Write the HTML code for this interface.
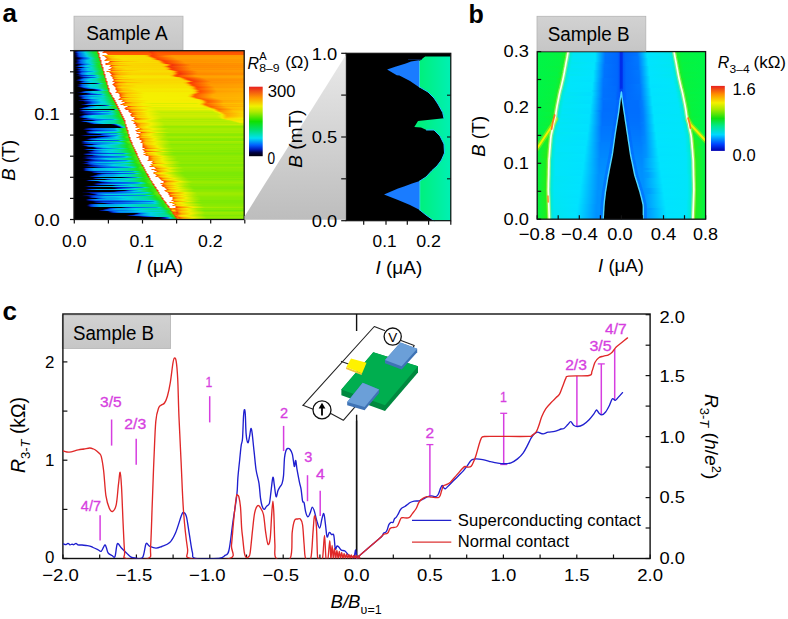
<!DOCTYPE html>
<html><head><meta charset="utf-8"><style>
html,body{margin:0;padding:0;background:#fff;}
body{width:788px;height:619px;overflow:hidden;}
svg{display:block;font-family:"Liberation Sans", sans-serif;}
</style></head><body>
<svg width="788" height="619" viewBox="0 0 788 619">
<defs>
<linearGradient id="g1" gradientUnits="userSpaceOnUse" x1="74.0" y1="0" x2="244.2" y2="0"><stop offset="0.0000" stop-color="#000000"/><stop offset="0.0118" stop-color="#000559"/><stop offset="0.0176" stop-color="#0013a6"/><stop offset="0.0235" stop-color="#0039cf"/><stop offset="0.0353" stop-color="#0060f0"/><stop offset="0.0705" stop-color="#00d5e0"/><stop offset="0.1116" stop-color="#0fdf4c"/><stop offset="0.1351" stop-color="#1ae122"/><stop offset="0.1410" stop-color="#f53608"/><stop offset="0.1469" stop-color="#ffffff"/><stop offset="0.1704" stop-color="#ffffff"/><stop offset="0.1763" stop-color="#ff4900"/><stop offset="0.1821" stop-color="#ff5f00"/><stop offset="0.4348" stop-color="#ff5f00"/><stop offset="0.4524" stop-color="#ff4500"/><stop offset="0.4877" stop-color="#ff5f00"/><stop offset="0.9988" stop-color="#ff5f00"/></linearGradient>
<linearGradient id="g2" gradientUnits="userSpaceOnUse" x1="74.0" y1="0" x2="244.2" y2="0"><stop offset="0.0000" stop-color="#000000"/><stop offset="0.0118" stop-color="#001199"/><stop offset="0.0235" stop-color="#005bf0"/><stop offset="0.0646" stop-color="#00d5e0"/><stop offset="0.1116" stop-color="#14e039"/><stop offset="0.1351" stop-color="#2ae212"/><stop offset="0.1410" stop-color="#f53608"/><stop offset="0.1469" stop-color="#ffffff"/><stop offset="0.1645" stop-color="#ffffff"/><stop offset="0.1704" stop-color="#ff4e00"/><stop offset="0.4348" stop-color="#ff5000"/><stop offset="0.4524" stop-color="#f63807"/><stop offset="0.4877" stop-color="#ff5000"/><stop offset="0.9988" stop-color="#ff5000"/></linearGradient>
<linearGradient id="g3" gradientUnits="userSpaceOnUse" x1="74.0" y1="0" x2="244.2" y2="0"><stop offset="0.0000" stop-color="#000000"/><stop offset="0.0118" stop-color="#000452"/><stop offset="0.0235" stop-color="#0035cb"/><stop offset="0.0294" stop-color="#0057ed"/><stop offset="0.0353" stop-color="#0067ef"/><stop offset="0.0705" stop-color="#00d4e5"/><stop offset="0.1116" stop-color="#0edf4f"/><stop offset="0.1351" stop-color="#1de119"/><stop offset="0.1410" stop-color="#f53608"/><stop offset="0.1469" stop-color="#f53608"/><stop offset="0.1528" stop-color="#ffffff"/><stop offset="0.1880" stop-color="#ffffff"/><stop offset="0.1939" stop-color="#ff5900"/><stop offset="0.4465" stop-color="#ff5900"/><stop offset="0.4583" stop-color="#fb3f03"/><stop offset="0.4935" stop-color="#ff5900"/><stop offset="0.9988" stop-color="#ff5900"/></linearGradient>
<linearGradient id="g4" gradientUnits="userSpaceOnUse" x1="74.0" y1="0" x2="244.2" y2="0"><stop offset="0.0000" stop-color="#000000"/><stop offset="0.0118" stop-color="#00065d"/><stop offset="0.0176" stop-color="#0014aa"/><stop offset="0.0294" stop-color="#0057ed"/><stop offset="0.0353" stop-color="#0064ef"/><stop offset="0.0705" stop-color="#00d0e8"/><stop offset="0.1234" stop-color="#14e03a"/><stop offset="0.1410" stop-color="#1be11d"/><stop offset="0.1469" stop-color="#f53608"/><stop offset="0.1528" stop-color="#ffffff"/><stop offset="0.1939" stop-color="#ffffff"/><stop offset="0.1998" stop-color="#ff5c00"/><stop offset="0.4465" stop-color="#ff5c00"/><stop offset="0.4642" stop-color="#fd4301"/><stop offset="0.4994" stop-color="#ff5c00"/><stop offset="0.9988" stop-color="#ff5c00"/></linearGradient>
<linearGradient id="g5" gradientUnits="userSpaceOnUse" x1="74.0" y1="0" x2="244.2" y2="0"><stop offset="0.0000" stop-color="#000000"/><stop offset="0.0118" stop-color="#000144"/><stop offset="0.0176" stop-color="#000e8a"/><stop offset="0.0294" stop-color="#0051e7"/><stop offset="0.0353" stop-color="#0063ef"/><stop offset="0.0764" stop-color="#00d5df"/><stop offset="0.1234" stop-color="#13e03b"/><stop offset="0.1410" stop-color="#1de119"/><stop offset="0.1469" stop-color="#f53608"/><stop offset="0.1528" stop-color="#ffffff"/><stop offset="0.1645" stop-color="#ffffff"/><stop offset="0.1704" stop-color="#ff5d00"/><stop offset="0.1821" stop-color="#ffba00"/><stop offset="0.2056" stop-color="#f8df00"/><stop offset="0.4113" stop-color="#f9dc00"/><stop offset="0.4289" stop-color="#ffc000"/><stop offset="0.4524" stop-color="#ff4700"/><stop offset="0.4583" stop-color="#fb4003"/><stop offset="0.5758" stop-color="#ff9800"/><stop offset="0.9988" stop-color="#ff9a00"/></linearGradient>
<linearGradient id="g6" gradientUnits="userSpaceOnUse" x1="74.0" y1="0" x2="244.2" y2="0"><stop offset="0.0000" stop-color="#000000"/><stop offset="0.0118" stop-color="#00003b"/><stop offset="0.0176" stop-color="#000d82"/><stop offset="0.0235" stop-color="#0028be"/><stop offset="0.0353" stop-color="#005df0"/><stop offset="0.0764" stop-color="#00d4e7"/><stop offset="0.1234" stop-color="#10e048"/><stop offset="0.1410" stop-color="#1be120"/><stop offset="0.1469" stop-color="#f53608"/><stop offset="0.1528" stop-color="#ffffff"/><stop offset="0.1763" stop-color="#ffffff"/><stop offset="0.1821" stop-color="#ff6700"/><stop offset="0.2056" stop-color="#ffbc00"/><stop offset="0.2526" stop-color="#f8e100"/><stop offset="0.4172" stop-color="#f9dd00"/><stop offset="0.4348" stop-color="#ffbb00"/><stop offset="0.4524" stop-color="#ff5900"/><stop offset="0.4642" stop-color="#fd4301"/><stop offset="0.5347" stop-color="#ff8700"/><stop offset="0.5817" stop-color="#ff9b00"/><stop offset="0.9988" stop-color="#ff9d00"/></linearGradient>
<linearGradient id="g7" gradientUnits="userSpaceOnUse" x1="74.0" y1="0" x2="244.2" y2="0"><stop offset="0.0000" stop-color="#000000"/><stop offset="0.0176" stop-color="#000027"/><stop offset="0.0353" stop-color="#0013a6"/><stop offset="0.0588" stop-color="#005cf0"/><stop offset="0.0940" stop-color="#00d5e0"/><stop offset="0.1234" stop-color="#0cdf55"/><stop offset="0.1410" stop-color="#19e027"/><stop offset="0.1469" stop-color="#f53608"/><stop offset="0.1528" stop-color="#f53608"/><stop offset="0.1586" stop-color="#ffffff"/><stop offset="0.1821" stop-color="#ffffff"/><stop offset="0.1880" stop-color="#ff4e00"/><stop offset="0.1998" stop-color="#ff9d00"/><stop offset="0.2115" stop-color="#fec300"/><stop offset="0.2468" stop-color="#f8e300"/><stop offset="0.4348" stop-color="#f9dd00"/><stop offset="0.4465" stop-color="#fdc700"/><stop offset="0.4700" stop-color="#ff4f00"/><stop offset="0.4759" stop-color="#ff4600"/><stop offset="0.5934" stop-color="#ff9d00"/><stop offset="0.9988" stop-color="#ffa000"/></linearGradient>
<linearGradient id="g8" gradientUnits="userSpaceOnUse" x1="74.0" y1="0" x2="244.2" y2="0"><stop offset="0.0000" stop-color="#000000"/><stop offset="0.0118" stop-color="#000000"/><stop offset="0.0235" stop-color="#00001f"/><stop offset="0.0294" stop-color="#000038"/><stop offset="0.0470" stop-color="#0024ba"/><stop offset="0.0588" stop-color="#004de3"/><stop offset="0.0705" stop-color="#0066ef"/><stop offset="0.0999" stop-color="#00d5da"/><stop offset="0.1293" stop-color="#0fdf4b"/><stop offset="0.1469" stop-color="#19e125"/><stop offset="0.1528" stop-color="#f53608"/><stop offset="0.1586" stop-color="#ffffff"/><stop offset="0.1880" stop-color="#ffffff"/><stop offset="0.1939" stop-color="#ff6a00"/><stop offset="0.2233" stop-color="#fec300"/><stop offset="0.2761" stop-color="#f7e400"/><stop offset="0.4465" stop-color="#f8df00"/><stop offset="0.4642" stop-color="#ffb800"/><stop offset="0.4877" stop-color="#ff4700"/><stop offset="0.6052" stop-color="#ff9d00"/><stop offset="0.9988" stop-color="#ffa100"/></linearGradient>
<linearGradient id="g9" gradientUnits="userSpaceOnUse" x1="74.0" y1="0" x2="244.2" y2="0"><stop offset="0.0000" stop-color="#000000"/><stop offset="0.0059" stop-color="#000000"/><stop offset="0.0176" stop-color="#00003e"/><stop offset="0.0294" stop-color="#00129f"/><stop offset="0.0470" stop-color="#0059ef"/><stop offset="0.0529" stop-color="#0064ef"/><stop offset="0.0940" stop-color="#00d5de"/><stop offset="0.1293" stop-color="#11e045"/><stop offset="0.1469" stop-color="#1ce11a"/><stop offset="0.1528" stop-color="#f53608"/><stop offset="0.1586" stop-color="#ffffff"/><stop offset="0.1821" stop-color="#ffffff"/><stop offset="0.1880" stop-color="#ff5000"/><stop offset="0.1998" stop-color="#ff8200"/><stop offset="0.2233" stop-color="#ffb700"/><stop offset="0.2879" stop-color="#f9de00"/><stop offset="0.4524" stop-color="#f9da00"/><stop offset="0.4700" stop-color="#ffb300"/><stop offset="0.4935" stop-color="#fc4103"/><stop offset="0.6110" stop-color="#ff9700"/><stop offset="0.9988" stop-color="#ff9a00"/></linearGradient>
<linearGradient id="g10" gradientUnits="userSpaceOnUse" x1="74.0" y1="0" x2="244.2" y2="0"><stop offset="0.0000" stop-color="#000000"/><stop offset="0.0059" stop-color="#000000"/><stop offset="0.0176" stop-color="#000557"/><stop offset="0.0235" stop-color="#0013a2"/><stop offset="0.0353" stop-color="#0059ef"/><stop offset="0.0411" stop-color="#0067ef"/><stop offset="0.0764" stop-color="#00d0e8"/><stop offset="0.0940" stop-color="#00d6d0"/><stop offset="0.1469" stop-color="#1ce11c"/><stop offset="0.1528" stop-color="#f53608"/><stop offset="0.1586" stop-color="#f53608"/><stop offset="0.1645" stop-color="#ffffff"/><stop offset="0.1763" stop-color="#ffffff"/><stop offset="0.1821" stop-color="#fd4401"/><stop offset="0.1939" stop-color="#ff9200"/><stop offset="0.2056" stop-color="#ffba00"/><stop offset="0.2468" stop-color="#f8df00"/><stop offset="0.4759" stop-color="#f9db00"/><stop offset="0.4935" stop-color="#ffba00"/><stop offset="0.5112" stop-color="#ff5800"/><stop offset="0.5229" stop-color="#fb4003"/><stop offset="0.6345" stop-color="#ff9700"/><stop offset="0.9988" stop-color="#ff9a00"/></linearGradient>
<linearGradient id="g11" gradientUnits="userSpaceOnUse" x1="74.0" y1="0" x2="244.2" y2="0"><stop offset="0.0000" stop-color="#000000"/><stop offset="0.0118" stop-color="#000000"/><stop offset="0.0294" stop-color="#0022b8"/><stop offset="0.0411" stop-color="#0064ef"/><stop offset="0.0764" stop-color="#00cbe9"/><stop offset="0.0940" stop-color="#00d6d0"/><stop offset="0.1351" stop-color="#14e039"/><stop offset="0.1528" stop-color="#1fe114"/><stop offset="0.1586" stop-color="#f53608"/><stop offset="0.1645" stop-color="#ffffff"/><stop offset="0.2056" stop-color="#ffffff"/><stop offset="0.2115" stop-color="#fb3f04"/><stop offset="0.2174" stop-color="#ff5000"/><stop offset="0.2468" stop-color="#ff8f00"/><stop offset="0.2879" stop-color="#ffbc00"/><stop offset="0.3937" stop-color="#f9dc00"/><stop offset="0.4935" stop-color="#fbd200"/><stop offset="0.5053" stop-color="#ffb400"/><stop offset="0.5229" stop-color="#ff5100"/><stop offset="0.5347" stop-color="#fa3e04"/><stop offset="0.6463" stop-color="#ff9400"/><stop offset="0.9988" stop-color="#ff9800"/></linearGradient>
<linearGradient id="g12" gradientUnits="userSpaceOnUse" x1="74.0" y1="0" x2="244.2" y2="0"><stop offset="0.0000" stop-color="#000000"/><stop offset="0.0059" stop-color="#000000"/><stop offset="0.0118" stop-color="#000028"/><stop offset="0.0176" stop-color="#000558"/><stop offset="0.0235" stop-color="#0013a5"/><stop offset="0.0353" stop-color="#0056ec"/><stop offset="0.0411" stop-color="#0063ef"/><stop offset="0.0764" stop-color="#00cae9"/><stop offset="0.0940" stop-color="#00d5da"/><stop offset="0.1528" stop-color="#1be11f"/><stop offset="0.1586" stop-color="#f53608"/><stop offset="0.1645" stop-color="#ffffff"/><stop offset="0.1998" stop-color="#ffffff"/><stop offset="0.2056" stop-color="#ff5600"/><stop offset="0.2174" stop-color="#ff9900"/><stop offset="0.2291" stop-color="#ffbd00"/><stop offset="0.2703" stop-color="#f8e100"/><stop offset="0.4935" stop-color="#f9dc00"/><stop offset="0.5053" stop-color="#fdca00"/><stop offset="0.5288" stop-color="#ff5500"/><stop offset="0.5405" stop-color="#fd4301"/><stop offset="0.6522" stop-color="#ff9a00"/><stop offset="0.9988" stop-color="#ff9d00"/></linearGradient>
<linearGradient id="g13" gradientUnits="userSpaceOnUse" x1="74.0" y1="0" x2="244.2" y2="0"><stop offset="0.0000" stop-color="#000000"/><stop offset="0.0059" stop-color="#000000"/><stop offset="0.0118" stop-color="#000453"/><stop offset="0.0235" stop-color="#001092"/><stop offset="0.0470" stop-color="#0064ef"/><stop offset="0.0940" stop-color="#00d4e4"/><stop offset="0.1351" stop-color="#14e037"/><stop offset="0.1528" stop-color="#2ce212"/><stop offset="0.1586" stop-color="#f53608"/><stop offset="0.1645" stop-color="#ffffff"/><stop offset="0.1821" stop-color="#ffffff"/><stop offset="0.1880" stop-color="#fb4003"/><stop offset="0.1939" stop-color="#ff5600"/><stop offset="0.2115" stop-color="#ff8a00"/><stop offset="0.2409" stop-color="#ffb600"/><stop offset="0.3173" stop-color="#fad700"/><stop offset="0.5053" stop-color="#fbd000"/><stop offset="0.5170" stop-color="#ffba00"/><stop offset="0.5405" stop-color="#fb3f03"/><stop offset="0.5464" stop-color="#f53608"/><stop offset="0.6580" stop-color="#ff8d00"/><stop offset="0.9988" stop-color="#ff9100"/></linearGradient>
<linearGradient id="g14" gradientUnits="userSpaceOnUse" x1="74.0" y1="0" x2="244.2" y2="0"><stop offset="0.0000" stop-color="#000000"/><stop offset="0.0235" stop-color="#000000"/><stop offset="0.0294" stop-color="#000143"/><stop offset="0.0353" stop-color="#000451"/><stop offset="0.0470" stop-color="#0013a4"/><stop offset="0.0646" stop-color="#0061f0"/><stop offset="0.1058" stop-color="#00d5db"/><stop offset="0.1351" stop-color="#11e043"/><stop offset="0.1528" stop-color="#25e213"/><stop offset="0.1586" stop-color="#f53608"/><stop offset="0.1645" stop-color="#f53608"/><stop offset="0.1704" stop-color="#ffffff"/><stop offset="0.1821" stop-color="#ffffff"/><stop offset="0.1880" stop-color="#fd4301"/><stop offset="0.1998" stop-color="#ff7f00"/><stop offset="0.2233" stop-color="#ffb900"/><stop offset="0.2761" stop-color="#fad800"/><stop offset="0.5288" stop-color="#fad500"/><stop offset="0.5464" stop-color="#ffb900"/><stop offset="0.5640" stop-color="#ff5800"/><stop offset="0.5758" stop-color="#f63807"/><stop offset="0.6874" stop-color="#ff8f00"/><stop offset="0.9988" stop-color="#ff9300"/></linearGradient>
<linearGradient id="g15" gradientUnits="userSpaceOnUse" x1="74.0" y1="0" x2="244.2" y2="0"><stop offset="0.0000" stop-color="#000000"/><stop offset="0.0176" stop-color="#000000"/><stop offset="0.0235" stop-color="#000869"/><stop offset="0.0294" stop-color="#00119a"/><stop offset="0.0411" stop-color="#0055eb"/><stop offset="0.0470" stop-color="#0074ee"/><stop offset="0.0823" stop-color="#00d4e5"/><stop offset="0.1116" stop-color="#00db9e"/><stop offset="0.1469" stop-color="#1ee114"/><stop offset="0.1586" stop-color="#37e310"/><stop offset="0.1645" stop-color="#f53608"/><stop offset="0.1704" stop-color="#ffffff"/><stop offset="0.2115" stop-color="#ffffff"/><stop offset="0.2174" stop-color="#f93c05"/><stop offset="0.2233" stop-color="#ff5200"/><stop offset="0.2409" stop-color="#ff8600"/><stop offset="0.2703" stop-color="#ffb200"/><stop offset="0.3467" stop-color="#fbd400"/><stop offset="0.5288" stop-color="#fbd000"/><stop offset="0.5464" stop-color="#ffaf00"/><stop offset="0.5640" stop-color="#ff4c00"/><stop offset="0.5758" stop-color="#f2320a"/><stop offset="0.6874" stop-color="#ff8900"/><stop offset="0.9988" stop-color="#ff8d00"/></linearGradient>
<linearGradient id="g16" gradientUnits="userSpaceOnUse" x1="74.0" y1="0" x2="244.2" y2="0"><stop offset="0.0000" stop-color="#000000"/><stop offset="0.0059" stop-color="#000000"/><stop offset="0.0118" stop-color="#000454"/><stop offset="0.0176" stop-color="#000d85"/><stop offset="0.0294" stop-color="#0050e6"/><stop offset="0.0353" stop-color="#0070ef"/><stop offset="0.0705" stop-color="#00d2e8"/><stop offset="0.1058" stop-color="#00d9b7"/><stop offset="0.1469" stop-color="#1be120"/><stop offset="0.1586" stop-color="#2de212"/><stop offset="0.1645" stop-color="#f53608"/><stop offset="0.1704" stop-color="#ffffff"/><stop offset="0.2056" stop-color="#ffffff"/><stop offset="0.2115" stop-color="#fe4401"/><stop offset="0.2174" stop-color="#ff8700"/><stop offset="0.2233" stop-color="#ffab00"/><stop offset="0.2468" stop-color="#fad700"/><stop offset="0.5112" stop-color="#fad500"/><stop offset="0.5288" stop-color="#ffbf00"/><stop offset="0.5582" stop-color="#f53608"/><stop offset="0.6757" stop-color="#ff8d00"/><stop offset="0.9988" stop-color="#ff9100"/></linearGradient>
<linearGradient id="g17" gradientUnits="userSpaceOnUse" x1="74.0" y1="0" x2="244.2" y2="0"><stop offset="0.0000" stop-color="#000000"/><stop offset="0.0411" stop-color="#000000"/><stop offset="0.0470" stop-color="#000a71"/><stop offset="0.0529" stop-color="#0018ae"/><stop offset="0.0646" stop-color="#0067ef"/><stop offset="0.0999" stop-color="#00d5e1"/><stop offset="0.1469" stop-color="#1ae121"/><stop offset="0.1586" stop-color="#2fe211"/><stop offset="0.1645" stop-color="#f53608"/><stop offset="0.1704" stop-color="#f53608"/><stop offset="0.1763" stop-color="#ffffff"/><stop offset="0.2174" stop-color="#ffffff"/><stop offset="0.2233" stop-color="#ff5800"/><stop offset="0.2291" stop-color="#ff8700"/><stop offset="0.2409" stop-color="#ffb700"/><stop offset="0.2703" stop-color="#fad500"/><stop offset="0.5229" stop-color="#fbd300"/><stop offset="0.5405" stop-color="#ffbc00"/><stop offset="0.5699" stop-color="#f33409"/><stop offset="0.6816" stop-color="#ff8a00"/><stop offset="0.9988" stop-color="#ff8e00"/></linearGradient>
<linearGradient id="g18" gradientUnits="userSpaceOnUse" x1="74.0" y1="0" x2="244.2" y2="0"><stop offset="0.0000" stop-color="#000000"/><stop offset="0.0059" stop-color="#000000"/><stop offset="0.0176" stop-color="#000556"/><stop offset="0.0235" stop-color="#00129d"/><stop offset="0.0353" stop-color="#005af0"/><stop offset="0.0764" stop-color="#00cee8"/><stop offset="0.1058" stop-color="#00d7ca"/><stop offset="0.1528" stop-color="#19e027"/><stop offset="0.1645" stop-color="#20e114"/><stop offset="0.1704" stop-color="#f53608"/><stop offset="0.1763" stop-color="#ffffff"/><stop offset="0.2115" stop-color="#ffffff"/><stop offset="0.2174" stop-color="#ff5700"/><stop offset="0.2291" stop-color="#ff8a00"/><stop offset="0.2526" stop-color="#ffbe00"/><stop offset="0.3055" stop-color="#f9dc00"/><stop offset="0.5347" stop-color="#fad900"/><stop offset="0.5523" stop-color="#ffb800"/><stop offset="0.5699" stop-color="#ff5600"/><stop offset="0.5817" stop-color="#f93d05"/><stop offset="0.6933" stop-color="#ff9400"/><stop offset="0.9988" stop-color="#ff9700"/></linearGradient>
<linearGradient id="g19" gradientUnits="userSpaceOnUse" x1="74.0" y1="0" x2="244.2" y2="0"><stop offset="0.0000" stop-color="#000000"/><stop offset="0.0176" stop-color="#000000"/><stop offset="0.0353" stop-color="#0018ae"/><stop offset="0.0470" stop-color="#0065ef"/><stop offset="0.0823" stop-color="#00cce9"/><stop offset="0.1116" stop-color="#00d8bc"/><stop offset="0.1528" stop-color="#1ae122"/><stop offset="0.1645" stop-color="#2ae212"/><stop offset="0.1704" stop-color="#f53608"/><stop offset="0.1763" stop-color="#ffffff"/><stop offset="0.1998" stop-color="#ffffff"/><stop offset="0.2056" stop-color="#ff5300"/><stop offset="0.2233" stop-color="#ff9000"/><stop offset="0.2468" stop-color="#ffb900"/><stop offset="0.3114" stop-color="#fad800"/><stop offset="0.5347" stop-color="#fbd300"/><stop offset="0.5464" stop-color="#ffbf00"/><stop offset="0.5699" stop-color="#fe4501"/><stop offset="0.5758" stop-color="#f63807"/><stop offset="0.6874" stop-color="#ff8e00"/><stop offset="0.9988" stop-color="#ff9200"/></linearGradient>
<linearGradient id="g20" gradientUnits="userSpaceOnUse" x1="74.0" y1="0" x2="244.2" y2="0"><stop offset="0.0000" stop-color="#000000"/><stop offset="0.0059" stop-color="#000000"/><stop offset="0.0176" stop-color="#000038"/><stop offset="0.0294" stop-color="#0023b9"/><stop offset="0.0411" stop-color="#005ff0"/><stop offset="0.0823" stop-color="#00cee8"/><stop offset="0.1116" stop-color="#00d7cc"/><stop offset="0.1645" stop-color="#1ce11d"/><stop offset="0.1704" stop-color="#f53608"/><stop offset="0.1763" stop-color="#ffffff"/><stop offset="0.2115" stop-color="#ffffff"/><stop offset="0.2174" stop-color="#ff5100"/><stop offset="0.2468" stop-color="#ff9100"/><stop offset="0.2879" stop-color="#ffbe00"/><stop offset="0.3995" stop-color="#f8df00"/><stop offset="0.5582" stop-color="#fad800"/><stop offset="0.5699" stop-color="#ffbf00"/><stop offset="0.5875" stop-color="#ff6000"/><stop offset="0.5993" stop-color="#fc4103"/><stop offset="0.7109" stop-color="#ff9700"/><stop offset="0.9988" stop-color="#ff9b00"/></linearGradient>
<linearGradient id="g21" gradientUnits="userSpaceOnUse" x1="74.0" y1="0" x2="244.2" y2="0"><stop offset="0.0000" stop-color="#000000"/><stop offset="0.0118" stop-color="#000000"/><stop offset="0.0235" stop-color="#00003b"/><stop offset="0.0353" stop-color="#0013a3"/><stop offset="0.0411" stop-color="#002bc1"/><stop offset="0.0646" stop-color="#005bf0"/><stop offset="0.1058" stop-color="#00a4eb"/><stop offset="0.1175" stop-color="#00cce9"/><stop offset="0.1528" stop-color="#13e03c"/><stop offset="0.1704" stop-color="#1de116"/><stop offset="0.1763" stop-color="#f53608"/><stop offset="0.1821" stop-color="#ffffff"/><stop offset="0.1880" stop-color="#ffffff"/><stop offset="0.1939" stop-color="#ff4800"/><stop offset="0.2056" stop-color="#ff8000"/><stop offset="0.2291" stop-color="#ffb900"/><stop offset="0.2879" stop-color="#f9de00"/><stop offset="0.5699" stop-color="#f9dc00"/><stop offset="0.5875" stop-color="#fec400"/><stop offset="0.6110" stop-color="#ff4c00"/><stop offset="0.6169" stop-color="#fb3f03"/><stop offset="0.7286" stop-color="#ff9500"/><stop offset="0.9988" stop-color="#ff9a00"/></linearGradient>
<linearGradient id="g22" gradientUnits="userSpaceOnUse" x1="74.0" y1="0" x2="244.2" y2="0"><stop offset="0.0000" stop-color="#000000"/><stop offset="0.0176" stop-color="#000000"/><stop offset="0.0294" stop-color="#000760"/><stop offset="0.0353" stop-color="#0013a5"/><stop offset="0.0470" stop-color="#005ff0"/><stop offset="0.0881" stop-color="#00d4e6"/><stop offset="0.1116" stop-color="#00d7c8"/><stop offset="0.1586" stop-color="#1ae123"/><stop offset="0.1704" stop-color="#26e213"/><stop offset="0.1763" stop-color="#f53608"/><stop offset="0.1821" stop-color="#ffffff"/><stop offset="0.2056" stop-color="#ffffff"/><stop offset="0.2115" stop-color="#ff4c00"/><stop offset="0.2350" stop-color="#ff8f00"/><stop offset="0.2644" stop-color="#ffb900"/><stop offset="0.3467" stop-color="#f9da00"/><stop offset="0.5699" stop-color="#fad600"/><stop offset="0.5875" stop-color="#ffb500"/><stop offset="0.6052" stop-color="#ff5300"/><stop offset="0.6169" stop-color="#f73a06"/><stop offset="0.7227" stop-color="#ff9000"/><stop offset="0.9988" stop-color="#ff9500"/></linearGradient>
<linearGradient id="g23" gradientUnits="userSpaceOnUse" x1="74.0" y1="0" x2="244.2" y2="0"><stop offset="0.0000" stop-color="#000000"/><stop offset="0.0118" stop-color="#000000"/><stop offset="0.0176" stop-color="#00065b"/><stop offset="0.0235" stop-color="#000b77"/><stop offset="0.0294" stop-color="#001cb2"/><stop offset="0.0411" stop-color="#006bef"/><stop offset="0.0764" stop-color="#00d0e8"/><stop offset="0.1175" stop-color="#00d9b2"/><stop offset="0.1586" stop-color="#1ce11c"/><stop offset="0.1704" stop-color="#33e311"/><stop offset="0.1763" stop-color="#f53608"/><stop offset="0.1821" stop-color="#ffffff"/><stop offset="0.2115" stop-color="#ffffff"/><stop offset="0.2174" stop-color="#fa3f04"/><stop offset="0.2233" stop-color="#ff5800"/><stop offset="0.2409" stop-color="#ff8e00"/><stop offset="0.2644" stop-color="#ffb400"/><stop offset="0.3290" stop-color="#fbd400"/><stop offset="0.5758" stop-color="#fbd000"/><stop offset="0.5934" stop-color="#ffa900"/><stop offset="0.6110" stop-color="#fe4501"/><stop offset="0.6228" stop-color="#f33309"/><stop offset="0.7286" stop-color="#ff8a00"/><stop offset="0.9988" stop-color="#ff8e00"/></linearGradient>
<linearGradient id="g24" gradientUnits="userSpaceOnUse" x1="74.0" y1="0" x2="244.2" y2="0"><stop offset="0.0000" stop-color="#000000"/><stop offset="0.0235" stop-color="#000000"/><stop offset="0.0294" stop-color="#000a74"/><stop offset="0.0353" stop-color="#001ab0"/><stop offset="0.0470" stop-color="#0068ef"/><stop offset="0.0823" stop-color="#00d0e8"/><stop offset="0.1175" stop-color="#00d9b8"/><stop offset="0.1645" stop-color="#22e113"/><stop offset="0.1704" stop-color="#30e211"/><stop offset="0.1763" stop-color="#f53608"/><stop offset="0.1821" stop-color="#f53608"/><stop offset="0.1880" stop-color="#ffffff"/><stop offset="0.2174" stop-color="#ffffff"/><stop offset="0.2233" stop-color="#f73906"/><stop offset="0.2291" stop-color="#ff5100"/><stop offset="0.2468" stop-color="#ff8800"/><stop offset="0.2761" stop-color="#ffb600"/><stop offset="0.3467" stop-color="#fad500"/><stop offset="0.5699" stop-color="#fbd100"/><stop offset="0.5817" stop-color="#fec100"/><stop offset="0.6052" stop-color="#ff4900"/><stop offset="0.6169" stop-color="#f43409"/><stop offset="0.7227" stop-color="#ff8a00"/><stop offset="0.9988" stop-color="#ff8f00"/></linearGradient>
<linearGradient id="g25" gradientUnits="userSpaceOnUse" x1="74.0" y1="0" x2="244.2" y2="0"><stop offset="0.0000" stop-color="#000000"/><stop offset="0.0118" stop-color="#000000"/><stop offset="0.0411" stop-color="#0013a2"/><stop offset="0.1058" stop-color="#005ef0"/><stop offset="0.1175" stop-color="#007cee"/><stop offset="0.1351" stop-color="#00d6d8"/><stop offset="0.1586" stop-color="#10e047"/><stop offset="0.1763" stop-color="#1be11e"/><stop offset="0.1821" stop-color="#f53608"/><stop offset="0.1880" stop-color="#ffffff"/><stop offset="0.2115" stop-color="#ffffff"/><stop offset="0.2174" stop-color="#ff5b00"/><stop offset="0.2291" stop-color="#ff8a00"/><stop offset="0.2526" stop-color="#ffbd00"/><stop offset="0.3173" stop-color="#f8e100"/><stop offset="0.5582" stop-color="#f9de00"/><stop offset="0.5758" stop-color="#ffbe00"/><stop offset="0.5934" stop-color="#ff5d00"/><stop offset="0.6052" stop-color="#fe4401"/><stop offset="0.7109" stop-color="#ff9900"/><stop offset="0.9988" stop-color="#ff9e00"/></linearGradient>
<linearGradient id="g26" gradientUnits="userSpaceOnUse" x1="74.0" y1="0" x2="244.2" y2="0"><stop offset="0.0000" stop-color="#000000"/><stop offset="0.0235" stop-color="#00000b"/><stop offset="0.0294" stop-color="#000028"/><stop offset="0.0411" stop-color="#001ab0"/><stop offset="0.0588" stop-color="#005cf0"/><stop offset="0.0940" stop-color="#00bdea"/><stop offset="0.1234" stop-color="#00d5da"/><stop offset="0.1763" stop-color="#17e02c"/><stop offset="0.1821" stop-color="#f53608"/><stop offset="0.1880" stop-color="#ffffff"/><stop offset="0.2174" stop-color="#ffffff"/><stop offset="0.2233" stop-color="#ff6300"/><stop offset="0.2468" stop-color="#ffbf00"/><stop offset="0.2938" stop-color="#f7e600"/><stop offset="0.5640" stop-color="#f7e400"/><stop offset="0.5817" stop-color="#fdc600"/><stop offset="0.5993" stop-color="#ff6800"/><stop offset="0.6110" stop-color="#ff4c00"/><stop offset="0.7227" stop-color="#ffa100"/><stop offset="0.9988" stop-color="#ffa500"/></linearGradient>
<linearGradient id="g27" gradientUnits="userSpaceOnUse" x1="74.0" y1="0" x2="244.2" y2="0"><stop offset="0.0000" stop-color="#000000"/><stop offset="0.0294" stop-color="#000000"/><stop offset="0.0588" stop-color="#001198"/><stop offset="0.1175" stop-color="#0066ef"/><stop offset="0.1351" stop-color="#00c2e9"/><stop offset="0.1410" stop-color="#00d6d2"/><stop offset="0.1586" stop-color="#09df61"/><stop offset="0.1763" stop-color="#18e02a"/><stop offset="0.1821" stop-color="#f53608"/><stop offset="0.1880" stop-color="#ffffff"/><stop offset="0.2233" stop-color="#ffffff"/><stop offset="0.2291" stop-color="#ff5400"/><stop offset="0.2409" stop-color="#ff8700"/><stop offset="0.2644" stop-color="#ffbd00"/><stop offset="0.3349" stop-color="#f7e600"/><stop offset="0.5993" stop-color="#f8e300"/><stop offset="0.6169" stop-color="#fec300"/><stop offset="0.6345" stop-color="#ff6300"/><stop offset="0.6463" stop-color="#ff4b00"/><stop offset="0.7521" stop-color="#ff9f00"/><stop offset="0.9988" stop-color="#ffa400"/></linearGradient>
<linearGradient id="g28" gradientUnits="userSpaceOnUse" x1="74.0" y1="0" x2="244.2" y2="0"><stop offset="0.0000" stop-color="#000000"/><stop offset="0.0294" stop-color="#000000"/><stop offset="0.0470" stop-color="#001cb2"/><stop offset="0.0588" stop-color="#0063ef"/><stop offset="0.0999" stop-color="#00d4e7"/><stop offset="0.1234" stop-color="#00d7ca"/><stop offset="0.1704" stop-color="#1ae124"/><stop offset="0.1821" stop-color="#22e113"/><stop offset="0.1880" stop-color="#f53608"/><stop offset="0.1939" stop-color="#ffffff"/><stop offset="0.2233" stop-color="#ffffff"/><stop offset="0.2291" stop-color="#ff4c00"/><stop offset="0.2350" stop-color="#ff8e00"/><stop offset="0.2409" stop-color="#ffb200"/><stop offset="0.2644" stop-color="#f9dc00"/><stop offset="0.6110" stop-color="#f9dd00"/><stop offset="0.6287" stop-color="#fccb00"/><stop offset="0.6522" stop-color="#ff5700"/><stop offset="0.6639" stop-color="#fb4003"/><stop offset="0.7697" stop-color="#ff9500"/><stop offset="0.9988" stop-color="#ff9a00"/></linearGradient>
<linearGradient id="g29" gradientUnits="userSpaceOnUse" x1="74.0" y1="0" x2="244.2" y2="0"><stop offset="0.0000" stop-color="#000000"/><stop offset="0.0176" stop-color="#000000"/><stop offset="0.0235" stop-color="#000450"/><stop offset="0.0353" stop-color="#001fb5"/><stop offset="0.0470" stop-color="#006bef"/><stop offset="0.0881" stop-color="#00d5e2"/><stop offset="0.1293" stop-color="#00d9b4"/><stop offset="0.1704" stop-color="#1ce11d"/><stop offset="0.1821" stop-color="#2fe211"/><stop offset="0.1880" stop-color="#f53608"/><stop offset="0.1939" stop-color="#ffffff"/><stop offset="0.2291" stop-color="#ffffff"/><stop offset="0.2350" stop-color="#fb4003"/><stop offset="0.2409" stop-color="#ff5600"/><stop offset="0.2585" stop-color="#ff8800"/><stop offset="0.2879" stop-color="#ffb500"/><stop offset="0.3702" stop-color="#fad900"/><stop offset="0.6287" stop-color="#fad600"/><stop offset="0.6404" stop-color="#fec500"/><stop offset="0.6639" stop-color="#ff4e00"/><stop offset="0.6757" stop-color="#f73a06"/><stop offset="0.7814" stop-color="#ff8f00"/><stop offset="0.9988" stop-color="#ff9400"/></linearGradient>
<linearGradient id="g30" gradientUnits="userSpaceOnUse" x1="74.0" y1="0" x2="244.2" y2="0"><stop offset="0.0000" stop-color="#000000"/><stop offset="0.0118" stop-color="#000000"/><stop offset="0.0176" stop-color="#000556"/><stop offset="0.0235" stop-color="#000b76"/><stop offset="0.0294" stop-color="#001cb2"/><stop offset="0.0411" stop-color="#006aef"/><stop offset="0.0823" stop-color="#00d5e2"/><stop offset="0.1293" stop-color="#00d9b2"/><stop offset="0.1704" stop-color="#1be11f"/><stop offset="0.1821" stop-color="#31e311"/><stop offset="0.1880" stop-color="#f53608"/><stop offset="0.1939" stop-color="#ffffff"/><stop offset="0.2291" stop-color="#ffffff"/><stop offset="0.2350" stop-color="#ff6f00"/><stop offset="0.2468" stop-color="#ffb800"/><stop offset="0.2703" stop-color="#fad500"/><stop offset="0.6404" stop-color="#fad700"/><stop offset="0.6580" stop-color="#fec100"/><stop offset="0.6874" stop-color="#f73906"/><stop offset="0.7932" stop-color="#ff8d00"/><stop offset="0.9988" stop-color="#ff9300"/></linearGradient>
<linearGradient id="g31" gradientUnits="userSpaceOnUse" x1="74.0" y1="0" x2="244.2" y2="0"><stop offset="0.0000" stop-color="#000000"/><stop offset="0.0353" stop-color="#000000"/><stop offset="0.0529" stop-color="#001db3"/><stop offset="0.0646" stop-color="#0067ef"/><stop offset="0.0999" stop-color="#00cbe9"/><stop offset="0.1293" stop-color="#00d7c5"/><stop offset="0.1821" stop-color="#23e113"/><stop offset="0.1880" stop-color="#f53608"/><stop offset="0.1939" stop-color="#f53608"/><stop offset="0.1998" stop-color="#ffffff"/><stop offset="0.2233" stop-color="#ffffff"/><stop offset="0.2291" stop-color="#fc4102"/><stop offset="0.2350" stop-color="#ff6100"/><stop offset="0.2468" stop-color="#ff8f00"/><stop offset="0.2703" stop-color="#ffbe00"/><stop offset="0.3231" stop-color="#f9db00"/><stop offset="0.6580" stop-color="#f9db00"/><stop offset="0.6757" stop-color="#fec200"/><stop offset="0.6992" stop-color="#ff4900"/><stop offset="0.7051" stop-color="#fa3f04"/><stop offset="0.8108" stop-color="#ff9400"/><stop offset="0.9988" stop-color="#ff9900"/></linearGradient>
<linearGradient id="g32" gradientUnits="userSpaceOnUse" x1="74.0" y1="0" x2="244.2" y2="0"><stop offset="0.0000" stop-color="#000000"/><stop offset="0.0294" stop-color="#000000"/><stop offset="0.0353" stop-color="#000865"/><stop offset="0.0411" stop-color="#0012a0"/><stop offset="0.0529" stop-color="#005ff0"/><stop offset="0.0940" stop-color="#00d4e4"/><stop offset="0.1351" stop-color="#00d9b1"/><stop offset="0.1763" stop-color="#1de118"/><stop offset="0.1880" stop-color="#32e311"/><stop offset="0.1939" stop-color="#f53608"/><stop offset="0.1998" stop-color="#ffffff"/><stop offset="0.2350" stop-color="#ffffff"/><stop offset="0.2409" stop-color="#f63807"/><stop offset="0.2468" stop-color="#ff4900"/><stop offset="0.2703" stop-color="#ff8100"/><stop offset="0.3114" stop-color="#ffb400"/><stop offset="0.4172" stop-color="#f9db00"/><stop offset="0.6404" stop-color="#fad800"/><stop offset="0.6580" stop-color="#ffba00"/><stop offset="0.6757" stop-color="#ff5900"/><stop offset="0.6874" stop-color="#f83b06"/><stop offset="0.7932" stop-color="#ff9000"/><stop offset="0.9988" stop-color="#ff9500"/></linearGradient>
<linearGradient id="g33" gradientUnits="userSpaceOnUse" x1="74.0" y1="0" x2="244.2" y2="0"><stop offset="0.0000" stop-color="#000000"/><stop offset="0.1175" stop-color="#000000"/><stop offset="0.1234" stop-color="#00003e"/><stop offset="0.1293" stop-color="#00065d"/><stop offset="0.1351" stop-color="#0013a7"/><stop offset="0.1410" stop-color="#0049df"/><stop offset="0.1469" stop-color="#0084ed"/><stop offset="0.1528" stop-color="#00bde9"/><stop offset="0.1586" stop-color="#00d7cd"/><stop offset="0.1763" stop-color="#10e046"/><stop offset="0.1880" stop-color="#1ee115"/><stop offset="0.1939" stop-color="#f53608"/><stop offset="0.1998" stop-color="#ffffff"/><stop offset="0.2291" stop-color="#ffffff"/><stop offset="0.2350" stop-color="#f83b06"/><stop offset="0.2409" stop-color="#ff6400"/><stop offset="0.2644" stop-color="#ffb800"/><stop offset="0.3114" stop-color="#f9db00"/><stop offset="0.6404" stop-color="#f9dd00"/><stop offset="0.6580" stop-color="#fec400"/><stop offset="0.6816" stop-color="#ff4c00"/><stop offset="0.6874" stop-color="#fc4103"/><stop offset="0.7932" stop-color="#ff9500"/><stop offset="0.9988" stop-color="#ff9b00"/></linearGradient>
<linearGradient id="g34" gradientUnits="userSpaceOnUse" x1="74.0" y1="0" x2="244.2" y2="0"><stop offset="0.0000" stop-color="#000000"/><stop offset="0.0176" stop-color="#000000"/><stop offset="0.0294" stop-color="#000452"/><stop offset="0.0353" stop-color="#001096"/><stop offset="0.0411" stop-color="#0033c9"/><stop offset="0.0470" stop-color="#0058ee"/><stop offset="0.0529" stop-color="#006cef"/><stop offset="0.0940" stop-color="#00d4e7"/><stop offset="0.1351" stop-color="#00d8c2"/><stop offset="0.1880" stop-color="#1ee114"/><stop offset="0.1939" stop-color="#f53608"/><stop offset="0.1998" stop-color="#ffffff"/><stop offset="0.2233" stop-color="#ffffff"/><stop offset="0.2291" stop-color="#f93d05"/><stop offset="0.2350" stop-color="#ff6100"/><stop offset="0.2468" stop-color="#ff9400"/><stop offset="0.2644" stop-color="#ffbd00"/><stop offset="0.3114" stop-color="#f9de00"/><stop offset="0.6522" stop-color="#f8e000"/><stop offset="0.6698" stop-color="#fdc600"/><stop offset="0.6933" stop-color="#ff4e00"/><stop offset="0.6992" stop-color="#fe4501"/><stop offset="0.8049" stop-color="#ff9900"/><stop offset="0.9988" stop-color="#ff9f00"/></linearGradient>
<linearGradient id="g35" gradientUnits="userSpaceOnUse" x1="74.0" y1="0" x2="244.2" y2="0"><stop offset="0.0000" stop-color="#000000"/><stop offset="0.0176" stop-color="#000000"/><stop offset="0.0294" stop-color="#00034e"/><stop offset="0.0411" stop-color="#002ec4"/><stop offset="0.0529" stop-color="#0065ef"/><stop offset="0.0999" stop-color="#00d4e6"/><stop offset="0.1410" stop-color="#00d8bf"/><stop offset="0.1821" stop-color="#18e029"/><stop offset="0.1939" stop-color="#1ee115"/><stop offset="0.1998" stop-color="#f53608"/><stop offset="0.2056" stop-color="#ffffff"/><stop offset="0.2291" stop-color="#ffffff"/><stop offset="0.2350" stop-color="#ff4800"/><stop offset="0.2585" stop-color="#ff9000"/><stop offset="0.2879" stop-color="#ffbe00"/><stop offset="0.3702" stop-color="#f7e400"/><stop offset="0.6580" stop-color="#f8e200"/><stop offset="0.6757" stop-color="#fec100"/><stop offset="0.6933" stop-color="#ff6200"/><stop offset="0.7051" stop-color="#ff4900"/><stop offset="0.8049" stop-color="#ff9c00"/><stop offset="0.9988" stop-color="#ffa200"/></linearGradient>
<linearGradient id="g36" gradientUnits="userSpaceOnUse" x1="74.0" y1="0" x2="244.2" y2="0"><stop offset="0.0000" stop-color="#000000"/><stop offset="0.0176" stop-color="#000000"/><stop offset="0.0353" stop-color="#001fb5"/><stop offset="0.0470" stop-color="#0065ef"/><stop offset="0.0881" stop-color="#00cee8"/><stop offset="0.1410" stop-color="#00d8bd"/><stop offset="0.1821" stop-color="#18e02a"/><stop offset="0.1939" stop-color="#21e113"/><stop offset="0.1998" stop-color="#f53608"/><stop offset="0.2056" stop-color="#ffffff"/><stop offset="0.2350" stop-color="#ffffff"/><stop offset="0.2409" stop-color="#fc4102"/><stop offset="0.2468" stop-color="#ff6500"/><stop offset="0.2644" stop-color="#ffa600"/><stop offset="0.2820" stop-color="#fec500"/><stop offset="0.3702" stop-color="#f8e200"/><stop offset="0.6698" stop-color="#f8e200"/><stop offset="0.6874" stop-color="#fccb00"/><stop offset="0.7168" stop-color="#ff4700"/><stop offset="0.8226" stop-color="#ff9b00"/><stop offset="0.9988" stop-color="#ffa100"/></linearGradient>
<linearGradient id="g37" gradientUnits="userSpaceOnUse" x1="74.0" y1="0" x2="244.2" y2="0"><stop offset="0.0000" stop-color="#000000"/><stop offset="0.0294" stop-color="#000000"/><stop offset="0.0411" stop-color="#000558"/><stop offset="0.0470" stop-color="#00119b"/><stop offset="0.0588" stop-color="#005bf0"/><stop offset="0.0999" stop-color="#00cee8"/><stop offset="0.1410" stop-color="#00d8c0"/><stop offset="0.1939" stop-color="#22e113"/><stop offset="0.1998" stop-color="#f53608"/><stop offset="0.2056" stop-color="#ffffff"/><stop offset="0.2409" stop-color="#ffffff"/><stop offset="0.2468" stop-color="#ff7700"/><stop offset="0.2585" stop-color="#ffb600"/><stop offset="0.2761" stop-color="#fbd400"/><stop offset="0.3937" stop-color="#f7e400"/><stop offset="0.6816" stop-color="#f8e000"/><stop offset="0.6992" stop-color="#ffbd00"/><stop offset="0.7168" stop-color="#ff5c00"/><stop offset="0.7286" stop-color="#ff4700"/><stop offset="0.8284" stop-color="#ff9b00"/><stop offset="0.9988" stop-color="#ffa100"/></linearGradient>
<linearGradient id="g38" gradientUnits="userSpaceOnUse" x1="74.0" y1="0" x2="244.2" y2="0"><stop offset="0.0000" stop-color="#000000"/><stop offset="0.0470" stop-color="#000000"/><stop offset="0.0588" stop-color="#000034"/><stop offset="0.0705" stop-color="#0013a7"/><stop offset="0.0881" stop-color="#005ef0"/><stop offset="0.1293" stop-color="#00d0e8"/><stop offset="0.1410" stop-color="#00d6d6"/><stop offset="0.1939" stop-color="#1ae122"/><stop offset="0.1998" stop-color="#f53608"/><stop offset="0.2056" stop-color="#f53608"/><stop offset="0.2115" stop-color="#ffffff"/><stop offset="0.2409" stop-color="#ffffff"/><stop offset="0.2468" stop-color="#ff4b00"/><stop offset="0.2585" stop-color="#ff8500"/><stop offset="0.2820" stop-color="#ffbe00"/><stop offset="0.3408" stop-color="#f7e500"/><stop offset="0.6757" stop-color="#f6e900"/><stop offset="0.6933" stop-color="#fbd100"/><stop offset="0.7227" stop-color="#ff5100"/><stop offset="0.8284" stop-color="#ffa400"/><stop offset="0.9988" stop-color="#ffaa00"/></linearGradient>
<linearGradient id="g39" gradientUnits="userSpaceOnUse" x1="74.0" y1="0" x2="244.2" y2="0"><stop offset="0.0000" stop-color="#000000"/><stop offset="0.0999" stop-color="#000000"/><stop offset="0.1116" stop-color="#000027"/><stop offset="0.1234" stop-color="#000f8f"/><stop offset="0.1293" stop-color="#0028be"/><stop offset="0.1410" stop-color="#005bf0"/><stop offset="0.1586" stop-color="#00c6e9"/><stop offset="0.1645" stop-color="#00d7ca"/><stop offset="0.1821" stop-color="#0cdf57"/><stop offset="0.1998" stop-color="#1be121"/><stop offset="0.2056" stop-color="#f53608"/><stop offset="0.2115" stop-color="#ffffff"/><stop offset="0.2409" stop-color="#ffffff"/><stop offset="0.2468" stop-color="#ff4900"/><stop offset="0.2644" stop-color="#ff9000"/><stop offset="0.2879" stop-color="#ffbf00"/><stop offset="0.3584" stop-color="#f6e900"/><stop offset="0.6816" stop-color="#f6ec00"/><stop offset="0.6992" stop-color="#fad700"/><stop offset="0.7286" stop-color="#ff5500"/><stop offset="0.8343" stop-color="#ffa700"/><stop offset="0.9988" stop-color="#ffad00"/></linearGradient>
<linearGradient id="g40" gradientUnits="userSpaceOnUse" x1="74.0" y1="0" x2="244.2" y2="0"><stop offset="0.0000" stop-color="#000000"/><stop offset="0.0999" stop-color="#000000"/><stop offset="0.1058" stop-color="#000029"/><stop offset="0.1175" stop-color="#00003a"/><stop offset="0.1351" stop-color="#001197"/><stop offset="0.1528" stop-color="#0065ef"/><stop offset="0.1645" stop-color="#00c5e9"/><stop offset="0.1704" stop-color="#00d6d0"/><stop offset="0.1998" stop-color="#0edf4e"/><stop offset="0.2056" stop-color="#f53608"/><stop offset="0.2115" stop-color="#ffffff"/><stop offset="0.2468" stop-color="#ffffff"/><stop offset="0.2526" stop-color="#ff4f00"/><stop offset="0.2703" stop-color="#ff8f00"/><stop offset="0.2938" stop-color="#ffbb00"/><stop offset="0.3760" stop-color="#f7e800"/><stop offset="0.6933" stop-color="#f6e900"/><stop offset="0.7109" stop-color="#fbd300"/><stop offset="0.7403" stop-color="#ff5100"/><stop offset="0.8402" stop-color="#ffa200"/><stop offset="0.9988" stop-color="#ffaa00"/></linearGradient>
<linearGradient id="g41" gradientUnits="userSpaceOnUse" x1="74.0" y1="0" x2="244.2" y2="0"><stop offset="0.0000" stop-color="#000000"/><stop offset="0.0411" stop-color="#000000"/><stop offset="0.0588" stop-color="#0023b9"/><stop offset="0.0705" stop-color="#0066ef"/><stop offset="0.1116" stop-color="#00d1e8"/><stop offset="0.1469" stop-color="#00d8c2"/><stop offset="0.1998" stop-color="#22e113"/><stop offset="0.2056" stop-color="#f53608"/><stop offset="0.2115" stop-color="#ffffff"/><stop offset="0.2468" stop-color="#ffffff"/><stop offset="0.2526" stop-color="#ff6600"/><stop offset="0.2644" stop-color="#ffae00"/><stop offset="0.2820" stop-color="#fbd100"/><stop offset="0.3995" stop-color="#f7e700"/><stop offset="0.6933" stop-color="#f7e500"/><stop offset="0.7109" stop-color="#fec500"/><stop offset="0.7286" stop-color="#ff6600"/><stop offset="0.7403" stop-color="#ff4d00"/><stop offset="0.8402" stop-color="#ff9f00"/><stop offset="0.9988" stop-color="#ffa600"/></linearGradient>
<linearGradient id="g42" gradientUnits="userSpaceOnUse" x1="74.0" y1="0" x2="244.2" y2="0"><stop offset="0.0000" stop-color="#000000"/><stop offset="0.0176" stop-color="#000000"/><stop offset="0.0235" stop-color="#000029"/><stop offset="0.0294" stop-color="#000037"/><stop offset="0.0470" stop-color="#0025bb"/><stop offset="0.0588" stop-color="#0058ee"/><stop offset="0.0646" stop-color="#0064ef"/><stop offset="0.1175" stop-color="#00d4e4"/><stop offset="0.1528" stop-color="#00d8c3"/><stop offset="0.2056" stop-color="#1de118"/><stop offset="0.2115" stop-color="#f53608"/><stop offset="0.2174" stop-color="#ffffff"/><stop offset="0.2409" stop-color="#ffffff"/><stop offset="0.2468" stop-color="#ff4f00"/><stop offset="0.2703" stop-color="#ff8c00"/><stop offset="0.3055" stop-color="#ffbe00"/><stop offset="0.4054" stop-color="#f5ee00"/><stop offset="0.6933" stop-color="#f6ec00"/><stop offset="0.7109" stop-color="#fbd400"/><stop offset="0.7403" stop-color="#ff5400"/><stop offset="0.8402" stop-color="#ffa500"/><stop offset="0.9988" stop-color="#ffad00"/></linearGradient>
<linearGradient id="g43" gradientUnits="userSpaceOnUse" x1="74.0" y1="0" x2="244.2" y2="0"><stop offset="0.0000" stop-color="#000000"/><stop offset="0.0705" stop-color="#000000"/><stop offset="0.0881" stop-color="#001ab0"/><stop offset="0.0999" stop-color="#005df0"/><stop offset="0.1410" stop-color="#00d4e7"/><stop offset="0.1586" stop-color="#00d7cb"/><stop offset="0.2056" stop-color="#1be11e"/><stop offset="0.2115" stop-color="#f53608"/><stop offset="0.2174" stop-color="#f53608"/><stop offset="0.2233" stop-color="#ffffff"/><stop offset="0.2585" stop-color="#ffffff"/><stop offset="0.2644" stop-color="#ff4d00"/><stop offset="0.2879" stop-color="#ff8d00"/><stop offset="0.3231" stop-color="#ffbf00"/><stop offset="0.4172" stop-color="#f5ef00"/><stop offset="0.6816" stop-color="#f5ee00"/><stop offset="0.6992" stop-color="#fad500"/><stop offset="0.7286" stop-color="#ff5700"/><stop offset="0.8343" stop-color="#ffa900"/><stop offset="0.9988" stop-color="#ffaf00"/></linearGradient>
<linearGradient id="g44" gradientUnits="userSpaceOnUse" x1="74.0" y1="0" x2="244.2" y2="0"><stop offset="0.0000" stop-color="#000000"/><stop offset="0.0529" stop-color="#000000"/><stop offset="0.0588" stop-color="#00002d"/><stop offset="0.0881" stop-color="#0013a3"/><stop offset="0.1469" stop-color="#005af0"/><stop offset="0.1586" stop-color="#0082ed"/><stop offset="0.1704" stop-color="#00cee8"/><stop offset="0.1939" stop-color="#0ddf51"/><stop offset="0.2115" stop-color="#1ce11c"/><stop offset="0.2174" stop-color="#f53608"/><stop offset="0.2233" stop-color="#ffffff"/><stop offset="0.2644" stop-color="#ffffff"/><stop offset="0.2703" stop-color="#fd4301"/><stop offset="0.2820" stop-color="#ff8500"/><stop offset="0.3055" stop-color="#fec200"/><stop offset="0.3467" stop-color="#f8e300"/><stop offset="0.4054" stop-color="#f5ef00"/><stop offset="0.6698" stop-color="#f5ef00"/><stop offset="0.6874" stop-color="#fbd300"/><stop offset="0.7109" stop-color="#ff6100"/><stop offset="0.7168" stop-color="#ff5a00"/><stop offset="0.8167" stop-color="#ffaa00"/><stop offset="0.9988" stop-color="#ffb100"/></linearGradient>
<linearGradient id="g45" gradientUnits="userSpaceOnUse" x1="74.0" y1="0" x2="244.2" y2="0"><stop offset="0.0000" stop-color="#000000"/><stop offset="0.0235" stop-color="#000000"/><stop offset="0.0411" stop-color="#0022b8"/><stop offset="0.0529" stop-color="#0060f0"/><stop offset="0.0999" stop-color="#00cae9"/><stop offset="0.1645" stop-color="#00d8c0"/><stop offset="0.2056" stop-color="#17e02e"/><stop offset="0.2174" stop-color="#1de117"/><stop offset="0.2233" stop-color="#f53608"/><stop offset="0.2291" stop-color="#ffffff"/><stop offset="0.2644" stop-color="#ffffff"/><stop offset="0.2703" stop-color="#ff4c00"/><stop offset="0.2879" stop-color="#ff9700"/><stop offset="0.3114" stop-color="#fec400"/><stop offset="0.4113" stop-color="#f5f000"/><stop offset="0.6698" stop-color="#f6ed00"/><stop offset="0.6874" stop-color="#fdc700"/><stop offset="0.7109" stop-color="#ff5b00"/><stop offset="0.8167" stop-color="#ffac00"/><stop offset="0.9988" stop-color="#ffb200"/></linearGradient>
<linearGradient id="g46" gradientUnits="userSpaceOnUse" x1="74.0" y1="0" x2="244.2" y2="0"><stop offset="0.0000" stop-color="#000000"/><stop offset="0.0235" stop-color="#000000"/><stop offset="0.0411" stop-color="#00129f"/><stop offset="0.0470" stop-color="#002bc1"/><stop offset="0.0705" stop-color="#0060f0"/><stop offset="0.0940" stop-color="#008aed"/><stop offset="0.1645" stop-color="#00cce9"/><stop offset="0.1763" stop-color="#00d7c8"/><stop offset="0.2056" stop-color="#15e035"/><stop offset="0.2174" stop-color="#1de117"/><stop offset="0.2233" stop-color="#f53608"/><stop offset="0.2291" stop-color="#ffffff"/><stop offset="0.2644" stop-color="#ffffff"/><stop offset="0.2703" stop-color="#ff5e00"/><stop offset="0.2879" stop-color="#ffb200"/><stop offset="0.3055" stop-color="#fbd000"/><stop offset="0.4113" stop-color="#f5f000"/><stop offset="0.6639" stop-color="#f5ee00"/><stop offset="0.6816" stop-color="#fccd00"/><stop offset="0.6992" stop-color="#ff7100"/><stop offset="0.7109" stop-color="#ff5b00"/><stop offset="0.8108" stop-color="#ffab00"/><stop offset="0.9988" stop-color="#ffb200"/></linearGradient>
<linearGradient id="g47" gradientUnits="userSpaceOnUse" x1="74.0" y1="0" x2="244.2" y2="0"><stop offset="0.0000" stop-color="#000000"/><stop offset="0.0294" stop-color="#000000"/><stop offset="0.0411" stop-color="#000245"/><stop offset="0.0529" stop-color="#002ec4"/><stop offset="0.0646" stop-color="#0062ef"/><stop offset="0.1058" stop-color="#00c5e9"/><stop offset="0.1704" stop-color="#00d8c3"/><stop offset="0.2233" stop-color="#1de118"/><stop offset="0.2291" stop-color="#f53608"/><stop offset="0.2350" stop-color="#ffffff"/><stop offset="0.2703" stop-color="#ffffff"/><stop offset="0.2761" stop-color="#fc4202"/><stop offset="0.2820" stop-color="#ff5800"/><stop offset="0.3290" stop-color="#ffba00"/><stop offset="0.4113" stop-color="#f5f000"/><stop offset="0.6757" stop-color="#f5f000"/><stop offset="0.6933" stop-color="#fdc700"/><stop offset="0.7168" stop-color="#ff5f00"/><stop offset="0.8226" stop-color="#ffb000"/><stop offset="0.9988" stop-color="#ffb600"/></linearGradient>
<linearGradient id="g48" gradientUnits="userSpaceOnUse" x1="74.0" y1="0" x2="244.2" y2="0"><stop offset="0.0000" stop-color="#000000"/><stop offset="0.0294" stop-color="#000000"/><stop offset="0.0411" stop-color="#00034e"/><stop offset="0.0529" stop-color="#0031c7"/><stop offset="0.0588" stop-color="#0056ec"/><stop offset="0.0646" stop-color="#0069ef"/><stop offset="0.1058" stop-color="#00cce9"/><stop offset="0.1763" stop-color="#00d9b8"/><stop offset="0.2233" stop-color="#1ee115"/><stop offset="0.2291" stop-color="#f53608"/><stop offset="0.2350" stop-color="#f53608"/><stop offset="0.2409" stop-color="#ffffff"/><stop offset="0.2644" stop-color="#ffffff"/><stop offset="0.2703" stop-color="#ff5e00"/><stop offset="0.2820" stop-color="#ffa900"/><stop offset="0.2996" stop-color="#fbd100"/><stop offset="0.4054" stop-color="#f5f000"/><stop offset="0.6933" stop-color="#f5f000"/><stop offset="0.7051" stop-color="#f9de00"/><stop offset="0.7286" stop-color="#ff6f00"/><stop offset="0.7403" stop-color="#ff5d00"/><stop offset="0.8402" stop-color="#ffae00"/><stop offset="0.9988" stop-color="#ffb400"/></linearGradient>
<linearGradient id="g49" gradientUnits="userSpaceOnUse" x1="74.0" y1="0" x2="244.2" y2="0"><stop offset="0.0000" stop-color="#000000"/><stop offset="0.0588" stop-color="#000000"/><stop offset="0.0823" stop-color="#0014aa"/><stop offset="0.0999" stop-color="#005df0"/><stop offset="0.1528" stop-color="#00d4e5"/><stop offset="0.1763" stop-color="#00d8c0"/><stop offset="0.2291" stop-color="#21e113"/><stop offset="0.2350" stop-color="#f53608"/><stop offset="0.2409" stop-color="#ffffff"/><stop offset="0.2585" stop-color="#ffffff"/><stop offset="0.2644" stop-color="#ff4500"/><stop offset="0.2820" stop-color="#ff8900"/><stop offset="0.3114" stop-color="#ffc000"/><stop offset="0.3937" stop-color="#f5f000"/><stop offset="0.7227" stop-color="#f5ee00"/><stop offset="0.7344" stop-color="#fad500"/><stop offset="0.7579" stop-color="#ff6400"/><stop offset="0.7638" stop-color="#ff5f00"/><stop offset="0.8637" stop-color="#ffaf00"/><stop offset="0.9988" stop-color="#ffb600"/></linearGradient>
<linearGradient id="g50" gradientUnits="userSpaceOnUse" x1="74.0" y1="0" x2="244.2" y2="0"><stop offset="0.0000" stop-color="#000000"/><stop offset="0.0235" stop-color="#000000"/><stop offset="0.0294" stop-color="#000555"/><stop offset="0.0529" stop-color="#0013a7"/><stop offset="0.0823" stop-color="#0063ef"/><stop offset="0.1469" stop-color="#00d4e5"/><stop offset="0.1763" stop-color="#00d8bb"/><stop offset="0.1939" stop-color="#00dd8d"/><stop offset="0.2233" stop-color="#20e114"/><stop offset="0.2291" stop-color="#30e211"/><stop offset="0.2350" stop-color="#f53608"/><stop offset="0.2409" stop-color="#f53608"/><stop offset="0.2468" stop-color="#ffffff"/><stop offset="0.2820" stop-color="#ffffff"/><stop offset="0.2879" stop-color="#ff5a00"/><stop offset="0.2996" stop-color="#ff9a00"/><stop offset="0.3231" stop-color="#fdca00"/><stop offset="0.4407" stop-color="#f5ef00"/><stop offset="0.7344" stop-color="#f6ec00"/><stop offset="0.7521" stop-color="#fccb00"/><stop offset="0.7697" stop-color="#ff6e00"/><stop offset="0.7814" stop-color="#ff5700"/><stop offset="0.8754" stop-color="#ffa600"/><stop offset="0.9988" stop-color="#ffaf00"/></linearGradient>
<linearGradient id="g51" gradientUnits="userSpaceOnUse" x1="74.0" y1="0" x2="244.2" y2="0"><stop offset="0.0000" stop-color="#000000"/><stop offset="0.0529" stop-color="#000000"/><stop offset="0.0588" stop-color="#00034f"/><stop offset="0.0823" stop-color="#001bb1"/><stop offset="0.1058" stop-color="#0062ef"/><stop offset="0.1586" stop-color="#00cee8"/><stop offset="0.1821" stop-color="#00d8c3"/><stop offset="0.1998" stop-color="#00de86"/><stop offset="0.2291" stop-color="#26e213"/><stop offset="0.2350" stop-color="#31e311"/><stop offset="0.2409" stop-color="#f53608"/><stop offset="0.2468" stop-color="#ffffff"/><stop offset="0.2761" stop-color="#ffffff"/><stop offset="0.2820" stop-color="#ff5f00"/><stop offset="0.2938" stop-color="#ffa500"/><stop offset="0.3114" stop-color="#fccc00"/><stop offset="0.4230" stop-color="#f5f000"/><stop offset="0.7403" stop-color="#f5ef00"/><stop offset="0.7579" stop-color="#fccf00"/><stop offset="0.7756" stop-color="#ff7400"/><stop offset="0.7873" stop-color="#ff5b00"/><stop offset="0.8813" stop-color="#ffaa00"/><stop offset="0.9988" stop-color="#ffb300"/></linearGradient>
<linearGradient id="g52" gradientUnits="userSpaceOnUse" x1="74.0" y1="0" x2="244.2" y2="0"><stop offset="0.0000" stop-color="#000000"/><stop offset="0.0588" stop-color="#000000"/><stop offset="0.0646" stop-color="#000141"/><stop offset="0.0764" stop-color="#000761"/><stop offset="0.0881" stop-color="#0013a3"/><stop offset="0.1116" stop-color="#005ef0"/><stop offset="0.1645" stop-color="#00d0e8"/><stop offset="0.1821" stop-color="#00d7ca"/><stop offset="0.2291" stop-color="#1de118"/><stop offset="0.2350" stop-color="#29e212"/><stop offset="0.2409" stop-color="#f53608"/><stop offset="0.2468" stop-color="#f53608"/><stop offset="0.2526" stop-color="#ffffff"/><stop offset="0.2938" stop-color="#ffffff"/><stop offset="0.2996" stop-color="#ff4900"/><stop offset="0.3173" stop-color="#ff8900"/><stop offset="0.3467" stop-color="#ffbe00"/><stop offset="0.4289" stop-color="#f5f000"/><stop offset="0.7462" stop-color="#f5ee00"/><stop offset="0.7579" stop-color="#fad500"/><stop offset="0.7814" stop-color="#ff6500"/><stop offset="0.7873" stop-color="#ff5f00"/><stop offset="0.8813" stop-color="#ffad00"/><stop offset="0.9988" stop-color="#ffb600"/></linearGradient>
<linearGradient id="g53" gradientUnits="userSpaceOnUse" x1="74.0" y1="0" x2="244.2" y2="0"><stop offset="0.0000" stop-color="#000000"/><stop offset="0.0588" stop-color="#000000"/><stop offset="0.0705" stop-color="#000028"/><stop offset="0.0881" stop-color="#0025bb"/><stop offset="0.1058" stop-color="#005ff0"/><stop offset="0.1528" stop-color="#00d1e8"/><stop offset="0.1880" stop-color="#00d7c9"/><stop offset="0.2409" stop-color="#1ce11c"/><stop offset="0.2468" stop-color="#f53608"/><stop offset="0.2526" stop-color="#ffffff"/><stop offset="0.2820" stop-color="#ffffff"/><stop offset="0.2879" stop-color="#ff5700"/><stop offset="0.3055" stop-color="#ff8c00"/><stop offset="0.3349" stop-color="#ffbe00"/><stop offset="0.3995" stop-color="#f3f000"/><stop offset="0.4583" stop-color="#dbef00"/><stop offset="0.7168" stop-color="#dcef00"/><stop offset="0.7403" stop-color="#f2f000"/><stop offset="0.7756" stop-color="#ff6e00"/><stop offset="0.8754" stop-color="#ffbc00"/><stop offset="0.9988" stop-color="#fec200"/></linearGradient>
<linearGradient id="g54" gradientUnits="userSpaceOnUse" x1="74.0" y1="0" x2="244.2" y2="0"><stop offset="0.0000" stop-color="#000000"/><stop offset="0.0411" stop-color="#000000"/><stop offset="0.0470" stop-color="#000557"/><stop offset="0.0588" stop-color="#00119c"/><stop offset="0.0764" stop-color="#0066ef"/><stop offset="0.1234" stop-color="#00d0e8"/><stop offset="0.1880" stop-color="#00daaa"/><stop offset="0.2056" stop-color="#00de81"/><stop offset="0.2291" stop-color="#1be121"/><stop offset="0.2409" stop-color="#34e310"/><stop offset="0.2468" stop-color="#f53608"/><stop offset="0.2526" stop-color="#f53608"/><stop offset="0.2585" stop-color="#ffffff"/><stop offset="0.2703" stop-color="#ffffff"/><stop offset="0.2761" stop-color="#ff4900"/><stop offset="0.2938" stop-color="#ff9700"/><stop offset="0.3173" stop-color="#fec300"/><stop offset="0.4113" stop-color="#f5f000"/><stop offset="0.7344" stop-color="#f5ef00"/><stop offset="0.7521" stop-color="#fdc600"/><stop offset="0.7697" stop-color="#ff6a00"/><stop offset="0.7756" stop-color="#ff5f00"/><stop offset="0.8754" stop-color="#ffae00"/><stop offset="0.9988" stop-color="#ffb600"/></linearGradient>
<linearGradient id="g55" gradientUnits="userSpaceOnUse" x1="74.0" y1="0" x2="244.2" y2="0"><stop offset="0.0000" stop-color="#000000"/><stop offset="0.1528" stop-color="#000000"/><stop offset="0.1586" stop-color="#000140"/><stop offset="0.1704" stop-color="#000868"/><stop offset="0.1821" stop-color="#0018ae"/><stop offset="0.1998" stop-color="#0078ee"/><stop offset="0.2115" stop-color="#00d5e1"/><stop offset="0.2291" stop-color="#03de78"/><stop offset="0.2468" stop-color="#15e034"/><stop offset="0.2526" stop-color="#f53608"/><stop offset="0.2585" stop-color="#ffffff"/><stop offset="0.2879" stop-color="#ffffff"/><stop offset="0.2938" stop-color="#ff5f00"/><stop offset="0.3055" stop-color="#ffa600"/><stop offset="0.3231" stop-color="#fccd00"/><stop offset="0.4113" stop-color="#f5f000"/><stop offset="0.4642" stop-color="#e4ef00"/><stop offset="0.7462" stop-color="#f1f000"/><stop offset="0.7579" stop-color="#fad800"/><stop offset="0.7814" stop-color="#ff6b00"/><stop offset="0.7873" stop-color="#ff6600"/><stop offset="0.8813" stop-color="#ffb300"/><stop offset="0.9988" stop-color="#ffbc00"/></linearGradient>
<linearGradient id="g56" gradientUnits="userSpaceOnUse" x1="74.0" y1="0" x2="244.2" y2="0"><stop offset="0.0000" stop-color="#000000"/><stop offset="0.0764" stop-color="#000000"/><stop offset="0.0823" stop-color="#000d85"/><stop offset="0.0940" stop-color="#0049df"/><stop offset="0.0999" stop-color="#0070ef"/><stop offset="0.1351" stop-color="#00d4e7"/><stop offset="0.1939" stop-color="#00dba2"/><stop offset="0.2350" stop-color="#20e114"/><stop offset="0.2468" stop-color="#43e40e"/><stop offset="0.2526" stop-color="#f53608"/><stop offset="0.2585" stop-color="#f53608"/><stop offset="0.2644" stop-color="#ffffff"/><stop offset="0.3114" stop-color="#ffffff"/><stop offset="0.3173" stop-color="#f2320a"/><stop offset="0.3231" stop-color="#ff4a00"/><stop offset="0.3408" stop-color="#ff8400"/><stop offset="0.3760" stop-color="#ffbd00"/><stop offset="0.4642" stop-color="#f5f000"/><stop offset="0.7579" stop-color="#f5f000"/><stop offset="0.7756" stop-color="#fccf00"/><stop offset="0.7932" stop-color="#ff7400"/><stop offset="0.8049" stop-color="#ff5e00"/><stop offset="0.8931" stop-color="#ffa900"/><stop offset="0.9988" stop-color="#ffb400"/></linearGradient>
<linearGradient id="g57" gradientUnits="userSpaceOnUse" x1="74.0" y1="0" x2="244.2" y2="0"><stop offset="0.0000" stop-color="#000000"/><stop offset="0.0470" stop-color="#000000"/><stop offset="0.0588" stop-color="#000d83"/><stop offset="0.0646" stop-color="#0029bf"/><stop offset="0.0764" stop-color="#0066ef"/><stop offset="0.1234" stop-color="#00cde8"/><stop offset="0.1998" stop-color="#00d9b4"/><stop offset="0.2468" stop-color="#1ee116"/><stop offset="0.2526" stop-color="#27e213"/><stop offset="0.2585" stop-color="#f53608"/><stop offset="0.2644" stop-color="#ffffff"/><stop offset="0.2996" stop-color="#ffffff"/><stop offset="0.3055" stop-color="#ff5300"/><stop offset="0.3173" stop-color="#ff8f00"/><stop offset="0.3349" stop-color="#ffbc00"/><stop offset="0.4054" stop-color="#f5f000"/><stop offset="0.4759" stop-color="#daef00"/><stop offset="0.7756" stop-color="#e9ef00"/><stop offset="0.7873" stop-color="#f9db00"/><stop offset="0.8049" stop-color="#ff8600"/><stop offset="0.8167" stop-color="#ff7400"/><stop offset="0.9048" stop-color="#ffbb00"/><stop offset="0.9988" stop-color="#fec500"/></linearGradient>
<linearGradient id="g58" gradientUnits="userSpaceOnUse" x1="74.0" y1="0" x2="244.2" y2="0"><stop offset="0.0000" stop-color="#000000"/><stop offset="0.0294" stop-color="#000000"/><stop offset="0.0353" stop-color="#000450"/><stop offset="0.0470" stop-color="#0026bc"/><stop offset="0.0529" stop-color="#004fe5"/><stop offset="0.0588" stop-color="#006eef"/><stop offset="0.0999" stop-color="#00d4e8"/><stop offset="0.1998" stop-color="#00daa8"/><stop offset="0.2174" stop-color="#01de7f"/><stop offset="0.2409" stop-color="#1ae121"/><stop offset="0.2526" stop-color="#33e311"/><stop offset="0.2585" stop-color="#f53608"/><stop offset="0.2644" stop-color="#f53608"/><stop offset="0.2703" stop-color="#ffffff"/><stop offset="0.2938" stop-color="#ffffff"/><stop offset="0.2996" stop-color="#ff4600"/><stop offset="0.3173" stop-color="#ff8f00"/><stop offset="0.3408" stop-color="#ffbd00"/><stop offset="0.4113" stop-color="#f5ef00"/><stop offset="0.4759" stop-color="#e0ef00"/><stop offset="0.7756" stop-color="#e0ef00"/><stop offset="0.7991" stop-color="#f3f000"/><stop offset="0.8343" stop-color="#ff7100"/><stop offset="0.9224" stop-color="#ffb600"/><stop offset="0.9988" stop-color="#fec200"/></linearGradient>
<linearGradient id="g59" gradientUnits="userSpaceOnUse" x1="74.0" y1="0" x2="244.2" y2="0"><stop offset="0.0000" stop-color="#000000"/><stop offset="0.2350" stop-color="#000000"/><stop offset="0.2409" stop-color="#0094ec"/><stop offset="0.2468" stop-color="#00d4e7"/><stop offset="0.2526" stop-color="#00dc93"/><stop offset="0.2585" stop-color="#0adf5d"/><stop offset="0.2644" stop-color="#f53608"/><stop offset="0.2703" stop-color="#ffffff"/><stop offset="0.2996" stop-color="#ffffff"/><stop offset="0.3055" stop-color="#f2310a"/><stop offset="0.3114" stop-color="#fe4500"/><stop offset="0.3349" stop-color="#ff8400"/><stop offset="0.3643" stop-color="#ffb200"/><stop offset="0.4407" stop-color="#f4f000"/><stop offset="0.4818" stop-color="#e4ef00"/><stop offset="0.8108" stop-color="#f0f000"/><stop offset="0.8226" stop-color="#f9dc00"/><stop offset="0.8402" stop-color="#ff8b00"/><stop offset="0.8519" stop-color="#ff7100"/><stop offset="0.9342" stop-color="#ffb300"/><stop offset="0.9988" stop-color="#ffc000"/></linearGradient>
<linearGradient id="g60" gradientUnits="userSpaceOnUse" x1="74.0" y1="0" x2="244.2" y2="0"><stop offset="0.0000" stop-color="#000000"/><stop offset="0.0294" stop-color="#000000"/><stop offset="0.0411" stop-color="#000f8d"/><stop offset="0.0470" stop-color="#002ec4"/><stop offset="0.0529" stop-color="#0054ea"/><stop offset="0.0588" stop-color="#006bef"/><stop offset="0.0999" stop-color="#00cce9"/><stop offset="0.2056" stop-color="#00daae"/><stop offset="0.2233" stop-color="#00de84"/><stop offset="0.2526" stop-color="#1ee115"/><stop offset="0.2585" stop-color="#2be212"/><stop offset="0.2644" stop-color="#f53608"/><stop offset="0.2703" stop-color="#f53608"/><stop offset="0.2761" stop-color="#ffffff"/><stop offset="0.3173" stop-color="#ffffff"/><stop offset="0.3231" stop-color="#ff4800"/><stop offset="0.3408" stop-color="#ff8300"/><stop offset="0.3643" stop-color="#ffaf00"/><stop offset="0.4348" stop-color="#f3f000"/><stop offset="0.4935" stop-color="#d5ee00"/><stop offset="0.7814" stop-color="#d5ee00"/><stop offset="0.8108" stop-color="#dcef00"/><stop offset="0.8226" stop-color="#f5ef00"/><stop offset="0.8519" stop-color="#ff8400"/><stop offset="0.9342" stop-color="#ffbf00"/><stop offset="0.9988" stop-color="#fccc00"/></linearGradient>
<linearGradient id="g61" gradientUnits="userSpaceOnUse" x1="74.0" y1="0" x2="244.2" y2="0"><stop offset="0.0000" stop-color="#000000"/><stop offset="0.0294" stop-color="#000000"/><stop offset="0.0353" stop-color="#00002c"/><stop offset="0.0646" stop-color="#0013a3"/><stop offset="0.1116" stop-color="#0040d6"/><stop offset="0.1645" stop-color="#005af0"/><stop offset="0.1998" stop-color="#0070ef"/><stop offset="0.2174" stop-color="#00bcea"/><stop offset="0.2233" stop-color="#00d5da"/><stop offset="0.2468" stop-color="#12e040"/><stop offset="0.2644" stop-color="#22e113"/><stop offset="0.2703" stop-color="#f53608"/><stop offset="0.2761" stop-color="#ffffff"/><stop offset="0.3173" stop-color="#ffffff"/><stop offset="0.3231" stop-color="#fd4301"/><stop offset="0.3349" stop-color="#ff9700"/><stop offset="0.3467" stop-color="#ffc000"/><stop offset="0.4113" stop-color="#f5f000"/><stop offset="0.4935" stop-color="#caee00"/><stop offset="0.7873" stop-color="#caee00"/><stop offset="0.8167" stop-color="#ceee00"/><stop offset="0.8343" stop-color="#f5f000"/><stop offset="0.8578" stop-color="#ff9600"/><stop offset="0.8637" stop-color="#ff9100"/><stop offset="0.9401" stop-color="#fdc700"/><stop offset="0.9988" stop-color="#fad500"/></linearGradient>
<linearGradient id="g62" gradientUnits="userSpaceOnUse" x1="74.0" y1="0" x2="244.2" y2="0"><stop offset="0.0000" stop-color="#000000"/><stop offset="0.0353" stop-color="#000006"/><stop offset="0.0470" stop-color="#00002a"/><stop offset="0.0705" stop-color="#0023b9"/><stop offset="0.1058" stop-color="#0061f0"/><stop offset="0.1645" stop-color="#00d4e8"/><stop offset="0.2115" stop-color="#00d7c8"/><stop offset="0.2644" stop-color="#19e125"/><stop offset="0.2703" stop-color="#f53608"/><stop offset="0.2761" stop-color="#f53608"/><stop offset="0.2820" stop-color="#ffffff"/><stop offset="0.3231" stop-color="#ffffff"/><stop offset="0.3290" stop-color="#ff5d00"/><stop offset="0.3760" stop-color="#ffb700"/><stop offset="0.4348" stop-color="#f1f000"/><stop offset="0.5112" stop-color="#beed00"/><stop offset="0.8167" stop-color="#bded00"/><stop offset="0.8461" stop-color="#e1ef00"/><stop offset="0.8519" stop-color="#f6eb00"/><stop offset="0.8754" stop-color="#ffa200"/><stop offset="0.9988" stop-color="#f8df00"/></linearGradient>
<linearGradient id="g63" gradientUnits="userSpaceOnUse" x1="74.0" y1="0" x2="244.2" y2="0"><stop offset="0.0000" stop-color="#000000"/><stop offset="0.0294" stop-color="#000000"/><stop offset="0.0353" stop-color="#00002f"/><stop offset="0.0470" stop-color="#000144"/><stop offset="0.0764" stop-color="#001ab0"/><stop offset="0.1351" stop-color="#005af0"/><stop offset="0.1998" stop-color="#009bec"/><stop offset="0.2174" stop-color="#00c5e9"/><stop offset="0.2291" stop-color="#00d8bf"/><stop offset="0.2526" stop-color="#15e035"/><stop offset="0.2703" stop-color="#2de212"/><stop offset="0.2761" stop-color="#f53608"/><stop offset="0.2820" stop-color="#ffffff"/><stop offset="0.3349" stop-color="#ffffff"/><stop offset="0.3408" stop-color="#ff4f00"/><stop offset="0.3525" stop-color="#ff8b00"/><stop offset="0.3702" stop-color="#ffba00"/><stop offset="0.4289" stop-color="#f5ef00"/><stop offset="0.5170" stop-color="#caee00"/><stop offset="0.8284" stop-color="#caee00"/><stop offset="0.8461" stop-color="#d3ee00"/><stop offset="0.8578" stop-color="#f2f000"/><stop offset="0.8872" stop-color="#ff9e00"/><stop offset="0.9988" stop-color="#fad800"/></linearGradient>
<linearGradient id="g64" gradientUnits="userSpaceOnUse" x1="74.0" y1="0" x2="244.2" y2="0"><stop offset="0.0000" stop-color="#000000"/><stop offset="0.0529" stop-color="#000000"/><stop offset="0.0588" stop-color="#00002a"/><stop offset="0.0705" stop-color="#00034b"/><stop offset="0.0881" stop-color="#001cb2"/><stop offset="0.1293" stop-color="#005df0"/><stop offset="0.2174" stop-color="#00cfe8"/><stop offset="0.2409" stop-color="#00de85"/><stop offset="0.2644" stop-color="#1de118"/><stop offset="0.2703" stop-color="#27e213"/><stop offset="0.2761" stop-color="#f53608"/><stop offset="0.2820" stop-color="#f53608"/><stop offset="0.2879" stop-color="#ffffff"/><stop offset="0.3290" stop-color="#ffffff"/><stop offset="0.3349" stop-color="#fc4003"/><stop offset="0.3408" stop-color="#ff5b00"/><stop offset="0.3760" stop-color="#ffb600"/><stop offset="0.4348" stop-color="#f3f000"/><stop offset="0.4877" stop-color="#cbee00"/><stop offset="0.5523" stop-color="#c6ee00"/><stop offset="0.8402" stop-color="#c6ee00"/><stop offset="0.8578" stop-color="#d1ee00"/><stop offset="0.8696" stop-color="#f1f000"/><stop offset="0.8872" stop-color="#ffb600"/><stop offset="0.8989" stop-color="#ffa800"/><stop offset="0.9988" stop-color="#f9dc00"/></linearGradient>
<linearGradient id="g65" gradientUnits="userSpaceOnUse" x1="74.0" y1="0" x2="244.2" y2="0"><stop offset="0.0000" stop-color="#000000"/><stop offset="0.0411" stop-color="#000000"/><stop offset="0.0470" stop-color="#00065f"/><stop offset="0.0529" stop-color="#00129d"/><stop offset="0.0646" stop-color="#005df0"/><stop offset="0.1116" stop-color="#00d4e6"/><stop offset="0.2233" stop-color="#00dc9a"/><stop offset="0.2585" stop-color="#1ae121"/><stop offset="0.2761" stop-color="#3fe40e"/><stop offset="0.2820" stop-color="#f53608"/><stop offset="0.2879" stop-color="#ffffff"/><stop offset="0.3290" stop-color="#ffffff"/><stop offset="0.3349" stop-color="#ff5700"/><stop offset="0.3467" stop-color="#ffa000"/><stop offset="0.3584" stop-color="#fec100"/><stop offset="0.4348" stop-color="#f3f000"/><stop offset="0.5053" stop-color="#ceee00"/><stop offset="0.8402" stop-color="#ceee00"/><stop offset="0.8696" stop-color="#edf000"/><stop offset="0.8989" stop-color="#ffa800"/><stop offset="0.9988" stop-color="#fad900"/></linearGradient>
<linearGradient id="g66" gradientUnits="userSpaceOnUse" x1="74.0" y1="0" x2="244.2" y2="0"><stop offset="0.0000" stop-color="#000000"/><stop offset="0.0294" stop-color="#000000"/><stop offset="0.0353" stop-color="#000557"/><stop offset="0.0470" stop-color="#002cc2"/><stop offset="0.0529" stop-color="#0054ea"/><stop offset="0.0588" stop-color="#0073ee"/><stop offset="0.0999" stop-color="#00d4e6"/><stop offset="0.2233" stop-color="#00dc9a"/><stop offset="0.2644" stop-color="#1fe114"/><stop offset="0.2761" stop-color="#3fe40f"/><stop offset="0.2820" stop-color="#f53608"/><stop offset="0.2879" stop-color="#f53608"/><stop offset="0.2938" stop-color="#ffffff"/><stop offset="0.3349" stop-color="#ffffff"/><stop offset="0.3408" stop-color="#f73906"/><stop offset="0.3467" stop-color="#ff5e00"/><stop offset="0.3584" stop-color="#ff9100"/><stop offset="0.3760" stop-color="#ffba00"/><stop offset="0.4407" stop-color="#f5f000"/><stop offset="0.5170" stop-color="#ccee00"/><stop offset="0.8402" stop-color="#ccee00"/><stop offset="0.8696" stop-color="#eef000"/><stop offset="0.8989" stop-color="#ffb100"/><stop offset="0.9988" stop-color="#f9dd00"/></linearGradient>
<linearGradient id="g67" gradientUnits="userSpaceOnUse" x1="74.0" y1="0" x2="244.2" y2="0"><stop offset="0.0000" stop-color="#000000"/><stop offset="0.0294" stop-color="#000000"/><stop offset="0.0470" stop-color="#001cb2"/><stop offset="0.0588" stop-color="#0065ef"/><stop offset="0.1058" stop-color="#00d0e8"/><stop offset="0.2233" stop-color="#00daa6"/><stop offset="0.2409" stop-color="#01de80"/><stop offset="0.2703" stop-color="#1fe114"/><stop offset="0.2820" stop-color="#39e310"/><stop offset="0.2879" stop-color="#f53608"/><stop offset="0.2938" stop-color="#ffffff"/><stop offset="0.3525" stop-color="#ffffff"/><stop offset="0.3584" stop-color="#ff8100"/><stop offset="0.3643" stop-color="#ffaa00"/><stop offset="0.3760" stop-color="#fcce00"/><stop offset="0.4407" stop-color="#f5ef00"/><stop offset="0.5229" stop-color="#c3ed00"/><stop offset="0.8226" stop-color="#c3ed00"/><stop offset="0.8519" stop-color="#c8ee00"/><stop offset="0.8696" stop-color="#eff000"/><stop offset="0.8931" stop-color="#ffbf00"/><stop offset="0.9988" stop-color="#f7e700"/></linearGradient>
<linearGradient id="g68" gradientUnits="userSpaceOnUse" x1="74.0" y1="0" x2="244.2" y2="0"><stop offset="0.0000" stop-color="#000000"/><stop offset="0.0588" stop-color="#000000"/><stop offset="0.0705" stop-color="#000451"/><stop offset="0.0764" stop-color="#00129d"/><stop offset="0.0823" stop-color="#0035cb"/><stop offset="0.0940" stop-color="#0063ef"/><stop offset="0.1351" stop-color="#00c0e9"/><stop offset="0.1645" stop-color="#00d4e7"/><stop offset="0.2291" stop-color="#00dab0"/><stop offset="0.2761" stop-color="#1de118"/><stop offset="0.2820" stop-color="#27e213"/><stop offset="0.2879" stop-color="#f53608"/><stop offset="0.2938" stop-color="#f53608"/><stop offset="0.2996" stop-color="#ffffff"/><stop offset="0.3467" stop-color="#ffffff"/><stop offset="0.3525" stop-color="#ff4a00"/><stop offset="0.3995" stop-color="#ffb100"/><stop offset="0.4583" stop-color="#f1f000"/><stop offset="0.5229" stop-color="#bbed00"/><stop offset="0.8284" stop-color="#b8ed00"/><stop offset="0.8578" stop-color="#bfed00"/><stop offset="0.8754" stop-color="#ebef00"/><stop offset="0.8872" stop-color="#fad800"/><stop offset="0.9988" stop-color="#f3f000"/></linearGradient>
<linearGradient id="g69" gradientUnits="userSpaceOnUse" x1="74.0" y1="0" x2="244.2" y2="0"><stop offset="0.0000" stop-color="#000000"/><stop offset="0.0353" stop-color="#000000"/><stop offset="0.0470" stop-color="#00002a"/><stop offset="0.0646" stop-color="#0014a8"/><stop offset="0.1175" stop-color="#005af0"/><stop offset="0.2174" stop-color="#0090ec"/><stop offset="0.2291" stop-color="#00a4eb"/><stop offset="0.2409" stop-color="#00d4e5"/><stop offset="0.2703" stop-color="#10e046"/><stop offset="0.2879" stop-color="#1ce11a"/><stop offset="0.2938" stop-color="#f53608"/><stop offset="0.2996" stop-color="#ffffff"/><stop offset="0.3525" stop-color="#ffffff"/><stop offset="0.3584" stop-color="#ff5e00"/><stop offset="0.3937" stop-color="#ffb300"/><stop offset="0.4465" stop-color="#f3f000"/><stop offset="0.4994" stop-color="#b7ed00"/><stop offset="0.5582" stop-color="#aaec00"/><stop offset="0.8578" stop-color="#aaec00"/><stop offset="0.8813" stop-color="#bbed00"/><stop offset="0.9048" stop-color="#f7e400"/><stop offset="0.9988" stop-color="#e4ef00"/></linearGradient>
<linearGradient id="g70" gradientUnits="userSpaceOnUse" x1="74.0" y1="0" x2="244.2" y2="0"><stop offset="0.0000" stop-color="#000000"/><stop offset="0.0999" stop-color="#000000"/><stop offset="0.1116" stop-color="#00065b"/><stop offset="0.1175" stop-color="#0013a3"/><stop offset="0.1293" stop-color="#005cf0"/><stop offset="0.1763" stop-color="#00d2e8"/><stop offset="0.2291" stop-color="#00d9b2"/><stop offset="0.2761" stop-color="#1de118"/><stop offset="0.2879" stop-color="#36e310"/><stop offset="0.2938" stop-color="#f53608"/><stop offset="0.2996" stop-color="#f53608"/><stop offset="0.3055" stop-color="#ffffff"/><stop offset="0.3349" stop-color="#ffffff"/><stop offset="0.3408" stop-color="#ff6b00"/><stop offset="0.3467" stop-color="#ff9e00"/><stop offset="0.3584" stop-color="#fccb00"/><stop offset="0.4230" stop-color="#f2f000"/><stop offset="0.5053" stop-color="#baed00"/><stop offset="0.8754" stop-color="#b9ed00"/><stop offset="0.9107" stop-color="#c4ed00"/><stop offset="0.9342" stop-color="#f7e600"/><stop offset="0.9988" stop-color="#f6e900"/></linearGradient>
<linearGradient id="g71" gradientUnits="userSpaceOnUse" x1="74.0" y1="0" x2="244.2" y2="0"><stop offset="0.0000" stop-color="#000000"/><stop offset="0.0294" stop-color="#000000"/><stop offset="0.0411" stop-color="#00002c"/><stop offset="0.0529" stop-color="#001ab0"/><stop offset="0.0588" stop-color="#0040d6"/><stop offset="0.0705" stop-color="#0063ef"/><stop offset="0.1058" stop-color="#00b7ea"/><stop offset="0.1586" stop-color="#00d4e7"/><stop offset="0.2350" stop-color="#00daaf"/><stop offset="0.2820" stop-color="#1ce11a"/><stop offset="0.2938" stop-color="#2be212"/><stop offset="0.2996" stop-color="#f53608"/><stop offset="0.3055" stop-color="#ffffff"/><stop offset="0.3467" stop-color="#ffffff"/><stop offset="0.3525" stop-color="#ff8500"/><stop offset="0.3584" stop-color="#ffaf00"/><stop offset="0.3702" stop-color="#fbd400"/><stop offset="0.4172" stop-color="#f5f000"/><stop offset="0.5170" stop-color="#adec00"/><stop offset="0.8872" stop-color="#adec00"/><stop offset="0.9283" stop-color="#b7ed00"/><stop offset="0.9577" stop-color="#f6ea00"/><stop offset="0.9988" stop-color="#f5f000"/></linearGradient>
<linearGradient id="g72" gradientUnits="userSpaceOnUse" x1="74.0" y1="0" x2="244.2" y2="0"><stop offset="0.0000" stop-color="#000000"/><stop offset="0.0705" stop-color="#000000"/><stop offset="0.0881" stop-color="#0025bb"/><stop offset="0.0999" stop-color="#006aef"/><stop offset="0.1469" stop-color="#00d3e8"/><stop offset="0.2350" stop-color="#00dba0"/><stop offset="0.2761" stop-color="#1ce11c"/><stop offset="0.2938" stop-color="#41e40e"/><stop offset="0.2996" stop-color="#f53608"/><stop offset="0.3055" stop-color="#ffffff"/><stop offset="0.3525" stop-color="#ffffff"/><stop offset="0.3584" stop-color="#ff4b00"/><stop offset="0.3643" stop-color="#ff8d00"/><stop offset="0.3760" stop-color="#fec500"/><stop offset="0.4407" stop-color="#f5f000"/><stop offset="0.5288" stop-color="#b7ed00"/><stop offset="0.9166" stop-color="#b7ed00"/><stop offset="0.9518" stop-color="#beed00"/><stop offset="0.9753" stop-color="#f0f000"/><stop offset="0.9988" stop-color="#f7e800"/></linearGradient>
<linearGradient id="g73" gradientUnits="userSpaceOnUse" x1="74.0" y1="0" x2="244.2" y2="0"><stop offset="0.0000" stop-color="#000000"/><stop offset="0.0881" stop-color="#000000"/><stop offset="0.1058" stop-color="#0015ab"/><stop offset="0.1175" stop-color="#0058ee"/><stop offset="0.1234" stop-color="#006eef"/><stop offset="0.1704" stop-color="#00d4e7"/><stop offset="0.2350" stop-color="#00dba3"/><stop offset="0.2761" stop-color="#1be11f"/><stop offset="0.2938" stop-color="#41e40e"/><stop offset="0.2996" stop-color="#f53608"/><stop offset="0.3055" stop-color="#ffffff"/><stop offset="0.3467" stop-color="#ffffff"/><stop offset="0.3525" stop-color="#fd4301"/><stop offset="0.3878" stop-color="#ffa200"/><stop offset="0.4524" stop-color="#f4f000"/><stop offset="0.5288" stop-color="#b7ed00"/><stop offset="0.9636" stop-color="#b5ed00"/><stop offset="0.9988" stop-color="#d8ee00"/></linearGradient>
<linearGradient id="g74" gradientUnits="userSpaceOnUse" x1="74.0" y1="0" x2="244.2" y2="0"><stop offset="0.0000" stop-color="#000000"/><stop offset="0.2174" stop-color="#000000"/><stop offset="0.2233" stop-color="#00034d"/><stop offset="0.2291" stop-color="#000761"/><stop offset="0.2350" stop-color="#001094"/><stop offset="0.2468" stop-color="#0064ef"/><stop offset="0.2585" stop-color="#00d4e7"/><stop offset="0.2820" stop-color="#16e032"/><stop offset="0.2879" stop-color="#1ee115"/><stop offset="0.2996" stop-color="#43e40e"/><stop offset="0.3055" stop-color="#f53608"/><stop offset="0.3114" stop-color="#ffffff"/><stop offset="0.3584" stop-color="#ffffff"/><stop offset="0.3643" stop-color="#f63807"/><stop offset="0.3702" stop-color="#ff6700"/><stop offset="0.3937" stop-color="#ffbe00"/><stop offset="0.4524" stop-color="#f5f000"/><stop offset="0.5347" stop-color="#b7ed00"/><stop offset="0.9988" stop-color="#c6ee00"/></linearGradient>
<linearGradient id="g75" gradientUnits="userSpaceOnUse" x1="74.0" y1="0" x2="244.2" y2="0"><stop offset="0.0000" stop-color="#000000"/><stop offset="0.2350" stop-color="#000000"/><stop offset="0.2468" stop-color="#000763"/><stop offset="0.2526" stop-color="#0022b8"/><stop offset="0.2585" stop-color="#0060f0"/><stop offset="0.2703" stop-color="#00d6d1"/><stop offset="0.2879" stop-color="#12e042"/><stop offset="0.2996" stop-color="#1ee114"/><stop offset="0.3055" stop-color="#f53608"/><stop offset="0.3114" stop-color="#ffffff"/><stop offset="0.3584" stop-color="#ffffff"/><stop offset="0.3643" stop-color="#ff4f00"/><stop offset="0.3760" stop-color="#ff8d00"/><stop offset="0.3937" stop-color="#ffbc00"/><stop offset="0.4465" stop-color="#f1f000"/><stop offset="0.5347" stop-color="#abec00"/><stop offset="0.9988" stop-color="#adec00"/></linearGradient>
<linearGradient id="g76" gradientUnits="userSpaceOnUse" x1="74.0" y1="0" x2="244.2" y2="0"><stop offset="0.0000" stop-color="#000000"/><stop offset="0.2526" stop-color="#000000"/><stop offset="0.2585" stop-color="#000143"/><stop offset="0.2644" stop-color="#000e8b"/><stop offset="0.2703" stop-color="#0041d7"/><stop offset="0.2761" stop-color="#008fed"/><stop offset="0.2820" stop-color="#00d6d1"/><stop offset="0.2879" stop-color="#00dd91"/><stop offset="0.2996" stop-color="#0ddf53"/><stop offset="0.3055" stop-color="#f53608"/><stop offset="0.3114" stop-color="#ffffff"/><stop offset="0.3643" stop-color="#ffffff"/><stop offset="0.3702" stop-color="#ff6d00"/><stop offset="0.3878" stop-color="#ffbc00"/><stop offset="0.4289" stop-color="#f4f000"/><stop offset="0.5347" stop-color="#95eb00"/><stop offset="0.9988" stop-color="#95eb00"/></linearGradient>
<linearGradient id="g77" gradientUnits="userSpaceOnUse" x1="74.0" y1="0" x2="244.2" y2="0"><stop offset="0.0000" stop-color="#000000"/><stop offset="0.2703" stop-color="#000000"/><stop offset="0.2761" stop-color="#0039cf"/><stop offset="0.2820" stop-color="#0062ef"/><stop offset="0.2879" stop-color="#00a5eb"/><stop offset="0.2938" stop-color="#00d9b3"/><stop offset="0.2996" stop-color="#04de72"/><stop offset="0.3055" stop-color="#f53608"/><stop offset="0.3114" stop-color="#f53608"/><stop offset="0.3173" stop-color="#ffffff"/><stop offset="0.3584" stop-color="#ffffff"/><stop offset="0.3643" stop-color="#ff7100"/><stop offset="0.3878" stop-color="#fec200"/><stop offset="0.4289" stop-color="#f4f000"/><stop offset="0.5288" stop-color="#9aeb00"/><stop offset="0.9988" stop-color="#99eb00"/></linearGradient>
<linearGradient id="g78" gradientUnits="userSpaceOnUse" x1="74.0" y1="0" x2="244.2" y2="0"><stop offset="0.0000" stop-color="#000000"/><stop offset="0.0588" stop-color="#000000"/><stop offset="0.0881" stop-color="#001fb5"/><stop offset="0.1293" stop-color="#005df0"/><stop offset="0.2350" stop-color="#0099ec"/><stop offset="0.2468" stop-color="#00baea"/><stop offset="0.2526" stop-color="#00d4e4"/><stop offset="0.2703" stop-color="#01de7e"/><stop offset="0.2879" stop-color="#1ee115"/><stop offset="0.3055" stop-color="#43e40e"/><stop offset="0.3114" stop-color="#f53608"/><stop offset="0.3173" stop-color="#ffffff"/><stop offset="0.3819" stop-color="#ffffff"/><stop offset="0.3878" stop-color="#ff6800"/><stop offset="0.3937" stop-color="#ff9d00"/><stop offset="0.4054" stop-color="#fccb00"/><stop offset="0.4583" stop-color="#f5f000"/><stop offset="0.5582" stop-color="#a5ec00"/><stop offset="0.9988" stop-color="#a5ec00"/></linearGradient>
<linearGradient id="g79" gradientUnits="userSpaceOnUse" x1="74.0" y1="0" x2="244.2" y2="0"><stop offset="0.0000" stop-color="#000000"/><stop offset="0.0529" stop-color="#000000"/><stop offset="0.0588" stop-color="#00003e"/><stop offset="0.0764" stop-color="#001bb1"/><stop offset="0.1116" stop-color="#005bf0"/><stop offset="0.2350" stop-color="#00a5eb"/><stop offset="0.2468" stop-color="#00c1e9"/><stop offset="0.2526" stop-color="#00d5e1"/><stop offset="0.2703" stop-color="#01de7f"/><stop offset="0.2879" stop-color="#20e114"/><stop offset="0.3055" stop-color="#4de50c"/><stop offset="0.3114" stop-color="#f53608"/><stop offset="0.3173" stop-color="#ffffff"/><stop offset="0.3702" stop-color="#ffffff"/><stop offset="0.3760" stop-color="#fa3e04"/><stop offset="0.3819" stop-color="#ff6100"/><stop offset="0.4113" stop-color="#ffbb00"/><stop offset="0.4642" stop-color="#f2f000"/><stop offset="0.5464" stop-color="#a9ec00"/><stop offset="0.9988" stop-color="#a9ec00"/></linearGradient>
<linearGradient id="g80" gradientUnits="userSpaceOnUse" x1="74.0" y1="0" x2="244.2" y2="0"><stop offset="0.0000" stop-color="#000000"/><stop offset="0.0881" stop-color="#000000"/><stop offset="0.0940" stop-color="#000035"/><stop offset="0.1175" stop-color="#0017ad"/><stop offset="0.1821" stop-color="#005af0"/><stop offset="0.2409" stop-color="#0086ed"/><stop offset="0.2585" stop-color="#00d5e0"/><stop offset="0.2879" stop-color="#1ce11d"/><stop offset="0.3055" stop-color="#49e50d"/><stop offset="0.3114" stop-color="#f53608"/><stop offset="0.3173" stop-color="#f53608"/><stop offset="0.3231" stop-color="#ffffff"/><stop offset="0.3584" stop-color="#ffffff"/><stop offset="0.3643" stop-color="#f93c05"/><stop offset="0.3702" stop-color="#ff8400"/><stop offset="0.3760" stop-color="#ffab00"/><stop offset="0.3878" stop-color="#fcce00"/><stop offset="0.4407" stop-color="#f4f000"/><stop offset="0.5347" stop-color="#a5ec00"/><stop offset="0.9988" stop-color="#a5ec00"/></linearGradient>
<linearGradient id="g81" gradientUnits="userSpaceOnUse" x1="74.0" y1="0" x2="244.2" y2="0"><stop offset="0.0000" stop-color="#000000"/><stop offset="0.0646" stop-color="#000000"/><stop offset="0.0823" stop-color="#0014a7"/><stop offset="0.0940" stop-color="#0043d9"/><stop offset="0.1116" stop-color="#0064ef"/><stop offset="0.1351" stop-color="#008ced"/><stop offset="0.2409" stop-color="#00d4e3"/><stop offset="0.2526" stop-color="#00d7cb"/><stop offset="0.2703" stop-color="#00de80"/><stop offset="0.2879" stop-color="#1ae122"/><stop offset="0.3114" stop-color="#4ae50d"/><stop offset="0.3173" stop-color="#f53608"/><stop offset="0.3231" stop-color="#ffffff"/><stop offset="0.3643" stop-color="#ffffff"/><stop offset="0.3702" stop-color="#fe4501"/><stop offset="0.3819" stop-color="#ff8600"/><stop offset="0.3995" stop-color="#ffb700"/><stop offset="0.4524" stop-color="#f2f000"/><stop offset="0.5405" stop-color="#a2ec00"/><stop offset="0.9988" stop-color="#a1ec00"/></linearGradient>
<linearGradient id="g82" gradientUnits="userSpaceOnUse" x1="74.0" y1="0" x2="244.2" y2="0"><stop offset="0.0000" stop-color="#000000"/><stop offset="0.0705" stop-color="#000000"/><stop offset="0.0764" stop-color="#000a72"/><stop offset="0.0823" stop-color="#0019af"/><stop offset="0.0940" stop-color="#0068ef"/><stop offset="0.1351" stop-color="#00d4e6"/><stop offset="0.2468" stop-color="#00dd8b"/><stop offset="0.2820" stop-color="#19e125"/><stop offset="0.3114" stop-color="#5be60a"/><stop offset="0.3173" stop-color="#f53608"/><stop offset="0.3231" stop-color="#ffffff"/><stop offset="0.3878" stop-color="#ffffff"/><stop offset="0.3937" stop-color="#f63807"/><stop offset="0.3995" stop-color="#ff5700"/><stop offset="0.4289" stop-color="#ffae00"/><stop offset="0.4877" stop-color="#f1f000"/><stop offset="0.5640" stop-color="#aaec00"/><stop offset="0.9988" stop-color="#a9ec00"/></linearGradient>
<linearGradient id="g83" gradientUnits="userSpaceOnUse" x1="74.0" y1="0" x2="244.2" y2="0"><stop offset="0.0000" stop-color="#000000"/><stop offset="0.0705" stop-color="#000000"/><stop offset="0.0999" stop-color="#0013a6"/><stop offset="0.1410" stop-color="#0048de"/><stop offset="0.1880" stop-color="#005cf0"/><stop offset="0.2468" stop-color="#0087ed"/><stop offset="0.2644" stop-color="#00d5df"/><stop offset="0.2879" stop-color="#10e048"/><stop offset="0.2996" stop-color="#20e114"/><stop offset="0.3114" stop-color="#37e310"/><stop offset="0.3173" stop-color="#f53608"/><stop offset="0.3231" stop-color="#ffffff"/><stop offset="0.3643" stop-color="#ffffff"/><stop offset="0.3702" stop-color="#ff4c00"/><stop offset="0.3995" stop-color="#ffaf00"/><stop offset="0.4524" stop-color="#f0f000"/><stop offset="0.4994" stop-color="#b0ec00"/><stop offset="0.5405" stop-color="#94eb00"/><stop offset="0.9988" stop-color="#93eb01"/></linearGradient>
<linearGradient id="g84" gradientUnits="userSpaceOnUse" x1="74.0" y1="0" x2="244.2" y2="0"><stop offset="0.0000" stop-color="#000000"/><stop offset="0.1410" stop-color="#000000"/><stop offset="0.1528" stop-color="#000038"/><stop offset="0.1645" stop-color="#0027bd"/><stop offset="0.1704" stop-color="#0046dc"/><stop offset="0.1821" stop-color="#0063ef"/><stop offset="0.2174" stop-color="#00c2e9"/><stop offset="0.2409" stop-color="#00d6d5"/><stop offset="0.2996" stop-color="#1be11d"/><stop offset="0.3173" stop-color="#31e311"/><stop offset="0.3231" stop-color="#f53608"/><stop offset="0.3290" stop-color="#ffffff"/><stop offset="0.3760" stop-color="#ffffff"/><stop offset="0.3819" stop-color="#ff4d00"/><stop offset="0.3937" stop-color="#ff9400"/><stop offset="0.4054" stop-color="#ffbb00"/><stop offset="0.4465" stop-color="#f5ef00"/><stop offset="0.5523" stop-color="#8cea02"/><stop offset="0.9988" stop-color="#8cea02"/></linearGradient>
<linearGradient id="g85" gradientUnits="userSpaceOnUse" x1="74.0" y1="0" x2="244.2" y2="0"><stop offset="0.0000" stop-color="#000000"/><stop offset="0.0353" stop-color="#000000"/><stop offset="0.0470" stop-color="#00002e"/><stop offset="0.0646" stop-color="#001199"/><stop offset="0.0940" stop-color="#0036cc"/><stop offset="0.1704" stop-color="#005af0"/><stop offset="0.2468" stop-color="#0086ed"/><stop offset="0.2644" stop-color="#00cce9"/><stop offset="0.2996" stop-color="#1be11f"/><stop offset="0.3173" stop-color="#35e310"/><stop offset="0.3231" stop-color="#f53608"/><stop offset="0.3290" stop-color="#ffffff"/><stop offset="0.3819" stop-color="#ffffff"/><stop offset="0.3878" stop-color="#ff7400"/><stop offset="0.3937" stop-color="#ffa300"/><stop offset="0.4054" stop-color="#fccf00"/><stop offset="0.4407" stop-color="#f5ef00"/><stop offset="0.5523" stop-color="#8dea02"/><stop offset="0.9988" stop-color="#8cea02"/></linearGradient>
<linearGradient id="g86" gradientUnits="userSpaceOnUse" x1="74.0" y1="0" x2="244.2" y2="0"><stop offset="0.0000" stop-color="#000000"/><stop offset="0.1704" stop-color="#000000"/><stop offset="0.1763" stop-color="#00034e"/><stop offset="0.1939" stop-color="#0013a7"/><stop offset="0.2174" stop-color="#0064ef"/><stop offset="0.2526" stop-color="#00d4e7"/><stop offset="0.2938" stop-color="#1ce11c"/><stop offset="0.3173" stop-color="#57e60b"/><stop offset="0.3231" stop-color="#f53608"/><stop offset="0.3290" stop-color="#ffffff"/><stop offset="0.3760" stop-color="#ffffff"/><stop offset="0.3819" stop-color="#ff5000"/><stop offset="0.3937" stop-color="#ff8600"/><stop offset="0.4113" stop-color="#ffb100"/><stop offset="0.4642" stop-color="#f5f000"/><stop offset="0.5464" stop-color="#a0ec00"/><stop offset="0.9988" stop-color="#9feb00"/></linearGradient>
<linearGradient id="g87" gradientUnits="userSpaceOnUse" x1="74.0" y1="0" x2="244.2" y2="0"><stop offset="0.0000" stop-color="#000000"/><stop offset="0.1293" stop-color="#000000"/><stop offset="0.1351" stop-color="#00065c"/><stop offset="0.1469" stop-color="#0013a3"/><stop offset="0.1645" stop-color="#004fe5"/><stop offset="0.1763" stop-color="#005ff0"/><stop offset="0.2468" stop-color="#00d4e8"/><stop offset="0.2644" stop-color="#00d9b6"/><stop offset="0.2938" stop-color="#1de117"/><stop offset="0.3173" stop-color="#64e708"/><stop offset="0.3231" stop-color="#f53608"/><stop offset="0.3290" stop-color="#f53608"/><stop offset="0.3349" stop-color="#ffffff"/><stop offset="0.3643" stop-color="#ffffff"/><stop offset="0.3702" stop-color="#f73a06"/><stop offset="0.3760" stop-color="#ff6700"/><stop offset="0.3995" stop-color="#ffbc00"/><stop offset="0.4583" stop-color="#f1f000"/><stop offset="0.5405" stop-color="#a6ec00"/><stop offset="0.9988" stop-color="#a5ec00"/></linearGradient>
<linearGradient id="g88" gradientUnits="userSpaceOnUse" x1="74.0" y1="0" x2="244.2" y2="0"><stop offset="0.0000" stop-color="#000000"/><stop offset="0.0764" stop-color="#000000"/><stop offset="0.0881" stop-color="#00003d"/><stop offset="0.0999" stop-color="#0013a6"/><stop offset="0.1058" stop-color="#002ac0"/><stop offset="0.1351" stop-color="#0063ef"/><stop offset="0.2526" stop-color="#00cee8"/><stop offset="0.2644" stop-color="#00d7ce"/><stop offset="0.2820" stop-color="#01de80"/><stop offset="0.3055" stop-color="#23e113"/><stop offset="0.3231" stop-color="#41e40e"/><stop offset="0.3290" stop-color="#f53608"/><stop offset="0.3349" stop-color="#ffffff"/><stop offset="0.3819" stop-color="#ffffff"/><stop offset="0.3878" stop-color="#ff5400"/><stop offset="0.4172" stop-color="#ff9d00"/><stop offset="0.4759" stop-color="#f4f000"/><stop offset="0.5229" stop-color="#acec00"/><stop offset="0.5582" stop-color="#94eb00"/><stop offset="0.9988" stop-color="#8dea01"/></linearGradient>
<linearGradient id="g89" gradientUnits="userSpaceOnUse" x1="74.0" y1="0" x2="244.2" y2="0"><stop offset="0.0000" stop-color="#000000"/><stop offset="0.0646" stop-color="#000000"/><stop offset="0.0764" stop-color="#000451"/><stop offset="0.0823" stop-color="#00129f"/><stop offset="0.0881" stop-color="#0035cb"/><stop offset="0.0999" stop-color="#005df0"/><stop offset="0.1351" stop-color="#00b3ea"/><stop offset="0.1880" stop-color="#00d4e6"/><stop offset="0.2468" stop-color="#00daaf"/><stop offset="0.2703" stop-color="#00de82"/><stop offset="0.3055" stop-color="#1de118"/><stop offset="0.3231" stop-color="#3ae30f"/><stop offset="0.3290" stop-color="#f53608"/><stop offset="0.3349" stop-color="#ffffff"/><stop offset="0.3819" stop-color="#ffffff"/><stop offset="0.3878" stop-color="#ff4c00"/><stop offset="0.4172" stop-color="#ffa900"/><stop offset="0.4700" stop-color="#f1f000"/><stop offset="0.5170" stop-color="#abec00"/><stop offset="0.5582" stop-color="#8bea02"/><stop offset="0.9988" stop-color="#88ea02"/></linearGradient>
<linearGradient id="g90" gradientUnits="userSpaceOnUse" x1="74.0" y1="0" x2="244.2" y2="0"><stop offset="0.0000" stop-color="#000000"/><stop offset="0.0881" stop-color="#000000"/><stop offset="0.1175" stop-color="#000b7a"/><stop offset="0.1410" stop-color="#001ab0"/><stop offset="0.2350" stop-color="#005af0"/><stop offset="0.2585" stop-color="#0071ee"/><stop offset="0.2761" stop-color="#00cee8"/><stop offset="0.3055" stop-color="#17e02d"/><stop offset="0.3114" stop-color="#1ee115"/><stop offset="0.3231" stop-color="#33e310"/><stop offset="0.3290" stop-color="#f53608"/><stop offset="0.3349" stop-color="#f53608"/><stop offset="0.3408" stop-color="#ffffff"/><stop offset="0.3937" stop-color="#ffffff"/><stop offset="0.3995" stop-color="#ff6100"/><stop offset="0.4230" stop-color="#ffbd00"/><stop offset="0.4642" stop-color="#f5f000"/><stop offset="0.5640" stop-color="#86ea03"/><stop offset="0.9988" stop-color="#85ea03"/></linearGradient>
<linearGradient id="g91" gradientUnits="userSpaceOnUse" x1="74.0" y1="0" x2="244.2" y2="0"><stop offset="0.0000" stop-color="#000000"/><stop offset="0.0411" stop-color="#000000"/><stop offset="0.0529" stop-color="#001091"/><stop offset="0.0588" stop-color="#0031c7"/><stop offset="0.0646" stop-color="#0058ee"/><stop offset="0.0705" stop-color="#0070ef"/><stop offset="0.1116" stop-color="#00d4e7"/><stop offset="0.1586" stop-color="#00d6d6"/><stop offset="0.2526" stop-color="#00de81"/><stop offset="0.2938" stop-color="#1de118"/><stop offset="0.3290" stop-color="#71e806"/><stop offset="0.3349" stop-color="#f53608"/><stop offset="0.3408" stop-color="#ffffff"/><stop offset="0.3937" stop-color="#ffffff"/><stop offset="0.3995" stop-color="#ff4c00"/><stop offset="0.4113" stop-color="#ff9000"/><stop offset="0.4230" stop-color="#ffb200"/><stop offset="0.4877" stop-color="#f0f000"/><stop offset="0.5699" stop-color="#a6ec00"/><stop offset="0.9988" stop-color="#a6ec00"/></linearGradient>
<linearGradient id="g92" gradientUnits="userSpaceOnUse" x1="74.0" y1="0" x2="244.2" y2="0"><stop offset="0.0000" stop-color="#000000"/><stop offset="0.0411" stop-color="#000000"/><stop offset="0.0646" stop-color="#001fb5"/><stop offset="0.0940" stop-color="#005cf0"/><stop offset="0.2585" stop-color="#00d3e8"/><stop offset="0.2703" stop-color="#00d6d0"/><stop offset="0.2879" stop-color="#01de80"/><stop offset="0.3055" stop-color="#1de117"/><stop offset="0.3173" stop-color="#4ee50c"/><stop offset="0.3290" stop-color="#62e709"/><stop offset="0.3349" stop-color="#f53608"/><stop offset="0.3408" stop-color="#f53608"/><stop offset="0.3467" stop-color="#ffffff"/><stop offset="0.3878" stop-color="#ffffff"/><stop offset="0.3937" stop-color="#fe4500"/><stop offset="0.4054" stop-color="#ff9900"/><stop offset="0.4172" stop-color="#ffbe00"/><stop offset="0.4759" stop-color="#f1f000"/><stop offset="0.5640" stop-color="#9eeb00"/><stop offset="0.9988" stop-color="#9deb00"/></linearGradient>
<linearGradient id="g93" gradientUnits="userSpaceOnUse" x1="74.0" y1="0" x2="244.2" y2="0"><stop offset="0.0000" stop-color="#000000"/><stop offset="0.0411" stop-color="#000000"/><stop offset="0.0646" stop-color="#0015ab"/><stop offset="0.0999" stop-color="#005bf0"/><stop offset="0.2644" stop-color="#00cce9"/><stop offset="0.2761" stop-color="#00d7ce"/><stop offset="0.2938" stop-color="#03de75"/><stop offset="0.3114" stop-color="#24e213"/><stop offset="0.3349" stop-color="#5ce60a"/><stop offset="0.3408" stop-color="#f53608"/><stop offset="0.3467" stop-color="#ffffff"/><stop offset="0.3995" stop-color="#ffffff"/><stop offset="0.4054" stop-color="#ff6300"/><stop offset="0.4113" stop-color="#ff9600"/><stop offset="0.4230" stop-color="#fec400"/><stop offset="0.4759" stop-color="#f5ef00"/><stop offset="0.5699" stop-color="#98eb00"/><stop offset="0.9988" stop-color="#97eb00"/></linearGradient>
<linearGradient id="g94" gradientUnits="userSpaceOnUse" x1="74.0" y1="0" x2="244.2" y2="0"><stop offset="0.0000" stop-color="#000000"/><stop offset="0.0999" stop-color="#000000"/><stop offset="0.1058" stop-color="#000029"/><stop offset="0.1175" stop-color="#001cb2"/><stop offset="0.1410" stop-color="#0066ef"/><stop offset="0.1645" stop-color="#009eec"/><stop offset="0.2174" stop-color="#00d3e8"/><stop offset="0.2526" stop-color="#00d8be"/><stop offset="0.3173" stop-color="#1ee116"/><stop offset="0.3349" stop-color="#3de40f"/><stop offset="0.3408" stop-color="#f53608"/><stop offset="0.3467" stop-color="#ffffff"/><stop offset="0.3995" stop-color="#ffffff"/><stop offset="0.4054" stop-color="#ff6100"/><stop offset="0.4172" stop-color="#ffa100"/><stop offset="0.4289" stop-color="#fec200"/><stop offset="0.4700" stop-color="#f3f000"/><stop offset="0.5699" stop-color="#86ea03"/><stop offset="0.9988" stop-color="#85ea03"/></linearGradient>
<linearGradient id="g95" gradientUnits="userSpaceOnUse" x1="74.0" y1="0" x2="244.2" y2="0"><stop offset="0.0000" stop-color="#000000"/><stop offset="0.0411" stop-color="#000000"/><stop offset="0.0529" stop-color="#000039"/><stop offset="0.0646" stop-color="#0022b8"/><stop offset="0.0823" stop-color="#005ff0"/><stop offset="0.1234" stop-color="#00b7ea"/><stop offset="0.1763" stop-color="#00d4e5"/><stop offset="0.2585" stop-color="#00dc9a"/><stop offset="0.3114" stop-color="#1de117"/><stop offset="0.3408" stop-color="#55e60b"/><stop offset="0.3467" stop-color="#f53608"/><stop offset="0.3525" stop-color="#ffffff"/><stop offset="0.3995" stop-color="#ffffff"/><stop offset="0.4054" stop-color="#ff4f00"/><stop offset="0.4172" stop-color="#ff8400"/><stop offset="0.4348" stop-color="#ffb000"/><stop offset="0.4877" stop-color="#f0f000"/><stop offset="0.5405" stop-color="#a8ec00"/><stop offset="0.5758" stop-color="#92eb01"/><stop offset="0.9988" stop-color="#91eb01"/></linearGradient>
<linearGradient id="g96" gradientUnits="userSpaceOnUse" x1="74.0" y1="0" x2="244.2" y2="0"><stop offset="0.0000" stop-color="#000000"/><stop offset="0.0588" stop-color="#000000"/><stop offset="0.0705" stop-color="#000034"/><stop offset="0.0823" stop-color="#0025bb"/><stop offset="0.0881" stop-color="#0046dc"/><stop offset="0.0999" stop-color="#0064ef"/><stop offset="0.1293" stop-color="#00b0ea"/><stop offset="0.1939" stop-color="#00d5e1"/><stop offset="0.2644" stop-color="#00dc99"/><stop offset="0.3114" stop-color="#1be11e"/><stop offset="0.3408" stop-color="#53e50b"/><stop offset="0.3467" stop-color="#f53608"/><stop offset="0.3525" stop-color="#ffffff"/><stop offset="0.3995" stop-color="#ffffff"/><stop offset="0.4054" stop-color="#ff4600"/><stop offset="0.4348" stop-color="#ffa700"/><stop offset="0.4877" stop-color="#f5ef00"/><stop offset="0.5405" stop-color="#a9ec00"/><stop offset="0.5758" stop-color="#92eb01"/><stop offset="0.9988" stop-color="#90eb01"/></linearGradient>
<linearGradient id="g97" gradientUnits="userSpaceOnUse" x1="74.0" y1="0" x2="244.2" y2="0"><stop offset="0.0000" stop-color="#000000"/><stop offset="0.0999" stop-color="#000000"/><stop offset="0.1116" stop-color="#000033"/><stop offset="0.1175" stop-color="#000a74"/><stop offset="0.1234" stop-color="#0022b8"/><stop offset="0.1351" stop-color="#005ef0"/><stop offset="0.1704" stop-color="#00baea"/><stop offset="0.1998" stop-color="#00d3e8"/><stop offset="0.2761" stop-color="#00de82"/><stop offset="0.3114" stop-color="#1de119"/><stop offset="0.3467" stop-color="#62e709"/><stop offset="0.3525" stop-color="#f53608"/><stop offset="0.3584" stop-color="#ffffff"/><stop offset="0.3995" stop-color="#ffffff"/><stop offset="0.4054" stop-color="#fb3f03"/><stop offset="0.4113" stop-color="#ff5a00"/><stop offset="0.4407" stop-color="#ffab00"/><stop offset="0.4935" stop-color="#f4f000"/><stop offset="0.5405" stop-color="#b1ec00"/><stop offset="0.5758" stop-color="#99eb00"/><stop offset="0.9988" stop-color="#97eb00"/></linearGradient>
<linearGradient id="g98" gradientUnits="userSpaceOnUse" x1="74.0" y1="0" x2="244.2" y2="0"><stop offset="0.0000" stop-color="#000000"/><stop offset="0.1116" stop-color="#000000"/><stop offset="0.1234" stop-color="#000039"/><stop offset="0.1351" stop-color="#0014a8"/><stop offset="0.1704" stop-color="#0062ef"/><stop offset="0.2703" stop-color="#00cee8"/><stop offset="0.2879" stop-color="#00d8c1"/><stop offset="0.3055" stop-color="#04de73"/><stop offset="0.3231" stop-color="#1ce11b"/><stop offset="0.3467" stop-color="#4de50c"/><stop offset="0.3525" stop-color="#f53608"/><stop offset="0.3584" stop-color="#ffffff"/><stop offset="0.4113" stop-color="#ffffff"/><stop offset="0.4172" stop-color="#ff4700"/><stop offset="0.4407" stop-color="#ff8300"/><stop offset="0.5112" stop-color="#f5ee00"/><stop offset="0.5523" stop-color="#b4ed00"/><stop offset="0.5875" stop-color="#96eb00"/><stop offset="0.9988" stop-color="#8cea02"/></linearGradient>
<linearGradient id="g99" gradientUnits="userSpaceOnUse" x1="74.0" y1="0" x2="244.2" y2="0"><stop offset="0.0000" stop-color="#000000"/><stop offset="0.0529" stop-color="#000000"/><stop offset="0.0646" stop-color="#000245"/><stop offset="0.0705" stop-color="#001094"/><stop offset="0.0764" stop-color="#0030c6"/><stop offset="0.0881" stop-color="#005af0"/><stop offset="0.1234" stop-color="#00b3ea"/><stop offset="0.1939" stop-color="#00d5df"/><stop offset="0.2703" stop-color="#00dc95"/><stop offset="0.3173" stop-color="#1be11e"/><stop offset="0.3525" stop-color="#57e60a"/><stop offset="0.3584" stop-color="#f53608"/><stop offset="0.3643" stop-color="#ffffff"/><stop offset="0.3995" stop-color="#ffffff"/><stop offset="0.4054" stop-color="#ff5f00"/><stop offset="0.4230" stop-color="#ffbc00"/><stop offset="0.4759" stop-color="#f3f000"/><stop offset="0.5699" stop-color="#92eb01"/><stop offset="0.9988" stop-color="#90eb01"/></linearGradient>
<linearGradient id="g100" gradientUnits="userSpaceOnUse" x1="74.0" y1="0" x2="244.2" y2="0"><stop offset="0.0000" stop-color="#000000"/><stop offset="0.0999" stop-color="#000000"/><stop offset="0.1058" stop-color="#00001a"/><stop offset="0.1175" stop-color="#0013a5"/><stop offset="0.1234" stop-color="#0031c7"/><stop offset="0.1410" stop-color="#0061f0"/><stop offset="0.1704" stop-color="#00a3eb"/><stop offset="0.2233" stop-color="#00d2e8"/><stop offset="0.2644" stop-color="#00d8bb"/><stop offset="0.3290" stop-color="#1de118"/><stop offset="0.3525" stop-color="#43e40e"/><stop offset="0.3584" stop-color="#f53608"/><stop offset="0.3643" stop-color="#ffffff"/><stop offset="0.4054" stop-color="#ffffff"/><stop offset="0.4113" stop-color="#ff5700"/><stop offset="0.4348" stop-color="#ffb300"/><stop offset="0.4818" stop-color="#f4f000"/><stop offset="0.5405" stop-color="#a2ec00"/><stop offset="0.5817" stop-color="#85ea03"/><stop offset="0.9988" stop-color="#85ea03"/></linearGradient>
<linearGradient id="g101" gradientUnits="userSpaceOnUse" x1="74.0" y1="0" x2="244.2" y2="0"><stop offset="0.0000" stop-color="#000000"/><stop offset="0.0705" stop-color="#000000"/><stop offset="0.0823" stop-color="#000035"/><stop offset="0.0940" stop-color="#0014a8"/><stop offset="0.1175" stop-color="#0059ef"/><stop offset="0.1528" stop-color="#00a2eb"/><stop offset="0.1998" stop-color="#00d1e8"/><stop offset="0.2644" stop-color="#00daaa"/><stop offset="0.2879" stop-color="#00de83"/><stop offset="0.3290" stop-color="#1fe114"/><stop offset="0.3525" stop-color="#4ce50c"/><stop offset="0.3584" stop-color="#f53608"/><stop offset="0.3643" stop-color="#f53608"/><stop offset="0.3702" stop-color="#ffffff"/><stop offset="0.4113" stop-color="#ffffff"/><stop offset="0.4172" stop-color="#fb4003"/><stop offset="0.4230" stop-color="#ff4f00"/><stop offset="0.5229" stop-color="#f1f000"/><stop offset="0.5640" stop-color="#b0ec00"/><stop offset="0.5993" stop-color="#9aeb00"/><stop offset="0.9988" stop-color="#8bea02"/></linearGradient>
<linearGradient id="g102" gradientUnits="userSpaceOnUse" x1="74.0" y1="0" x2="244.2" y2="0"><stop offset="0.0000" stop-color="#000000"/><stop offset="0.0764" stop-color="#000000"/><stop offset="0.0881" stop-color="#00002f"/><stop offset="0.0999" stop-color="#00129c"/><stop offset="0.1058" stop-color="#0027bd"/><stop offset="0.1293" stop-color="#005bf0"/><stop offset="0.1645" stop-color="#009feb"/><stop offset="0.2115" stop-color="#00cfe8"/><stop offset="0.2703" stop-color="#00d9b1"/><stop offset="0.3349" stop-color="#1ee115"/><stop offset="0.3584" stop-color="#43e40e"/><stop offset="0.3643" stop-color="#f53608"/><stop offset="0.3702" stop-color="#ffffff"/><stop offset="0.4054" stop-color="#ffffff"/><stop offset="0.4113" stop-color="#ff8200"/><stop offset="0.4172" stop-color="#ffad00"/><stop offset="0.4289" stop-color="#fbd400"/><stop offset="0.4642" stop-color="#f5ef00"/><stop offset="0.5758" stop-color="#86ea03"/><stop offset="0.9988" stop-color="#85ea03"/></linearGradient>
<linearGradient id="g103" gradientUnits="userSpaceOnUse" x1="74.0" y1="0" x2="244.2" y2="0"><stop offset="0.0000" stop-color="#000000"/><stop offset="0.0529" stop-color="#000000"/><stop offset="0.0823" stop-color="#000b79"/><stop offset="0.1175" stop-color="#0029bf"/><stop offset="0.2350" stop-color="#005af0"/><stop offset="0.2879" stop-color="#007eee"/><stop offset="0.3055" stop-color="#00c4e9"/><stop offset="0.3408" stop-color="#1be120"/><stop offset="0.3584" stop-color="#35e310"/><stop offset="0.3643" stop-color="#f53608"/><stop offset="0.3702" stop-color="#f53608"/><stop offset="0.3760" stop-color="#ffffff"/><stop offset="0.4172" stop-color="#ffffff"/><stop offset="0.4230" stop-color="#ff7300"/><stop offset="0.4407" stop-color="#fec300"/><stop offset="0.4818" stop-color="#f0f000"/><stop offset="0.5875" stop-color="#7ee904"/><stop offset="0.9988" stop-color="#7de904"/></linearGradient>
<linearGradient id="g104" gradientUnits="userSpaceOnUse" x1="74.0" y1="0" x2="244.2" y2="0"><stop offset="0.0000" stop-color="#000000"/><stop offset="0.0529" stop-color="#000007"/><stop offset="0.0705" stop-color="#001cb2"/><stop offset="0.0940" stop-color="#005ef0"/><stop offset="0.1234" stop-color="#009eec"/><stop offset="0.2056" stop-color="#00d4e8"/><stop offset="0.2703" stop-color="#00dab0"/><stop offset="0.2938" stop-color="#00dd8d"/><stop offset="0.3408" stop-color="#1ee114"/><stop offset="0.3643" stop-color="#42e40e"/><stop offset="0.3702" stop-color="#f53608"/><stop offset="0.3760" stop-color="#ffffff"/><stop offset="0.4054" stop-color="#ffffff"/><stop offset="0.4113" stop-color="#ff5d00"/><stop offset="0.4348" stop-color="#ffb100"/><stop offset="0.4818" stop-color="#f4f000"/><stop offset="0.5347" stop-color="#a7ec00"/><stop offset="0.5758" stop-color="#85ea03"/><stop offset="0.9988" stop-color="#84e903"/></linearGradient>
<linearGradient id="g105" gradientUnits="userSpaceOnUse" x1="74.0" y1="0" x2="244.2" y2="0"><stop offset="0.0000" stop-color="#000000"/><stop offset="0.0940" stop-color="#000000"/><stop offset="0.1058" stop-color="#000039"/><stop offset="0.1175" stop-color="#0021b7"/><stop offset="0.1410" stop-color="#0067ef"/><stop offset="0.1763" stop-color="#00afea"/><stop offset="0.2233" stop-color="#00d4e6"/><stop offset="0.2703" stop-color="#00d9b4"/><stop offset="0.2938" stop-color="#00dd8c"/><stop offset="0.3349" stop-color="#1be11e"/><stop offset="0.3643" stop-color="#4ce50c"/><stop offset="0.3702" stop-color="#f53608"/><stop offset="0.3760" stop-color="#ffffff"/><stop offset="0.4172" stop-color="#ffffff"/><stop offset="0.4230" stop-color="#ff4600"/><stop offset="0.4465" stop-color="#ffa600"/><stop offset="0.4994" stop-color="#f5f000"/><stop offset="0.5523" stop-color="#aaec00"/><stop offset="0.5934" stop-color="#8cea02"/><stop offset="0.9988" stop-color="#8bea02"/></linearGradient>
<linearGradient id="g106" gradientUnits="userSpaceOnUse" x1="74.0" y1="0" x2="244.2" y2="0"><stop offset="0.0000" stop-color="#000000"/><stop offset="0.0529" stop-color="#000000"/><stop offset="0.0999" stop-color="#0012a2"/><stop offset="0.1528" stop-color="#003fd5"/><stop offset="0.2115" stop-color="#005df0"/><stop offset="0.2938" stop-color="#0092ec"/><stop offset="0.3114" stop-color="#00d1e8"/><stop offset="0.3290" stop-color="#01de7e"/><stop offset="0.3467" stop-color="#2ae212"/><stop offset="0.3702" stop-color="#59e60a"/><stop offset="0.3760" stop-color="#f53608"/><stop offset="0.3819" stop-color="#ffffff"/><stop offset="0.4348" stop-color="#ffffff"/><stop offset="0.4407" stop-color="#ff5400"/><stop offset="0.4700" stop-color="#ffae00"/><stop offset="0.5229" stop-color="#f1f000"/><stop offset="0.5699" stop-color="#aeec00"/><stop offset="0.6052" stop-color="#94eb00"/><stop offset="0.9988" stop-color="#92eb01"/></linearGradient>
<linearGradient id="g107" gradientUnits="userSpaceOnUse" x1="74.0" y1="0" x2="244.2" y2="0"><stop offset="0.0000" stop-color="#000000"/><stop offset="0.0470" stop-color="#000000"/><stop offset="0.0646" stop-color="#000035"/><stop offset="0.0881" stop-color="#0012a1"/><stop offset="0.1645" stop-color="#005bf0"/><stop offset="0.2820" stop-color="#00a5eb"/><stop offset="0.3055" stop-color="#00cbe9"/><stop offset="0.3290" stop-color="#00de84"/><stop offset="0.3467" stop-color="#1ce11b"/><stop offset="0.3702" stop-color="#4ee50c"/><stop offset="0.3760" stop-color="#f53608"/><stop offset="0.3819" stop-color="#ffffff"/><stop offset="0.4348" stop-color="#ffffff"/><stop offset="0.4407" stop-color="#ff5000"/><stop offset="0.4524" stop-color="#ff9200"/><stop offset="0.4642" stop-color="#ffb600"/><stop offset="0.5112" stop-color="#f5ef00"/><stop offset="0.5699" stop-color="#a8ec00"/><stop offset="0.6110" stop-color="#8cea02"/><stop offset="0.9988" stop-color="#8cea02"/></linearGradient>
<linearGradient id="g108" gradientUnits="userSpaceOnUse" x1="74.0" y1="0" x2="244.2" y2="0"><stop offset="0.0000" stop-color="#000000"/><stop offset="0.0411" stop-color="#000000"/><stop offset="0.0529" stop-color="#000014"/><stop offset="0.0646" stop-color="#000246"/><stop offset="0.0823" stop-color="#0028be"/><stop offset="0.1058" stop-color="#005df0"/><stop offset="0.1880" stop-color="#00d2e8"/><stop offset="0.2820" stop-color="#00dc9a"/><stop offset="0.3408" stop-color="#1de118"/><stop offset="0.3760" stop-color="#57e60a"/><stop offset="0.3819" stop-color="#f53608"/><stop offset="0.3878" stop-color="#ffffff"/><stop offset="0.4348" stop-color="#ffffff"/><stop offset="0.4407" stop-color="#ff5500"/><stop offset="0.4700" stop-color="#ffb000"/><stop offset="0.5229" stop-color="#eff000"/><stop offset="0.6052" stop-color="#92eb01"/><stop offset="0.9988" stop-color="#90eb01"/></linearGradient>
<linearGradient id="g109" gradientUnits="userSpaceOnUse" x1="74.0" y1="0" x2="244.2" y2="0"><stop offset="0.0000" stop-color="#000000"/><stop offset="0.0764" stop-color="#00000d"/><stop offset="0.0881" stop-color="#000034"/><stop offset="0.1058" stop-color="#0014aa"/><stop offset="0.1234" stop-color="#0048de"/><stop offset="0.1410" stop-color="#005ff0"/><stop offset="0.2115" stop-color="#00d4e7"/><stop offset="0.2820" stop-color="#00dba5"/><stop offset="0.3467" stop-color="#1ee115"/><stop offset="0.3760" stop-color="#51e50b"/><stop offset="0.3819" stop-color="#f53608"/><stop offset="0.3878" stop-color="#ffffff"/><stop offset="0.4348" stop-color="#ffffff"/><stop offset="0.4407" stop-color="#ff5200"/><stop offset="0.4642" stop-color="#ffad00"/><stop offset="0.5170" stop-color="#f3f000"/><stop offset="0.6052" stop-color="#8fea01"/><stop offset="0.9988" stop-color="#8dea01"/></linearGradient>
<linearGradient id="g110" gradientUnits="userSpaceOnUse" x1="74.0" y1="0" x2="244.2" y2="0"><stop offset="0.0000" stop-color="#000000"/><stop offset="0.0764" stop-color="#000000"/><stop offset="0.0999" stop-color="#000c7e"/><stop offset="0.1175" stop-color="#0018ae"/><stop offset="0.1469" stop-color="#003dd3"/><stop offset="0.2350" stop-color="#005df0"/><stop offset="0.3055" stop-color="#0091ec"/><stop offset="0.3231" stop-color="#00d1e8"/><stop offset="0.3408" stop-color="#00de80"/><stop offset="0.3584" stop-color="#23e113"/><stop offset="0.3819" stop-color="#4fe50c"/><stop offset="0.3878" stop-color="#f53608"/><stop offset="0.3937" stop-color="#ffffff"/><stop offset="0.4289" stop-color="#ffffff"/><stop offset="0.4348" stop-color="#ff5400"/><stop offset="0.4642" stop-color="#ffa900"/><stop offset="0.5170" stop-color="#f2f000"/><stop offset="0.5640" stop-color="#abec00"/><stop offset="0.5993" stop-color="#8fea01"/><stop offset="0.9988" stop-color="#8bea02"/></linearGradient>
<linearGradient id="g111" gradientUnits="userSpaceOnUse" x1="74.0" y1="0" x2="244.2" y2="0"><stop offset="0.0000" stop-color="#000000"/><stop offset="0.0470" stop-color="#00000b"/><stop offset="0.0588" stop-color="#00003f"/><stop offset="0.0705" stop-color="#00129e"/><stop offset="0.1175" stop-color="#005ef0"/><stop offset="0.1939" stop-color="#0072ee"/><stop offset="0.3114" stop-color="#00d2e8"/><stop offset="0.3231" stop-color="#00d7cc"/><stop offset="0.3408" stop-color="#02de7c"/><stop offset="0.3584" stop-color="#1be11e"/><stop offset="0.3819" stop-color="#48e40d"/><stop offset="0.3878" stop-color="#f53608"/><stop offset="0.3937" stop-color="#ffffff"/><stop offset="0.4583" stop-color="#ffffff"/><stop offset="0.4642" stop-color="#ff6200"/><stop offset="0.4700" stop-color="#ff9c00"/><stop offset="0.4818" stop-color="#fccd00"/><stop offset="0.5229" stop-color="#f5ef00"/><stop offset="0.6287" stop-color="#8aea02"/><stop offset="0.9988" stop-color="#88ea02"/></linearGradient>
<linearGradient id="g112" gradientUnits="userSpaceOnUse" x1="74.0" y1="0" x2="244.2" y2="0"><stop offset="0.0000" stop-color="#000000"/><stop offset="0.0646" stop-color="#000000"/><stop offset="0.0764" stop-color="#00034c"/><stop offset="0.0823" stop-color="#00119b"/><stop offset="0.0881" stop-color="#0034ca"/><stop offset="0.0999" stop-color="#005ef0"/><stop offset="0.1351" stop-color="#00b7ea"/><stop offset="0.2174" stop-color="#00d5dc"/><stop offset="0.2996" stop-color="#00dd90"/><stop offset="0.3525" stop-color="#1ee114"/><stop offset="0.3878" stop-color="#5be60a"/><stop offset="0.3937" stop-color="#f53608"/><stop offset="0.3995" stop-color="#ffffff"/><stop offset="0.4524" stop-color="#ffffff"/><stop offset="0.4583" stop-color="#ff7100"/><stop offset="0.4642" stop-color="#ff9c00"/><stop offset="0.4759" stop-color="#fec500"/><stop offset="0.5288" stop-color="#f2f000"/><stop offset="0.6228" stop-color="#93eb00"/><stop offset="0.9988" stop-color="#93eb01"/></linearGradient>
<linearGradient id="g113" gradientUnits="userSpaceOnUse" x1="74.0" y1="0" x2="244.2" y2="0"><stop offset="0.0000" stop-color="#000000"/><stop offset="0.0411" stop-color="#000000"/><stop offset="0.0529" stop-color="#00002a"/><stop offset="0.0705" stop-color="#0019af"/><stop offset="0.1058" stop-color="#005df0"/><stop offset="0.1880" stop-color="#007bee"/><stop offset="0.3055" stop-color="#00cfe8"/><stop offset="0.3231" stop-color="#00d6d2"/><stop offset="0.3467" stop-color="#05de70"/><stop offset="0.3643" stop-color="#20e114"/><stop offset="0.3878" stop-color="#56e60b"/><stop offset="0.3937" stop-color="#f53608"/><stop offset="0.3995" stop-color="#ffffff"/><stop offset="0.4583" stop-color="#ffffff"/><stop offset="0.4642" stop-color="#ff4a00"/><stop offset="0.4877" stop-color="#ffa900"/><stop offset="0.5405" stop-color="#f5ef00"/><stop offset="0.5993" stop-color="#a8ec00"/><stop offset="0.6345" stop-color="#92eb01"/><stop offset="0.9988" stop-color="#91eb01"/></linearGradient>
<linearGradient id="g114" gradientUnits="userSpaceOnUse" x1="74.0" y1="0" x2="244.2" y2="0"><stop offset="0.0000" stop-color="#000000"/><stop offset="0.0705" stop-color="#000000"/><stop offset="0.0764" stop-color="#000015"/><stop offset="0.0940" stop-color="#0021b7"/><stop offset="0.1175" stop-color="#005cf0"/><stop offset="0.1469" stop-color="#0096ec"/><stop offset="0.1880" stop-color="#00a3eb"/><stop offset="0.2350" stop-color="#00d0e8"/><stop offset="0.2938" stop-color="#00d9b9"/><stop offset="0.3231" stop-color="#00dd8a"/><stop offset="0.3702" stop-color="#1de119"/><stop offset="0.3937" stop-color="#39e30f"/><stop offset="0.3995" stop-color="#f53608"/><stop offset="0.4054" stop-color="#ffffff"/><stop offset="0.4465" stop-color="#ffffff"/><stop offset="0.4524" stop-color="#ff8800"/><stop offset="0.4583" stop-color="#ffb300"/><stop offset="0.4700" stop-color="#fad800"/><stop offset="0.4994" stop-color="#f5ef00"/><stop offset="0.6169" stop-color="#80e904"/><stop offset="0.9988" stop-color="#7fe904"/></linearGradient>
<linearGradient id="g115" gradientUnits="userSpaceOnUse" x1="74.0" y1="0" x2="244.2" y2="0"><stop offset="0.0000" stop-color="#000000"/><stop offset="0.0764" stop-color="#000003"/><stop offset="0.0940" stop-color="#000248"/><stop offset="0.1116" stop-color="#0017ad"/><stop offset="0.1586" stop-color="#005ef0"/><stop offset="0.2291" stop-color="#00d2e8"/><stop offset="0.2996" stop-color="#00daae"/><stop offset="0.3702" stop-color="#1de117"/><stop offset="0.3937" stop-color="#40e40e"/><stop offset="0.3995" stop-color="#f53608"/><stop offset="0.4054" stop-color="#f53608"/><stop offset="0.4113" stop-color="#ffffff"/><stop offset="0.4524" stop-color="#ffffff"/><stop offset="0.4583" stop-color="#ff5b00"/><stop offset="0.4642" stop-color="#ff9900"/><stop offset="0.4759" stop-color="#fcce00"/><stop offset="0.5170" stop-color="#f3f000"/><stop offset="0.6287" stop-color="#84ea03"/><stop offset="0.9988" stop-color="#84e903"/></linearGradient>
<linearGradient id="g116" gradientUnits="userSpaceOnUse" x1="74.0" y1="0" x2="244.2" y2="0"><stop offset="0.0000" stop-color="#000000"/><stop offset="0.0470" stop-color="#000000"/><stop offset="0.0705" stop-color="#000037"/><stop offset="0.0940" stop-color="#0014a8"/><stop offset="0.1586" stop-color="#005ef0"/><stop offset="0.3055" stop-color="#00d1e8"/><stop offset="0.3349" stop-color="#00d8c0"/><stop offset="0.3525" stop-color="#01de80"/><stop offset="0.3760" stop-color="#1fe114"/><stop offset="0.3995" stop-color="#49e50d"/><stop offset="0.4054" stop-color="#f53608"/><stop offset="0.4113" stop-color="#ffffff"/><stop offset="0.4407" stop-color="#ffffff"/><stop offset="0.4465" stop-color="#ff4600"/><stop offset="0.4759" stop-color="#ffa700"/><stop offset="0.5288" stop-color="#f3f000"/><stop offset="0.5758" stop-color="#abec00"/><stop offset="0.6169" stop-color="#8bea02"/><stop offset="0.9988" stop-color="#88ea02"/></linearGradient>
<linearGradient id="g117" gradientUnits="userSpaceOnUse" x1="74.0" y1="0" x2="244.2" y2="0"><stop offset="0.0000" stop-color="#000000"/><stop offset="0.1116" stop-color="#000000"/><stop offset="0.1469" stop-color="#0015ab"/><stop offset="0.1939" stop-color="#004ee4"/><stop offset="0.2350" stop-color="#005bf0"/><stop offset="0.3114" stop-color="#0091ec"/><stop offset="0.3408" stop-color="#00cee8"/><stop offset="0.3525" stop-color="#00d9b2"/><stop offset="0.3760" stop-color="#1de116"/><stop offset="0.3878" stop-color="#51e50c"/><stop offset="0.4054" stop-color="#62e709"/><stop offset="0.4113" stop-color="#f53608"/><stop offset="0.4172" stop-color="#ffffff"/><stop offset="0.4700" stop-color="#ffffff"/><stop offset="0.4759" stop-color="#ff5e00"/><stop offset="0.4877" stop-color="#ffa300"/><stop offset="0.4994" stop-color="#fec200"/><stop offset="0.5523" stop-color="#f2f000"/><stop offset="0.6404" stop-color="#98eb00"/><stop offset="0.9988" stop-color="#97eb00"/></linearGradient>
<linearGradient id="g118" gradientUnits="userSpaceOnUse" x1="74.0" y1="0" x2="244.2" y2="0"><stop offset="0.0000" stop-color="#000000"/><stop offset="0.0470" stop-color="#000001"/><stop offset="0.0529" stop-color="#000016"/><stop offset="0.0588" stop-color="#000249"/><stop offset="0.0646" stop-color="#001198"/><stop offset="0.0705" stop-color="#0030c6"/><stop offset="0.0881" stop-color="#0065ef"/><stop offset="0.1175" stop-color="#00aceb"/><stop offset="0.2174" stop-color="#00d4e4"/><stop offset="0.3114" stop-color="#00dc9b"/><stop offset="0.3702" stop-color="#1be11e"/><stop offset="0.4054" stop-color="#50e50c"/><stop offset="0.4113" stop-color="#f53608"/><stop offset="0.4172" stop-color="#ffffff"/><stop offset="0.4759" stop-color="#ffffff"/><stop offset="0.4818" stop-color="#ff5800"/><stop offset="0.5112" stop-color="#ffad00"/><stop offset="0.5640" stop-color="#eff000"/><stop offset="0.6110" stop-color="#aaec00"/><stop offset="0.6463" stop-color="#8fea01"/><stop offset="0.9988" stop-color="#8cea02"/></linearGradient>
<linearGradient id="g119" gradientUnits="userSpaceOnUse" x1="74.0" y1="0" x2="244.2" y2="0"><stop offset="0.0000" stop-color="#000000"/><stop offset="0.0470" stop-color="#000000"/><stop offset="0.0529" stop-color="#000014"/><stop offset="0.0588" stop-color="#000244"/><stop offset="0.0646" stop-color="#001093"/><stop offset="0.0705" stop-color="#002ec4"/><stop offset="0.0881" stop-color="#0064ef"/><stop offset="0.1175" stop-color="#00abeb"/><stop offset="0.2174" stop-color="#00d4e6"/><stop offset="0.3173" stop-color="#00dc97"/><stop offset="0.3760" stop-color="#1de118"/><stop offset="0.4113" stop-color="#50e50c"/><stop offset="0.4172" stop-color="#f53608"/><stop offset="0.4230" stop-color="#ffffff"/><stop offset="0.4524" stop-color="#ffffff"/><stop offset="0.4583" stop-color="#ff5000"/><stop offset="0.4877" stop-color="#ffa700"/><stop offset="0.5405" stop-color="#f4f000"/><stop offset="0.5875" stop-color="#acec00"/><stop offset="0.6287" stop-color="#8eea01"/><stop offset="0.9988" stop-color="#8cea02"/></linearGradient>
<linearGradient id="g120" gradientUnits="userSpaceOnUse" x1="74.0" y1="0" x2="244.2" y2="0"><stop offset="0.0000" stop-color="#000000"/><stop offset="0.0529" stop-color="#00000b"/><stop offset="0.0588" stop-color="#000038"/><stop offset="0.0705" stop-color="#0027bd"/><stop offset="0.0881" stop-color="#005ef0"/><stop offset="0.1175" stop-color="#00a5eb"/><stop offset="0.1763" stop-color="#00b1ea"/><stop offset="0.2233" stop-color="#00d4e7"/><stop offset="0.3231" stop-color="#00dc97"/><stop offset="0.3819" stop-color="#1de116"/><stop offset="0.4113" stop-color="#49e50d"/><stop offset="0.4172" stop-color="#f53608"/><stop offset="0.4230" stop-color="#ffffff"/><stop offset="0.4700" stop-color="#ffffff"/><stop offset="0.4759" stop-color="#ff4c00"/><stop offset="0.4994" stop-color="#ffa500"/><stop offset="0.5523" stop-color="#f5f000"/><stop offset="0.6052" stop-color="#a8ec00"/><stop offset="0.6463" stop-color="#8aea02"/><stop offset="0.9988" stop-color="#89ea02"/></linearGradient>
<linearGradient id="g121" gradientUnits="userSpaceOnUse" x1="74.0" y1="0" x2="244.2" y2="0"><stop offset="0.0000" stop-color="#000000"/><stop offset="0.0764" stop-color="#000000"/><stop offset="0.0881" stop-color="#00001a"/><stop offset="0.1116" stop-color="#000e89"/><stop offset="0.1410" stop-color="#002bc1"/><stop offset="0.2644" stop-color="#005bf0"/><stop offset="0.3349" stop-color="#008aed"/><stop offset="0.3467" stop-color="#009bec"/><stop offset="0.3584" stop-color="#00cee8"/><stop offset="0.3760" stop-color="#00de86"/><stop offset="0.3937" stop-color="#1de119"/><stop offset="0.4172" stop-color="#42e40e"/><stop offset="0.4230" stop-color="#f53608"/><stop offset="0.4289" stop-color="#ffffff"/><stop offset="0.4818" stop-color="#ffffff"/><stop offset="0.4877" stop-color="#ff5c00"/><stop offset="0.5170" stop-color="#ffb500"/><stop offset="0.5640" stop-color="#f0f000"/><stop offset="0.6169" stop-color="#a2ec00"/><stop offset="0.6522" stop-color="#86ea03"/><stop offset="0.9988" stop-color="#84e903"/></linearGradient>
<linearGradient id="g122" gradientUnits="userSpaceOnUse" x1="74.0" y1="0" x2="244.2" y2="0"><stop offset="0.0000" stop-color="#000000"/><stop offset="0.0999" stop-color="#000000"/><stop offset="0.1058" stop-color="#000027"/><stop offset="0.1175" stop-color="#0018ae"/><stop offset="0.1410" stop-color="#005df0"/><stop offset="0.1645" stop-color="#0091ec"/><stop offset="0.2115" stop-color="#009dec"/><stop offset="0.2703" stop-color="#00d4e6"/><stop offset="0.3290" stop-color="#00daac"/><stop offset="0.3995" stop-color="#1fe114"/><stop offset="0.4172" stop-color="#35e310"/><stop offset="0.4230" stop-color="#f53608"/><stop offset="0.4289" stop-color="#ffffff"/><stop offset="0.4642" stop-color="#ffffff"/><stop offset="0.4700" stop-color="#ff6c00"/><stop offset="0.4935" stop-color="#fec100"/><stop offset="0.5347" stop-color="#f0f000"/><stop offset="0.5934" stop-color="#9eeb00"/><stop offset="0.6345" stop-color="#7ee904"/><stop offset="0.9988" stop-color="#7de904"/></linearGradient>
<linearGradient id="g123" gradientUnits="userSpaceOnUse" x1="74.0" y1="0" x2="244.2" y2="0"><stop offset="0.0000" stop-color="#000000"/><stop offset="0.1351" stop-color="#000004"/><stop offset="0.1469" stop-color="#000023"/><stop offset="0.1645" stop-color="#000b76"/><stop offset="0.1939" stop-color="#0020b6"/><stop offset="0.3114" stop-color="#005cf0"/><stop offset="0.3525" stop-color="#008ced"/><stop offset="0.3643" stop-color="#00bee9"/><stop offset="0.3702" stop-color="#00d5dc"/><stop offset="0.3995" stop-color="#18e028"/><stop offset="0.4054" stop-color="#1fe114"/><stop offset="0.4230" stop-color="#34e310"/><stop offset="0.4289" stop-color="#f53608"/><stop offset="0.4348" stop-color="#ffffff"/><stop offset="0.4642" stop-color="#ffffff"/><stop offset="0.4700" stop-color="#ff6c00"/><stop offset="0.4759" stop-color="#ffa500"/><stop offset="0.4877" stop-color="#fbd400"/><stop offset="0.5170" stop-color="#f5f000"/><stop offset="0.6345" stop-color="#7de904"/><stop offset="0.9988" stop-color="#7ce904"/></linearGradient>
<linearGradient id="g124" gradientUnits="userSpaceOnUse" x1="74.0" y1="0" x2="244.2" y2="0"><stop offset="0.0000" stop-color="#000000"/><stop offset="0.1234" stop-color="#000000"/><stop offset="0.1293" stop-color="#000027"/><stop offset="0.1410" stop-color="#0019af"/><stop offset="0.1645" stop-color="#005ff0"/><stop offset="0.1880" stop-color="#0094ec"/><stop offset="0.2350" stop-color="#00a4eb"/><stop offset="0.2820" stop-color="#00d4e6"/><stop offset="0.3349" stop-color="#00daad"/><stop offset="0.4054" stop-color="#21e114"/><stop offset="0.4230" stop-color="#37e310"/><stop offset="0.4289" stop-color="#f53608"/><stop offset="0.4348" stop-color="#f53608"/><stop offset="0.4407" stop-color="#ffffff"/><stop offset="0.4759" stop-color="#ffffff"/><stop offset="0.4818" stop-color="#ff6500"/><stop offset="0.5053" stop-color="#ffbc00"/><stop offset="0.5464" stop-color="#f4f000"/><stop offset="0.6052" stop-color="#a1ec00"/><stop offset="0.6463" stop-color="#80e904"/><stop offset="0.9988" stop-color="#7ee904"/></linearGradient>
<linearGradient id="g125" gradientUnits="userSpaceOnUse" x1="74.0" y1="0" x2="244.2" y2="0"><stop offset="0.0000" stop-color="#000000"/><stop offset="0.1058" stop-color="#000000"/><stop offset="0.1116" stop-color="#000018"/><stop offset="0.1234" stop-color="#00129f"/><stop offset="0.1528" stop-color="#0067ef"/><stop offset="0.1704" stop-color="#008ded"/><stop offset="0.2233" stop-color="#009dec"/><stop offset="0.2820" stop-color="#00d4e5"/><stop offset="0.3349" stop-color="#00d9b2"/><stop offset="0.4113" stop-color="#21e113"/><stop offset="0.4289" stop-color="#34e310"/><stop offset="0.4348" stop-color="#f53608"/><stop offset="0.4407" stop-color="#ffffff"/><stop offset="0.4818" stop-color="#ffffff"/><stop offset="0.4877" stop-color="#ff5c00"/><stop offset="0.5112" stop-color="#ffad00"/><stop offset="0.5582" stop-color="#f4f000"/><stop offset="0.6110" stop-color="#a3ec00"/><stop offset="0.6522" stop-color="#7ee904"/><stop offset="0.9988" stop-color="#7ce904"/></linearGradient>
<linearGradient id="g126" gradientUnits="userSpaceOnUse" x1="74.0" y1="0" x2="244.2" y2="0"><stop offset="0.0000" stop-color="#000000"/><stop offset="0.0881" stop-color="#000000"/><stop offset="0.0940" stop-color="#000021"/><stop offset="0.1058" stop-color="#0016ac"/><stop offset="0.1293" stop-color="#0062ef"/><stop offset="0.1528" stop-color="#009bec"/><stop offset="0.2115" stop-color="#00abeb"/><stop offset="0.2585" stop-color="#00d4e8"/><stop offset="0.3349" stop-color="#00daa7"/><stop offset="0.4054" stop-color="#1fe114"/><stop offset="0.4289" stop-color="#40e40e"/><stop offset="0.4348" stop-color="#f53608"/><stop offset="0.4407" stop-color="#f53608"/><stop offset="0.4465" stop-color="#ffffff"/><stop offset="0.4759" stop-color="#ffffff"/><stop offset="0.4818" stop-color="#ff4c00"/><stop offset="0.4935" stop-color="#ff9c00"/><stop offset="0.5053" stop-color="#fec300"/><stop offset="0.5464" stop-color="#f4f000"/><stop offset="0.6522" stop-color="#85ea03"/><stop offset="0.9988" stop-color="#84ea03"/></linearGradient>
<linearGradient id="g127" gradientUnits="userSpaceOnUse" x1="74.0" y1="0" x2="244.2" y2="0"><stop offset="0.0000" stop-color="#000000"/><stop offset="0.2703" stop-color="#000001"/><stop offset="0.2820" stop-color="#00002d"/><stop offset="0.2996" stop-color="#001096"/><stop offset="0.3408" stop-color="#005bf0"/><stop offset="0.3643" stop-color="#0096ec"/><stop offset="0.3760" stop-color="#00cde8"/><stop offset="0.4113" stop-color="#19e126"/><stop offset="0.4348" stop-color="#39e30f"/><stop offset="0.4407" stop-color="#f53608"/><stop offset="0.4465" stop-color="#ffffff"/><stop offset="0.4935" stop-color="#ffffff"/><stop offset="0.4994" stop-color="#ff5b00"/><stop offset="0.5229" stop-color="#ffba00"/><stop offset="0.5640" stop-color="#f5ef00"/><stop offset="0.6639" stop-color="#81e903"/><stop offset="0.9988" stop-color="#7fe904"/></linearGradient>
<linearGradient id="g128" gradientUnits="userSpaceOnUse" x1="74.0" y1="0" x2="244.2" y2="0"><stop offset="0.0000" stop-color="#000000"/><stop offset="0.1058" stop-color="#000009"/><stop offset="0.1116" stop-color="#000030"/><stop offset="0.1234" stop-color="#0022b8"/><stop offset="0.1410" stop-color="#005ef0"/><stop offset="0.1704" stop-color="#00a9eb"/><stop offset="0.2644" stop-color="#00d5e3"/><stop offset="0.3408" stop-color="#00db9e"/><stop offset="0.4054" stop-color="#1ee114"/><stop offset="0.4407" stop-color="#50e50c"/><stop offset="0.4465" stop-color="#f53608"/><stop offset="0.4524" stop-color="#ffffff"/><stop offset="0.4994" stop-color="#ffffff"/><stop offset="0.5053" stop-color="#ff4e00"/><stop offset="0.5347" stop-color="#ffa600"/><stop offset="0.5875" stop-color="#f5f000"/><stop offset="0.6345" stop-color="#adec00"/><stop offset="0.6698" stop-color="#90ea01"/><stop offset="0.9988" stop-color="#8cea02"/></linearGradient>
<linearGradient id="g129" gradientUnits="userSpaceOnUse" x1="74.0" y1="0" x2="244.2" y2="0"><stop offset="0.0000" stop-color="#000000"/><stop offset="0.1763" stop-color="#000000"/><stop offset="0.1821" stop-color="#000022"/><stop offset="0.1939" stop-color="#0017ad"/><stop offset="0.2174" stop-color="#0060f0"/><stop offset="0.2409" stop-color="#0098ec"/><stop offset="0.3173" stop-color="#00d5e2"/><stop offset="0.3467" stop-color="#00d9ba"/><stop offset="0.4172" stop-color="#1ee116"/><stop offset="0.4407" stop-color="#3be30f"/><stop offset="0.4465" stop-color="#f53608"/><stop offset="0.4524" stop-color="#ffffff"/><stop offset="0.5053" stop-color="#ffffff"/><stop offset="0.5112" stop-color="#ff6400"/><stop offset="0.5170" stop-color="#ff9900"/><stop offset="0.5288" stop-color="#fccb00"/><stop offset="0.5640" stop-color="#f5ef00"/><stop offset="0.6757" stop-color="#82e903"/><stop offset="0.9988" stop-color="#80e904"/></linearGradient>
<linearGradient id="g130" gradientUnits="userSpaceOnUse" x1="74.0" y1="0" x2="244.2" y2="0"><stop offset="0.0000" stop-color="#000000"/><stop offset="0.0646" stop-color="#000000"/><stop offset="0.0705" stop-color="#000014"/><stop offset="0.0764" stop-color="#000245"/><stop offset="0.0823" stop-color="#001094"/><stop offset="0.0881" stop-color="#002fc5"/><stop offset="0.1058" stop-color="#0064ef"/><stop offset="0.1351" stop-color="#00abeb"/><stop offset="0.2409" stop-color="#00d4e8"/><stop offset="0.3467" stop-color="#00dc98"/><stop offset="0.4113" stop-color="#1ee116"/><stop offset="0.4465" stop-color="#4fe50c"/><stop offset="0.4524" stop-color="#f53608"/><stop offset="0.4583" stop-color="#ffffff"/><stop offset="0.5112" stop-color="#ffffff"/><stop offset="0.5170" stop-color="#ff5000"/><stop offset="0.5464" stop-color="#ffaa00"/><stop offset="0.5993" stop-color="#f2f000"/><stop offset="0.6463" stop-color="#abec00"/><stop offset="0.6816" stop-color="#8fea01"/><stop offset="0.9988" stop-color="#8cea02"/></linearGradient>
<linearGradient id="g131" gradientUnits="userSpaceOnUse" x1="74.0" y1="0" x2="244.2" y2="0"><stop offset="0.0000" stop-color="#000000"/><stop offset="0.1293" stop-color="#000000"/><stop offset="0.1410" stop-color="#000247"/><stop offset="0.1469" stop-color="#001096"/><stop offset="0.1528" stop-color="#0031c7"/><stop offset="0.1645" stop-color="#005bf0"/><stop offset="0.1998" stop-color="#00b4ea"/><stop offset="0.2879" stop-color="#00d6d9"/><stop offset="0.3525" stop-color="#00dc97"/><stop offset="0.4113" stop-color="#1de116"/><stop offset="0.4524" stop-color="#58e60a"/><stop offset="0.4583" stop-color="#f53608"/><stop offset="0.4642" stop-color="#ffffff"/><stop offset="0.5229" stop-color="#ffffff"/><stop offset="0.5288" stop-color="#ff4900"/><stop offset="0.5523" stop-color="#ff8600"/><stop offset="0.6228" stop-color="#f5f000"/><stop offset="0.6639" stop-color="#b4ed00"/><stop offset="0.6992" stop-color="#99eb00"/><stop offset="0.9988" stop-color="#91eb01"/></linearGradient>
<linearGradient id="g132" gradientUnits="userSpaceOnUse" x1="74.0" y1="0" x2="244.2" y2="0"><stop offset="0.0000" stop-color="#000000"/><stop offset="0.1528" stop-color="#000000"/><stop offset="0.1821" stop-color="#00129f"/><stop offset="0.1880" stop-color="#0018ae"/><stop offset="0.2291" stop-color="#004be1"/><stop offset="0.2879" stop-color="#005bf0"/><stop offset="0.3525" stop-color="#0087ed"/><stop offset="0.3819" stop-color="#00afea"/><stop offset="0.3937" stop-color="#00d5e2"/><stop offset="0.4230" stop-color="#19e026"/><stop offset="0.4348" stop-color="#4ce50c"/><stop offset="0.4524" stop-color="#65e708"/><stop offset="0.4583" stop-color="#f53608"/><stop offset="0.4642" stop-color="#ffffff"/><stop offset="0.5229" stop-color="#ffffff"/><stop offset="0.5288" stop-color="#ff5700"/><stop offset="0.5405" stop-color="#ff9b00"/><stop offset="0.5523" stop-color="#ffbc00"/><stop offset="0.6052" stop-color="#f5f000"/><stop offset="0.6933" stop-color="#9aeb00"/><stop offset="0.9988" stop-color="#99eb00"/></linearGradient>
<linearGradient id="g133" gradientUnits="userSpaceOnUse" x1="74.0" y1="0" x2="244.2" y2="0"><stop offset="0.0000" stop-color="#000000"/><stop offset="0.1058" stop-color="#000000"/><stop offset="0.1234" stop-color="#000142"/><stop offset="0.1410" stop-color="#0013a7"/><stop offset="0.1645" stop-color="#0034ca"/><stop offset="0.2644" stop-color="#005bf0"/><stop offset="0.3525" stop-color="#008ded"/><stop offset="0.3937" stop-color="#00cde8"/><stop offset="0.4172" stop-color="#05df6f"/><stop offset="0.4289" stop-color="#1ae121"/><stop offset="0.4348" stop-color="#31e311"/><stop offset="0.4583" stop-color="#59e60a"/><stop offset="0.4642" stop-color="#f53608"/><stop offset="0.4700" stop-color="#ffffff"/><stop offset="0.5053" stop-color="#ffffff"/><stop offset="0.5112" stop-color="#ff5400"/><stop offset="0.5347" stop-color="#ffa900"/><stop offset="0.5875" stop-color="#f5ef00"/><stop offset="0.6757" stop-color="#93eb00"/><stop offset="0.9988" stop-color="#92eb01"/></linearGradient>
<linearGradient id="g134" gradientUnits="userSpaceOnUse" x1="74.0" y1="0" x2="244.2" y2="0"><stop offset="0.0000" stop-color="#000000"/><stop offset="0.1058" stop-color="#000000"/><stop offset="0.1175" stop-color="#000028"/><stop offset="0.1351" stop-color="#0022b8"/><stop offset="0.1586" stop-color="#005af0"/><stop offset="0.2056" stop-color="#00aaeb"/><stop offset="0.2761" stop-color="#00d4e7"/><stop offset="0.3467" stop-color="#00daaf"/><stop offset="0.3760" stop-color="#00de86"/><stop offset="0.4289" stop-color="#1ee114"/><stop offset="0.4583" stop-color="#48e50d"/><stop offset="0.4642" stop-color="#f53608"/><stop offset="0.4700" stop-color="#f53608"/><stop offset="0.4759" stop-color="#ffffff"/><stop offset="0.5170" stop-color="#ffffff"/><stop offset="0.5229" stop-color="#ff6600"/><stop offset="0.5464" stop-color="#ffbc00"/><stop offset="0.5934" stop-color="#f1f000"/><stop offset="0.6874" stop-color="#8aea02"/><stop offset="0.9988" stop-color="#89ea02"/></linearGradient>
<linearGradient id="g135" gradientUnits="userSpaceOnUse" x1="74.0" y1="0" x2="244.2" y2="0"><stop offset="0.0000" stop-color="#000000"/><stop offset="0.2174" stop-color="#000000"/><stop offset="0.2291" stop-color="#000034"/><stop offset="0.2468" stop-color="#0022b8"/><stop offset="0.2761" stop-color="#0060f0"/><stop offset="0.3349" stop-color="#00d4e7"/><stop offset="0.3643" stop-color="#00d8bd"/><stop offset="0.4289" stop-color="#1ce11d"/><stop offset="0.4642" stop-color="#49e50d"/><stop offset="0.4700" stop-color="#f53608"/><stop offset="0.4759" stop-color="#ffffff"/><stop offset="0.5112" stop-color="#ffffff"/><stop offset="0.5170" stop-color="#fd4401"/><stop offset="0.5464" stop-color="#ff9400"/><stop offset="0.6110" stop-color="#eff000"/><stop offset="0.6522" stop-color="#adec00"/><stop offset="0.6874" stop-color="#8fea01"/><stop offset="0.9988" stop-color="#88ea02"/></linearGradient>
<linearGradient id="g136" gradientUnits="userSpaceOnUse" x1="74.0" y1="0" x2="244.2" y2="0"><stop offset="0.0000" stop-color="#000000"/><stop offset="0.0588" stop-color="#000000"/><stop offset="0.0705" stop-color="#000037"/><stop offset="0.0823" stop-color="#00119c"/><stop offset="0.0881" stop-color="#0023b9"/><stop offset="0.1175" stop-color="#005cf0"/><stop offset="0.1528" stop-color="#0096ec"/><stop offset="0.2644" stop-color="#00d3e8"/><stop offset="0.3584" stop-color="#00daac"/><stop offset="0.4407" stop-color="#1de116"/><stop offset="0.4700" stop-color="#3ee40f"/><stop offset="0.4759" stop-color="#f53608"/><stop offset="0.4818" stop-color="#ffffff"/><stop offset="0.5170" stop-color="#ffffff"/><stop offset="0.5229" stop-color="#ff5800"/><stop offset="0.5464" stop-color="#ffad00"/><stop offset="0.5934" stop-color="#f5ef00"/><stop offset="0.6463" stop-color="#a7ec00"/><stop offset="0.6874" stop-color="#84e903"/><stop offset="0.9988" stop-color="#81e903"/></linearGradient>
<linearGradient id="g137" gradientUnits="userSpaceOnUse" x1="74.0" y1="0" x2="244.2" y2="0"><stop offset="0.0000" stop-color="#000000"/><stop offset="0.2056" stop-color="#000000"/><stop offset="0.2174" stop-color="#000013"/><stop offset="0.2468" stop-color="#000c7c"/><stop offset="0.2703" stop-color="#0014a9"/><stop offset="0.3643" stop-color="#005ff0"/><stop offset="0.3995" stop-color="#0093ec"/><stop offset="0.4172" stop-color="#00d5e2"/><stop offset="0.4524" stop-color="#1de118"/><stop offset="0.4700" stop-color="#35e310"/><stop offset="0.4759" stop-color="#f53608"/><stop offset="0.4818" stop-color="#f53608"/><stop offset="0.4877" stop-color="#ffffff"/><stop offset="0.5288" stop-color="#ffffff"/><stop offset="0.5347" stop-color="#ff5500"/><stop offset="0.5640" stop-color="#ffac00"/><stop offset="0.6110" stop-color="#f5ef00"/><stop offset="0.6580" stop-color="#a9ec00"/><stop offset="0.6992" stop-color="#82e903"/><stop offset="0.9988" stop-color="#7de904"/></linearGradient>
<linearGradient id="g138" gradientUnits="userSpaceOnUse" x1="74.0" y1="0" x2="244.2" y2="0"><stop offset="0.0000" stop-color="#000000"/><stop offset="0.2291" stop-color="#000000"/><stop offset="0.2409" stop-color="#00002f"/><stop offset="0.2585" stop-color="#001fb5"/><stop offset="0.2879" stop-color="#0059ef"/><stop offset="0.3584" stop-color="#00d4e8"/><stop offset="0.4465" stop-color="#1ae121"/><stop offset="0.4759" stop-color="#36e310"/><stop offset="0.4818" stop-color="#f53608"/><stop offset="0.4877" stop-color="#ffffff"/><stop offset="0.5347" stop-color="#ffffff"/><stop offset="0.5405" stop-color="#ff7100"/><stop offset="0.5582" stop-color="#fdc800"/><stop offset="0.5934" stop-color="#f5f000"/><stop offset="0.7051" stop-color="#7ee904"/><stop offset="0.9988" stop-color="#7de904"/></linearGradient>
<linearGradient id="g139" gradientUnits="userSpaceOnUse" x1="74.0" y1="0" x2="244.2" y2="0"><stop offset="0.0000" stop-color="#000000"/><stop offset="0.0646" stop-color="#000000"/><stop offset="0.0705" stop-color="#000017"/><stop offset="0.0823" stop-color="#00129f"/><stop offset="0.0881" stop-color="#002fc5"/><stop offset="0.1058" stop-color="#005ff0"/><stop offset="0.1351" stop-color="#00a1eb"/><stop offset="0.2056" stop-color="#00aaeb"/><stop offset="0.2703" stop-color="#00d4e7"/><stop offset="0.3760" stop-color="#00db9f"/><stop offset="0.4465" stop-color="#1de119"/><stop offset="0.4818" stop-color="#45e40d"/><stop offset="0.4877" stop-color="#f53608"/><stop offset="0.4935" stop-color="#ffffff"/><stop offset="0.5405" stop-color="#ffffff"/><stop offset="0.5464" stop-color="#ff4e00"/><stop offset="0.5699" stop-color="#ffb000"/><stop offset="0.6169" stop-color="#f5ef00"/><stop offset="0.7109" stop-color="#88ea02"/><stop offset="0.9988" stop-color="#86ea03"/></linearGradient>
<linearGradient id="g140" gradientUnits="userSpaceOnUse" x1="74.0" y1="0" x2="244.2" y2="0"><stop offset="0.0000" stop-color="#000000"/><stop offset="0.2879" stop-color="#000000"/><stop offset="0.2996" stop-color="#000033"/><stop offset="0.3114" stop-color="#0014aa"/><stop offset="0.3231" stop-color="#0045db"/><stop offset="0.3349" stop-color="#005cf0"/><stop offset="0.3819" stop-color="#00d5de"/><stop offset="0.4465" stop-color="#1ce11c"/><stop offset="0.4818" stop-color="#4be50c"/><stop offset="0.4877" stop-color="#f53608"/><stop offset="0.4935" stop-color="#f53608"/><stop offset="0.4994" stop-color="#ffffff"/><stop offset="0.5288" stop-color="#ffffff"/><stop offset="0.5347" stop-color="#ff5c00"/><stop offset="0.5582" stop-color="#ffb300"/><stop offset="0.6052" stop-color="#f5ef00"/><stop offset="0.6992" stop-color="#8cea02"/><stop offset="0.9988" stop-color="#8aea02"/></linearGradient>
<linearGradient id="g141" gradientUnits="userSpaceOnUse" x1="74.0" y1="0" x2="244.2" y2="0"><stop offset="0.0000" stop-color="#000000"/><stop offset="0.2115" stop-color="#000000"/><stop offset="0.2350" stop-color="#000035"/><stop offset="0.2585" stop-color="#0021b7"/><stop offset="0.2879" stop-color="#005af0"/><stop offset="0.3525" stop-color="#00d4e3"/><stop offset="0.3937" stop-color="#00dba0"/><stop offset="0.4524" stop-color="#20e114"/><stop offset="0.4877" stop-color="#53e50b"/><stop offset="0.4935" stop-color="#f53608"/><stop offset="0.4994" stop-color="#ffffff"/><stop offset="0.5347" stop-color="#ffffff"/><stop offset="0.5405" stop-color="#ff6c00"/><stop offset="0.5464" stop-color="#ff9f00"/><stop offset="0.5582" stop-color="#fccb00"/><stop offset="0.6052" stop-color="#f5f000"/><stop offset="0.7051" stop-color="#90ea01"/><stop offset="0.9988" stop-color="#8eea01"/></linearGradient>
<linearGradient id="g142" gradientUnits="userSpaceOnUse" x1="74.0" y1="0" x2="244.2" y2="0"><stop offset="0.0000" stop-color="#000000"/><stop offset="0.0470" stop-color="#000000"/><stop offset="0.0529" stop-color="#000024"/><stop offset="0.0705" stop-color="#000141"/><stop offset="0.0999" stop-color="#0014aa"/><stop offset="0.1704" stop-color="#004de3"/><stop offset="0.2174" stop-color="#005af0"/><stop offset="0.3878" stop-color="#009eec"/><stop offset="0.4230" stop-color="#00c6e9"/><stop offset="0.4289" stop-color="#00d5e2"/><stop offset="0.4465" stop-color="#00de87"/><stop offset="0.4642" stop-color="#1fe114"/><stop offset="0.4759" stop-color="#52e50b"/><stop offset="0.4935" stop-color="#62e709"/><stop offset="0.4994" stop-color="#f53608"/><stop offset="0.5053" stop-color="#ffffff"/><stop offset="0.5464" stop-color="#ffffff"/><stop offset="0.5523" stop-color="#f63807"/><stop offset="0.5582" stop-color="#ff4d00"/><stop offset="0.5934" stop-color="#ffa100"/><stop offset="0.6522" stop-color="#f0f000"/><stop offset="0.7227" stop-color="#9deb00"/><stop offset="0.9988" stop-color="#97eb00"/></linearGradient>
<linearGradient id="g143" gradientUnits="userSpaceOnUse" x1="74.0" y1="0" x2="244.2" y2="0"><stop offset="0.0000" stop-color="#000000"/><stop offset="0.0881" stop-color="#000000"/><stop offset="0.1116" stop-color="#0021b7"/><stop offset="0.1410" stop-color="#0063ef"/><stop offset="0.1645" stop-color="#0083ed"/><stop offset="0.2468" stop-color="#008eed"/><stop offset="0.3643" stop-color="#00d4e7"/><stop offset="0.4172" stop-color="#00d7c5"/><stop offset="0.4407" stop-color="#00dd8a"/><stop offset="0.4642" stop-color="#1fe114"/><stop offset="0.4759" stop-color="#51e50b"/><stop offset="0.4935" stop-color="#6ae707"/><stop offset="0.4994" stop-color="#f53608"/><stop offset="0.5053" stop-color="#ffffff"/><stop offset="0.5523" stop-color="#ffffff"/><stop offset="0.5582" stop-color="#fe4401"/><stop offset="0.5934" stop-color="#ffa300"/><stop offset="0.6522" stop-color="#f1f000"/><stop offset="0.7227" stop-color="#a0ec00"/><stop offset="0.9988" stop-color="#9ceb00"/></linearGradient>
<linearGradient id="g144" gradientUnits="userSpaceOnUse" x1="74.0" y1="0" x2="244.2" y2="0"><stop offset="0.0000" stop-color="#000000"/><stop offset="0.1116" stop-color="#000000"/><stop offset="0.1234" stop-color="#000765"/><stop offset="0.1293" stop-color="#0019af"/><stop offset="0.1410" stop-color="#005ff0"/><stop offset="0.1880" stop-color="#00cbe9"/><stop offset="0.2644" stop-color="#00d5e2"/><stop offset="0.3995" stop-color="#00de86"/><stop offset="0.4524" stop-color="#1be11f"/><stop offset="0.4994" stop-color="#69e707"/><stop offset="0.5053" stop-color="#f53608"/><stop offset="0.5112" stop-color="#ffffff"/><stop offset="0.5523" stop-color="#ffffff"/><stop offset="0.5582" stop-color="#ff4b00"/><stop offset="0.5640" stop-color="#ff8a00"/><stop offset="0.5758" stop-color="#ffbf00"/><stop offset="0.6345" stop-color="#f5ef00"/><stop offset="0.7227" stop-color="#9deb00"/><stop offset="0.9988" stop-color="#9beb00"/></linearGradient>
<linearGradient id="g145" gradientUnits="userSpaceOnUse" x1="74.0" y1="0" x2="244.2" y2="0"><stop offset="0.0000" stop-color="#000000"/><stop offset="0.0470" stop-color="#000000"/><stop offset="0.0881" stop-color="#0013a7"/><stop offset="0.1293" stop-color="#0041d7"/><stop offset="0.2585" stop-color="#005cf0"/><stop offset="0.4113" stop-color="#0093ec"/><stop offset="0.4407" stop-color="#00c6e9"/><stop offset="0.4583" stop-color="#00dc94"/><stop offset="0.4759" stop-color="#1ce11b"/><stop offset="0.4877" stop-color="#4ce50c"/><stop offset="0.5053" stop-color="#5ee609"/><stop offset="0.5112" stop-color="#f53608"/><stop offset="0.5170" stop-color="#ffffff"/><stop offset="0.5582" stop-color="#ffffff"/><stop offset="0.5640" stop-color="#fb4003"/><stop offset="0.5699" stop-color="#ff5900"/><stop offset="0.5993" stop-color="#ffa800"/><stop offset="0.6522" stop-color="#f5f000"/><stop offset="0.6992" stop-color="#b0ec00"/><stop offset="0.7344" stop-color="#97eb00"/><stop offset="0.9988" stop-color="#94eb00"/></linearGradient>
<linearGradient id="g146" gradientUnits="userSpaceOnUse" x1="74.0" y1="0" x2="244.2" y2="0"><stop offset="0.0000" stop-color="#000000"/><stop offset="0.0764" stop-color="#000010"/><stop offset="0.0881" stop-color="#00034c"/><stop offset="0.0999" stop-color="#0018ae"/><stop offset="0.1116" stop-color="#0044da"/><stop offset="0.1293" stop-color="#0061f0"/><stop offset="0.1821" stop-color="#00b2ea"/><stop offset="0.2703" stop-color="#00d4e6"/><stop offset="0.4172" stop-color="#00dc92"/><stop offset="0.4407" stop-color="#06df6b"/><stop offset="0.4759" stop-color="#1fe114"/><stop offset="0.5053" stop-color="#52e50b"/><stop offset="0.5112" stop-color="#f53608"/><stop offset="0.5170" stop-color="#ffffff"/><stop offset="0.5582" stop-color="#ffffff"/><stop offset="0.5640" stop-color="#ff5a00"/><stop offset="0.5875" stop-color="#ffb400"/><stop offset="0.6345" stop-color="#f5ee00"/><stop offset="0.7286" stop-color="#8fea01"/><stop offset="0.9988" stop-color="#8eea01"/></linearGradient>
<linearGradient id="g147" gradientUnits="userSpaceOnUse" x1="74.0" y1="0" x2="244.2" y2="0"><stop offset="0.0000" stop-color="#000000"/><stop offset="0.0823" stop-color="#000001"/><stop offset="0.0881" stop-color="#000021"/><stop offset="0.1058" stop-color="#0026bc"/><stop offset="0.1293" stop-color="#0060f0"/><stop offset="0.1704" stop-color="#00a7eb"/><stop offset="0.2291" stop-color="#00afea"/><stop offset="0.2879" stop-color="#00d4e7"/><stop offset="0.4230" stop-color="#00dc9b"/><stop offset="0.4465" stop-color="#04de74"/><stop offset="0.4818" stop-color="#1de119"/><stop offset="0.5112" stop-color="#49e50d"/><stop offset="0.5170" stop-color="#f53608"/><stop offset="0.5229" stop-color="#ffffff"/><stop offset="0.5758" stop-color="#ffffff"/><stop offset="0.5817" stop-color="#ff5d00"/><stop offset="0.6110" stop-color="#ffb500"/><stop offset="0.6580" stop-color="#f2f000"/><stop offset="0.7109" stop-color="#a4ec00"/><stop offset="0.7462" stop-color="#8aea02"/><stop offset="0.9988" stop-color="#88ea02"/></linearGradient>
<linearGradient id="g148" gradientUnits="userSpaceOnUse" x1="74.0" y1="0" x2="244.2" y2="0"><stop offset="0.0000" stop-color="#000000"/><stop offset="0.1234" stop-color="#000000"/><stop offset="0.1293" stop-color="#000024"/><stop offset="0.1410" stop-color="#0019af"/><stop offset="0.1469" stop-color="#0038ce"/><stop offset="0.1645" stop-color="#0066ef"/><stop offset="0.1939" stop-color="#00a6eb"/><stop offset="0.2585" stop-color="#00afea"/><stop offset="0.3114" stop-color="#00d4e7"/><stop offset="0.4289" stop-color="#00db9c"/><stop offset="0.4524" stop-color="#04de75"/><stop offset="0.4877" stop-color="#1de117"/><stop offset="0.5112" stop-color="#46e40d"/><stop offset="0.5170" stop-color="#f53608"/><stop offset="0.5229" stop-color="#f53608"/><stop offset="0.5288" stop-color="#ffffff"/><stop offset="0.5758" stop-color="#ffffff"/><stop offset="0.5817" stop-color="#ff5a00"/><stop offset="0.6110" stop-color="#ffb600"/><stop offset="0.6580" stop-color="#f1f000"/><stop offset="0.7109" stop-color="#a5ec00"/><stop offset="0.7462" stop-color="#8aea02"/><stop offset="0.9988" stop-color="#88ea02"/></linearGradient>
<linearGradient id="g149" gradientUnits="userSpaceOnUse" x1="74.0" y1="0" x2="244.2" y2="0"><stop offset="0.0000" stop-color="#000000"/><stop offset="0.0646" stop-color="#000000"/><stop offset="0.0705" stop-color="#000010"/><stop offset="0.0881" stop-color="#002cc2"/><stop offset="0.1058" stop-color="#005df0"/><stop offset="0.1351" stop-color="#00a1eb"/><stop offset="0.2233" stop-color="#00adeb"/><stop offset="0.2879" stop-color="#00d4e7"/><stop offset="0.4348" stop-color="#00db9d"/><stop offset="0.4583" stop-color="#03de77"/><stop offset="0.4935" stop-color="#1de118"/><stop offset="0.5170" stop-color="#45e40d"/><stop offset="0.5229" stop-color="#f53608"/><stop offset="0.5288" stop-color="#ffffff"/><stop offset="0.5758" stop-color="#ffffff"/><stop offset="0.5817" stop-color="#ff7a00"/><stop offset="0.5875" stop-color="#ffa900"/><stop offset="0.5993" stop-color="#fbd100"/><stop offset="0.6404" stop-color="#f4f000"/><stop offset="0.7462" stop-color="#88ea02"/><stop offset="0.9988" stop-color="#87ea03"/></linearGradient>
<linearGradient id="g150" gradientUnits="userSpaceOnUse" x1="74.0" y1="0" x2="244.2" y2="0"><stop offset="0.0000" stop-color="#000000"/><stop offset="0.0705" stop-color="#000006"/><stop offset="0.0881" stop-color="#000f90"/><stop offset="0.0940" stop-color="#0014a9"/><stop offset="0.1293" stop-color="#005af0"/><stop offset="0.2409" stop-color="#006def"/><stop offset="0.4465" stop-color="#00d1e8"/><stop offset="0.4642" stop-color="#00d7c8"/><stop offset="0.4818" stop-color="#00de81"/><stop offset="0.5053" stop-color="#1de119"/><stop offset="0.5229" stop-color="#35e310"/><stop offset="0.5288" stop-color="#f53608"/><stop offset="0.5347" stop-color="#ffffff"/><stop offset="0.5699" stop-color="#ffffff"/><stop offset="0.5758" stop-color="#ff4b00"/><stop offset="0.5875" stop-color="#ff9300"/><stop offset="0.5993" stop-color="#ffba00"/><stop offset="0.6404" stop-color="#f5f000"/><stop offset="0.7403" stop-color="#7fe904"/><stop offset="0.9988" stop-color="#7de904"/></linearGradient>
<linearGradient id="g151" gradientUnits="userSpaceOnUse" x1="74.0" y1="0" x2="244.2" y2="0"><stop offset="0.0000" stop-color="#000000"/><stop offset="0.0999" stop-color="#000000"/><stop offset="0.1116" stop-color="#00001c"/><stop offset="0.1293" stop-color="#000970"/><stop offset="0.1704" stop-color="#0027bd"/><stop offset="0.2644" stop-color="#0032c8"/><stop offset="0.3643" stop-color="#005af0"/><stop offset="0.4524" stop-color="#0072ee"/><stop offset="0.4642" stop-color="#008aed"/><stop offset="0.4759" stop-color="#00cde8"/><stop offset="0.4935" stop-color="#02de7c"/><stop offset="0.5112" stop-color="#1de118"/><stop offset="0.5288" stop-color="#36e310"/><stop offset="0.5347" stop-color="#f53608"/><stop offset="0.5405" stop-color="#ffffff"/><stop offset="0.5817" stop-color="#ffffff"/><stop offset="0.5875" stop-color="#ff5d00"/><stop offset="0.6169" stop-color="#ffa600"/><stop offset="0.6698" stop-color="#f1f000"/><stop offset="0.7168" stop-color="#a3ec00"/><stop offset="0.7521" stop-color="#84e903"/><stop offset="0.9988" stop-color="#7de904"/></linearGradient>
<linearGradient id="g152" gradientUnits="userSpaceOnUse" x1="74.0" y1="0" x2="244.2" y2="0"><stop offset="0.0000" stop-color="#000000"/><stop offset="0.1116" stop-color="#000000"/><stop offset="0.1351" stop-color="#0012a0"/><stop offset="0.1763" stop-color="#005af0"/><stop offset="0.2703" stop-color="#0069ef"/><stop offset="0.4642" stop-color="#00d0e8"/><stop offset="0.4759" stop-color="#00d7cb"/><stop offset="0.4935" stop-color="#02de7c"/><stop offset="0.5112" stop-color="#19e126"/><stop offset="0.5288" stop-color="#34e310"/><stop offset="0.5347" stop-color="#f53608"/><stop offset="0.5405" stop-color="#f53608"/><stop offset="0.5464" stop-color="#ffffff"/><stop offset="0.5582" stop-color="#ffffff"/><stop offset="0.5640" stop-color="#ff5900"/><stop offset="0.5699" stop-color="#ff8800"/><stop offset="0.5817" stop-color="#ffbd00"/><stop offset="0.6228" stop-color="#f4f000"/><stop offset="0.7286" stop-color="#7fe904"/><stop offset="0.9988" stop-color="#7ee904"/></linearGradient>
<linearGradient id="g153" gradientUnits="userSpaceOnUse" x1="74.0" y1="0" x2="244.2" y2="0"><stop offset="0.0000" stop-color="#000000"/><stop offset="0.1704" stop-color="#000000"/><stop offset="0.1821" stop-color="#000025"/><stop offset="0.1939" stop-color="#000c7e"/><stop offset="0.2056" stop-color="#0017ad"/><stop offset="0.2409" stop-color="#0054ea"/><stop offset="0.2879" stop-color="#005af0"/><stop offset="0.4642" stop-color="#00b5ea"/><stop offset="0.4759" stop-color="#00d2e8"/><stop offset="0.4994" stop-color="#02de7b"/><stop offset="0.5170" stop-color="#1ce11b"/><stop offset="0.5347" stop-color="#3ee40f"/><stop offset="0.5405" stop-color="#f53608"/><stop offset="0.5464" stop-color="#ffffff"/><stop offset="0.5758" stop-color="#ffffff"/><stop offset="0.5817" stop-color="#ff5a00"/><stop offset="0.5875" stop-color="#ff9900"/><stop offset="0.5993" stop-color="#fcce00"/><stop offset="0.6345" stop-color="#f5ee00"/><stop offset="0.7462" stop-color="#85ea03"/><stop offset="0.9988" stop-color="#83e903"/></linearGradient>
<linearGradient id="g154" gradientUnits="userSpaceOnUse" x1="74.0" y1="0" x2="244.2" y2="0"><stop offset="0.0000" stop-color="#000000"/><stop offset="0.0764" stop-color="#000000"/><stop offset="0.0823" stop-color="#000017"/><stop offset="0.0940" stop-color="#0012a0"/><stop offset="0.0999" stop-color="#002fc5"/><stop offset="0.1175" stop-color="#005ef0"/><stop offset="0.1469" stop-color="#009feb"/><stop offset="0.2350" stop-color="#00a9eb"/><stop offset="0.3055" stop-color="#00d4e8"/><stop offset="0.3995" stop-color="#00dab0"/><stop offset="0.4700" stop-color="#00dba0"/><stop offset="0.4877" stop-color="#00de83"/><stop offset="0.5229" stop-color="#20e114"/><stop offset="0.5405" stop-color="#43e40e"/><stop offset="0.5464" stop-color="#f53608"/><stop offset="0.5523" stop-color="#ffffff"/><stop offset="0.5875" stop-color="#ffffff"/><stop offset="0.5934" stop-color="#ff5d00"/><stop offset="0.5993" stop-color="#ff9a00"/><stop offset="0.6110" stop-color="#fccd00"/><stop offset="0.6522" stop-color="#f4f000"/><stop offset="0.7579" stop-color="#87ea03"/><stop offset="0.9988" stop-color="#85ea03"/></linearGradient>
<linearGradient id="g155" gradientUnits="userSpaceOnUse" x1="74.0" y1="0" x2="244.2" y2="0"><stop offset="0.0000" stop-color="#000000"/><stop offset="0.0705" stop-color="#000000"/><stop offset="0.0764" stop-color="#000014"/><stop offset="0.0881" stop-color="#001198"/><stop offset="0.0940" stop-color="#002fc5"/><stop offset="0.1116" stop-color="#0061f0"/><stop offset="0.1469" stop-color="#00a7eb"/><stop offset="0.2291" stop-color="#00aeea"/><stop offset="0.2996" stop-color="#00d4e6"/><stop offset="0.4054" stop-color="#00daa9"/><stop offset="0.4759" stop-color="#00dc9b"/><stop offset="0.4935" stop-color="#01de7f"/><stop offset="0.5229" stop-color="#1ce11d"/><stop offset="0.5464" stop-color="#4ae50d"/><stop offset="0.5523" stop-color="#f53608"/><stop offset="0.5582" stop-color="#ffffff"/><stop offset="0.5758" stop-color="#ffffff"/><stop offset="0.5817" stop-color="#ff5100"/><stop offset="0.5875" stop-color="#ff9200"/><stop offset="0.5993" stop-color="#fdca00"/><stop offset="0.6404" stop-color="#f5ee00"/><stop offset="0.7462" stop-color="#8bea02"/><stop offset="0.9988" stop-color="#89ea02"/></linearGradient>
<linearGradient id="g156" gradientUnits="userSpaceOnUse" x1="74.0" y1="0" x2="244.2" y2="0"><stop offset="0.0000" stop-color="#000000"/><stop offset="0.0764" stop-color="#000000"/><stop offset="0.0881" stop-color="#00003e"/><stop offset="0.0999" stop-color="#002cc2"/><stop offset="0.1175" stop-color="#0064ef"/><stop offset="0.1528" stop-color="#00b1ea"/><stop offset="0.2879" stop-color="#00d3e8"/><stop offset="0.4113" stop-color="#00dba0"/><stop offset="0.4818" stop-color="#00dc94"/><stop offset="0.4994" stop-color="#02de79"/><stop offset="0.5288" stop-color="#1fe114"/><stop offset="0.5464" stop-color="#4fe50c"/><stop offset="0.5523" stop-color="#f53608"/><stop offset="0.5582" stop-color="#f53608"/><stop offset="0.5640" stop-color="#ffffff"/><stop offset="0.5934" stop-color="#ffffff"/><stop offset="0.5993" stop-color="#ff4800"/><stop offset="0.6110" stop-color="#ff7f00"/><stop offset="0.6287" stop-color="#ffad00"/><stop offset="0.6816" stop-color="#f1f000"/><stop offset="0.7638" stop-color="#91eb01"/><stop offset="0.9988" stop-color="#8eea01"/></linearGradient>
<linearGradient id="g157" gradientUnits="userSpaceOnUse" x1="74.0" y1="0" x2="244.2" y2="0"><stop offset="0.0000" stop-color="#000000"/><stop offset="0.2761" stop-color="#000000"/><stop offset="0.3055" stop-color="#001ab0"/><stop offset="0.3408" stop-color="#004fe5"/><stop offset="0.3643" stop-color="#005af0"/><stop offset="0.4818" stop-color="#009fec"/><stop offset="0.4994" stop-color="#00d4e6"/><stop offset="0.5170" stop-color="#02de7b"/><stop offset="0.5288" stop-color="#1ae123"/><stop offset="0.5523" stop-color="#69e708"/><stop offset="0.5582" stop-color="#f53608"/><stop offset="0.5640" stop-color="#ffffff"/><stop offset="0.5934" stop-color="#ffffff"/><stop offset="0.5993" stop-color="#f63708"/><stop offset="0.6052" stop-color="#ff4a00"/><stop offset="0.6345" stop-color="#ff8f00"/><stop offset="0.6992" stop-color="#f5ee00"/><stop offset="0.7697" stop-color="#a4ec00"/><stop offset="0.9988" stop-color="#9deb00"/></linearGradient>
<linearGradient id="g158" gradientUnits="userSpaceOnUse" x1="74.0" y1="0" x2="244.2" y2="0"><stop offset="0.0000" stop-color="#000000"/><stop offset="0.1880" stop-color="#000000"/><stop offset="0.1939" stop-color="#00001b"/><stop offset="0.2056" stop-color="#0013a6"/><stop offset="0.2115" stop-color="#0033c9"/><stop offset="0.2291" stop-color="#0063ef"/><stop offset="0.2585" stop-color="#00a4eb"/><stop offset="0.3173" stop-color="#00aeea"/><stop offset="0.3643" stop-color="#00d2e8"/><stop offset="0.4465" stop-color="#00daac"/><stop offset="0.4994" stop-color="#00db9d"/><stop offset="0.5170" stop-color="#03de76"/><stop offset="0.5405" stop-color="#1de119"/><stop offset="0.5582" stop-color="#47e40d"/><stop offset="0.5640" stop-color="#f53608"/><stop offset="0.5699" stop-color="#ff9100"/><stop offset="0.5817" stop-color="#ff9100"/><stop offset="0.5875" stop-color="#ff5200"/><stop offset="0.6169" stop-color="#ffb100"/><stop offset="0.6639" stop-color="#f5f000"/><stop offset="0.7168" stop-color="#a6ec00"/><stop offset="0.7521" stop-color="#8aea02"/><stop offset="0.9988" stop-color="#87ea02"/></linearGradient>
<linearGradient id="g159" gradientUnits="userSpaceOnUse" x1="74.0" y1="0" x2="244.2" y2="0"><stop offset="0.0000" stop-color="#000000"/><stop offset="0.1645" stop-color="#000000"/><stop offset="0.1704" stop-color="#00000e"/><stop offset="0.1880" stop-color="#002ac0"/><stop offset="0.2056" stop-color="#005df0"/><stop offset="0.2409" stop-color="#00a5eb"/><stop offset="0.3055" stop-color="#00aeea"/><stop offset="0.3584" stop-color="#00d4e7"/><stop offset="0.4465" stop-color="#00daaa"/><stop offset="0.5053" stop-color="#00db9e"/><stop offset="0.5229" stop-color="#03de77"/><stop offset="0.5464" stop-color="#1de116"/><stop offset="0.5640" stop-color="#47e40d"/><stop offset="0.5699" stop-color="#f53608"/><stop offset="0.5758" stop-color="#ff9200"/><stop offset="0.5934" stop-color="#ff9200"/><stop offset="0.5993" stop-color="#ff5a00"/><stop offset="0.6287" stop-color="#ffb900"/><stop offset="0.6757" stop-color="#eff000"/><stop offset="0.7286" stop-color="#a3ec00"/><stop offset="0.7638" stop-color="#89ea02"/><stop offset="0.9988" stop-color="#87ea03"/></linearGradient>
<linearGradient id="g160" gradientUnits="userSpaceOnUse" x1="74.0" y1="0" x2="244.2" y2="0"><stop offset="0.0000" stop-color="#000000"/><stop offset="0.1410" stop-color="#000000"/><stop offset="0.1469" stop-color="#00000b"/><stop offset="0.1586" stop-color="#000c80"/><stop offset="0.1645" stop-color="#00129d"/><stop offset="0.1939" stop-color="#0060f0"/><stop offset="0.2996" stop-color="#0082ed"/><stop offset="0.3995" stop-color="#00d4e8"/><stop offset="0.5112" stop-color="#00d8c4"/><stop offset="0.5347" stop-color="#00dd89"/><stop offset="0.5640" stop-color="#1ce11c"/><stop offset="0.5699" stop-color="#f53608"/><stop offset="0.5758" stop-color="#f8e000"/><stop offset="0.5934" stop-color="#f8e000"/><stop offset="0.5993" stop-color="#ff6600"/><stop offset="0.6404" stop-color="#ffb900"/><stop offset="0.6816" stop-color="#f1f000"/><stop offset="0.7286" stop-color="#9deb00"/><stop offset="0.7638" stop-color="#7ae905"/><stop offset="0.9988" stop-color="#6ce807"/></linearGradient>
<linearGradient id="g161" gradientUnits="userSpaceOnUse" x1="74.0" y1="0" x2="244.2" y2="0"><stop offset="0.0000" stop-color="#000000"/><stop offset="0.1939" stop-color="#000000"/><stop offset="0.1998" stop-color="#000020"/><stop offset="0.2115" stop-color="#0015ab"/><stop offset="0.2350" stop-color="#0062ef"/><stop offset="0.2644" stop-color="#00a0eb"/><stop offset="0.3231" stop-color="#00a9eb"/><stop offset="0.3819" stop-color="#00d4e6"/><stop offset="0.4583" stop-color="#00daae"/><stop offset="0.5229" stop-color="#00db9e"/><stop offset="0.5347" stop-color="#01de7f"/><stop offset="0.5582" stop-color="#1fe114"/><stop offset="0.5699" stop-color="#42e40e"/><stop offset="0.5758" stop-color="#f53608"/><stop offset="0.5817" stop-color="#ff9900"/><stop offset="0.5993" stop-color="#ff9900"/><stop offset="0.6052" stop-color="#ff5b00"/><stop offset="0.6169" stop-color="#ffa300"/><stop offset="0.6287" stop-color="#fdc600"/><stop offset="0.6698" stop-color="#f3f000"/><stop offset="0.7697" stop-color="#86ea03"/><stop offset="0.9988" stop-color="#85ea03"/></linearGradient>
<linearGradient id="g162" gradientUnits="userSpaceOnUse" x1="74.0" y1="0" x2="244.2" y2="0"><stop offset="0.0000" stop-color="#000000"/><stop offset="0.1998" stop-color="#000000"/><stop offset="0.2115" stop-color="#000034"/><stop offset="0.2291" stop-color="#0028be"/><stop offset="0.2526" stop-color="#005bf0"/><stop offset="0.2761" stop-color="#0082ed"/><stop offset="0.3467" stop-color="#008fed"/><stop offset="0.4465" stop-color="#00d4e8"/><stop offset="0.5053" stop-color="#00d6d5"/><stop offset="0.5288" stop-color="#00daaf"/><stop offset="0.5405" stop-color="#02de7b"/><stop offset="0.5582" stop-color="#27e213"/><stop offset="0.5758" stop-color="#64e708"/><stop offset="0.5817" stop-color="#f53608"/><stop offset="0.5875" stop-color="#ff5500"/><stop offset="0.5993" stop-color="#ff5500"/><stop offset="0.6052" stop-color="#f53508"/><stop offset="0.6169" stop-color="#ff9100"/><stop offset="0.6287" stop-color="#ffba00"/><stop offset="0.6816" stop-color="#f5ee00"/><stop offset="0.7697" stop-color="#9beb00"/><stop offset="0.9988" stop-color="#98eb00"/></linearGradient>
<linearGradient id="g163" gradientUnits="userSpaceOnUse" x1="74.0" y1="0" x2="244.2" y2="0"><stop offset="0.0000" stop-color="#000000"/><stop offset="0.3584" stop-color="#000000"/><stop offset="0.3702" stop-color="#000037"/><stop offset="0.3760" stop-color="#000c7f"/><stop offset="0.3819" stop-color="#0027bd"/><stop offset="0.3937" stop-color="#005cf0"/><stop offset="0.4289" stop-color="#00b9ea"/><stop offset="0.4524" stop-color="#00d4e8"/><stop offset="0.5347" stop-color="#00dd8d"/><stop offset="0.5464" stop-color="#05df6e"/><stop offset="0.5640" stop-color="#22e113"/><stop offset="0.5758" stop-color="#55e60b"/><stop offset="0.5817" stop-color="#f53608"/><stop offset="0.5875" stop-color="#ff6600"/><stop offset="0.5993" stop-color="#ff6600"/><stop offset="0.6052" stop-color="#ff4d00"/><stop offset="0.6345" stop-color="#ffa800"/><stop offset="0.6874" stop-color="#f5ef00"/><stop offset="0.7697" stop-color="#96eb00"/><stop offset="0.9988" stop-color="#94eb00"/></linearGradient>
<linearGradient id="g164" gradientUnits="userSpaceOnUse" x1="74.0" y1="0" x2="244.2" y2="0"><stop offset="0.0000" stop-color="#000000"/><stop offset="0.3408" stop-color="#000000"/><stop offset="0.3525" stop-color="#00003d"/><stop offset="0.3643" stop-color="#002cc2"/><stop offset="0.3819" stop-color="#0066ef"/><stop offset="0.4113" stop-color="#00b0ea"/><stop offset="0.4524" stop-color="#00d4e6"/><stop offset="0.5405" stop-color="#00dc95"/><stop offset="0.5523" stop-color="#02de79"/><stop offset="0.5699" stop-color="#1de116"/><stop offset="0.5817" stop-color="#4fe50c"/><stop offset="0.5875" stop-color="#f53608"/><stop offset="0.5934" stop-color="#ff7b00"/><stop offset="0.5993" stop-color="#ff5100"/><stop offset="0.6287" stop-color="#ffab00"/><stop offset="0.6816" stop-color="#f2f000"/><stop offset="0.7286" stop-color="#acec00"/><stop offset="0.7638" stop-color="#91eb01"/><stop offset="0.9988" stop-color="#8eea01"/></linearGradient>
<linearGradient id="g165" gradientUnits="userSpaceOnUse" x1="74.0" y1="0" x2="244.2" y2="0"><stop offset="0.0000" stop-color="#000000"/><stop offset="0.3055" stop-color="#000000"/><stop offset="0.3173" stop-color="#000245"/><stop offset="0.3290" stop-color="#0014aa"/><stop offset="0.3643" stop-color="#005ff0"/><stop offset="0.4465" stop-color="#00d2e8"/><stop offset="0.5053" stop-color="#00d9b3"/><stop offset="0.5523" stop-color="#00dba5"/><stop offset="0.5640" stop-color="#04de73"/><stop offset="0.5758" stop-color="#18e02a"/><stop offset="0.5875" stop-color="#39e310"/><stop offset="0.5934" stop-color="#f53608"/><stop offset="0.5993" stop-color="#ffaa00"/><stop offset="0.6052" stop-color="#ff6600"/><stop offset="0.6169" stop-color="#fec100"/><stop offset="0.6345" stop-color="#f8e200"/><stop offset="0.6580" stop-color="#f4f000"/><stop offset="0.7697" stop-color="#81e904"/><stop offset="0.9988" stop-color="#7fe904"/></linearGradient>
<linearGradient id="g166" gradientUnits="userSpaceOnUse" x1="74.0" y1="0" x2="244.2" y2="0"><stop offset="0.0000" stop-color="#000000"/><stop offset="0.3584" stop-color="#000000"/><stop offset="0.3819" stop-color="#000034"/><stop offset="0.4054" stop-color="#001eb4"/><stop offset="0.4348" stop-color="#005af0"/><stop offset="0.4877" stop-color="#00d4e4"/><stop offset="0.5229" stop-color="#00dba3"/><stop offset="0.5640" stop-color="#00de82"/><stop offset="0.5817" stop-color="#22e113"/><stop offset="0.5875" stop-color="#44e40e"/><stop offset="0.5934" stop-color="#f53608"/><stop offset="0.5993" stop-color="#f53608"/><stop offset="0.6052" stop-color="#ff7900"/><stop offset="0.6110" stop-color="#ff8000"/><stop offset="0.6169" stop-color="#ffa900"/><stop offset="0.6287" stop-color="#fcce00"/><stop offset="0.6757" stop-color="#f4f000"/><stop offset="0.7756" stop-color="#8fea01"/><stop offset="0.9988" stop-color="#8eea01"/></linearGradient>
<linearGradient id="g167" gradientUnits="userSpaceOnUse" x1="74.0" y1="0" x2="244.2" y2="0"><stop offset="0.0000" stop-color="#000000"/><stop offset="0.4935" stop-color="#000000"/><stop offset="0.5112" stop-color="#000036"/><stop offset="0.5288" stop-color="#00129e"/><stop offset="0.5464" stop-color="#0064ef"/><stop offset="0.5640" stop-color="#00d4e7"/><stop offset="0.5875" stop-color="#1ae121"/><stop offset="0.5934" stop-color="#3be30f"/><stop offset="0.5993" stop-color="#f53608"/><stop offset="0.6052" stop-color="#ff6f00"/><stop offset="0.6110" stop-color="#ff6f00"/><stop offset="0.6169" stop-color="#ff4600"/><stop offset="0.6287" stop-color="#ff7e00"/><stop offset="0.6463" stop-color="#ffac00"/><stop offset="0.6992" stop-color="#f3f000"/><stop offset="0.7814" stop-color="#94eb00"/><stop offset="0.9988" stop-color="#91eb01"/></linearGradient>
<linearGradient id="g168" gradientUnits="userSpaceOnUse" x1="74.0" y1="0" x2="244.2" y2="0"><stop offset="0.0000" stop-color="#000000"/><stop offset="0.4935" stop-color="#000000"/><stop offset="0.5053" stop-color="#000020"/><stop offset="0.5229" stop-color="#000e87"/><stop offset="0.5347" stop-color="#001ab0"/><stop offset="0.5464" stop-color="#0056ec"/><stop offset="0.5523" stop-color="#007dee"/><stop offset="0.5640" stop-color="#00d4e7"/><stop offset="0.5817" stop-color="#00de87"/><stop offset="0.5934" stop-color="#19e125"/><stop offset="0.5993" stop-color="#31e311"/><stop offset="0.6052" stop-color="#f53608"/><stop offset="0.6110" stop-color="#ffad00"/><stop offset="0.6169" stop-color="#ff6200"/><stop offset="0.6404" stop-color="#ffb400"/><stop offset="0.6874" stop-color="#f0f000"/><stop offset="0.7403" stop-color="#a2ec00"/><stop offset="0.7814" stop-color="#80e904"/><stop offset="0.9988" stop-color="#7ee904"/></linearGradient>
<linearGradient id="ing" gradientUnits="userSpaceOnUse" x1="419" y1="0" x2="451" y2="0"><stop offset="0" stop-color="#00f07a"/><stop offset="1" stop-color="#00f0b4"/></linearGradient>
<linearGradient id="g169" gradientUnits="userSpaceOnUse" x1="537.2" y1="0" x2="705.6" y2="0"><stop offset="0.0000" stop-color="#00f546"/><stop offset="0.1425" stop-color="#04f441"/><stop offset="0.1663" stop-color="#13f02e"/><stop offset="0.1781" stop-color="#2deb13"/><stop offset="0.1841" stop-color="#00edbf"/><stop offset="0.2138" stop-color="#00e6f2"/><stop offset="0.3444" stop-color="#00e4fd"/><stop offset="0.4038" stop-color="#0076ff"/><stop offset="0.4751" stop-color="#0067fd"/><stop offset="0.4869" stop-color="#005afb"/><stop offset="0.4929" stop-color="#002cea"/><stop offset="0.5048" stop-color="#002cea"/><stop offset="0.5107" stop-color="#0057fa"/><stop offset="0.5226" stop-color="#0065fc"/><stop offset="0.5938" stop-color="#0074fe"/><stop offset="0.6532" stop-color="#00e4fe"/><stop offset="0.7838" stop-color="#00e6f0"/><stop offset="0.8135" stop-color="#00edbf"/><stop offset="0.8195" stop-color="#27eb15"/><stop offset="0.8314" stop-color="#12f130"/><stop offset="0.8551" stop-color="#04f442"/><stop offset="0.9976" stop-color="#00f546"/></linearGradient>
<linearGradient id="g170" gradientUnits="userSpaceOnUse" x1="537.2" y1="0" x2="705.6" y2="0"><stop offset="0.0000" stop-color="#00f546"/><stop offset="0.1425" stop-color="#04f440"/><stop offset="0.1663" stop-color="#16ef2a"/><stop offset="0.1781" stop-color="#3ceb11"/><stop offset="0.1841" stop-color="#00edc1"/><stop offset="0.2138" stop-color="#00e5f5"/><stop offset="0.3444" stop-color="#00e4fd"/><stop offset="0.4038" stop-color="#0075ff"/><stop offset="0.4751" stop-color="#0067fd"/><stop offset="0.4869" stop-color="#005afb"/><stop offset="0.4929" stop-color="#002cea"/><stop offset="0.5048" stop-color="#002cea"/><stop offset="0.5107" stop-color="#0057fa"/><stop offset="0.5226" stop-color="#0065fc"/><stop offset="0.5938" stop-color="#0073fe"/><stop offset="0.6532" stop-color="#00e4ff"/><stop offset="0.7838" stop-color="#00e6f3"/><stop offset="0.8135" stop-color="#00edc0"/><stop offset="0.8195" stop-color="#34eb12"/><stop offset="0.8314" stop-color="#15f02c"/><stop offset="0.8551" stop-color="#04f441"/><stop offset="0.9976" stop-color="#00f546"/></linearGradient>
<linearGradient id="g171" gradientUnits="userSpaceOnUse" x1="537.2" y1="0" x2="705.6" y2="0"><stop offset="0.0000" stop-color="#00f546"/><stop offset="0.1366" stop-color="#03f442"/><stop offset="0.1722" stop-color="#27eb16"/><stop offset="0.1781" stop-color="#00edbf"/><stop offset="0.2138" stop-color="#00e5f8"/><stop offset="0.3444" stop-color="#00e4fe"/><stop offset="0.4038" stop-color="#0074fe"/><stop offset="0.4751" stop-color="#0067fd"/><stop offset="0.4869" stop-color="#005afb"/><stop offset="0.4929" stop-color="#002cea"/><stop offset="0.5048" stop-color="#002cea"/><stop offset="0.5107" stop-color="#0057fa"/><stop offset="0.5226" stop-color="#0065fc"/><stop offset="0.5998" stop-color="#0079ff"/><stop offset="0.6532" stop-color="#00e2ff"/><stop offset="0.7838" stop-color="#00e5f6"/><stop offset="0.8135" stop-color="#00edc1"/><stop offset="0.8195" stop-color="#43eb0f"/><stop offset="0.8314" stop-color="#18ef28"/><stop offset="0.8551" stop-color="#05f440"/><stop offset="0.9976" stop-color="#00f546"/></linearGradient>
<linearGradient id="g172" gradientUnits="userSpaceOnUse" x1="537.2" y1="0" x2="705.6" y2="0"><stop offset="0.0000" stop-color="#00f546"/><stop offset="0.1366" stop-color="#04f441"/><stop offset="0.1603" stop-color="#14f02d"/><stop offset="0.1722" stop-color="#32eb12"/><stop offset="0.1781" stop-color="#00edc0"/><stop offset="0.2078" stop-color="#00e6f3"/><stop offset="0.3444" stop-color="#00e3ff"/><stop offset="0.4038" stop-color="#0073fe"/><stop offset="0.4751" stop-color="#0067fd"/><stop offset="0.4869" stop-color="#005afb"/><stop offset="0.4929" stop-color="#002cea"/><stop offset="0.5048" stop-color="#002cea"/><stop offset="0.5107" stop-color="#0057fa"/><stop offset="0.5226" stop-color="#0065fc"/><stop offset="0.5998" stop-color="#0078ff"/><stop offset="0.6591" stop-color="#00e4fd"/><stop offset="0.7898" stop-color="#00e6f1"/><stop offset="0.8195" stop-color="#00edbf"/><stop offset="0.8254" stop-color="#2beb14"/><stop offset="0.8432" stop-color="#0cf236"/><stop offset="0.8610" stop-color="#04f441"/><stop offset="0.9976" stop-color="#00f546"/></linearGradient>
<linearGradient id="g173" gradientUnits="userSpaceOnUse" x1="537.2" y1="0" x2="705.6" y2="0"><stop offset="0.0000" stop-color="#00f546"/><stop offset="0.1366" stop-color="#05f440"/><stop offset="0.1603" stop-color="#17ef29"/><stop offset="0.1722" stop-color="#41eb10"/><stop offset="0.1781" stop-color="#00edc1"/><stop offset="0.2078" stop-color="#00e5f6"/><stop offset="0.3444" stop-color="#00e2ff"/><stop offset="0.4038" stop-color="#0073fe"/><stop offset="0.4751" stop-color="#0067fd"/><stop offset="0.4869" stop-color="#005afb"/><stop offset="0.4929" stop-color="#002cea"/><stop offset="0.5048" stop-color="#002cea"/><stop offset="0.5107" stop-color="#0057fa"/><stop offset="0.5226" stop-color="#0065fc"/><stop offset="0.5998" stop-color="#0077ff"/><stop offset="0.6591" stop-color="#00e4fe"/><stop offset="0.7898" stop-color="#00e6f4"/><stop offset="0.8195" stop-color="#00edc0"/><stop offset="0.8254" stop-color="#39eb11"/><stop offset="0.8373" stop-color="#16f02b"/><stop offset="0.8610" stop-color="#04f441"/><stop offset="0.9976" stop-color="#00f546"/></linearGradient>
<linearGradient id="g174" gradientUnits="userSpaceOnUse" x1="537.2" y1="0" x2="705.6" y2="0"><stop offset="0.0000" stop-color="#00f546"/><stop offset="0.1306" stop-color="#04f441"/><stop offset="0.1544" stop-color="#12f02f"/><stop offset="0.1663" stop-color="#29eb14"/><stop offset="0.1722" stop-color="#00edbf"/><stop offset="0.2019" stop-color="#00e6f0"/><stop offset="0.3385" stop-color="#00e4fd"/><stop offset="0.4038" stop-color="#0072fe"/><stop offset="0.4751" stop-color="#0067fd"/><stop offset="0.4869" stop-color="#005afb"/><stop offset="0.4929" stop-color="#002cea"/><stop offset="0.5048" stop-color="#002cea"/><stop offset="0.5107" stop-color="#0057fa"/><stop offset="0.5285" stop-color="#0069fd"/><stop offset="0.5998" stop-color="#0076ff"/><stop offset="0.6591" stop-color="#00e4ff"/><stop offset="0.7898" stop-color="#00e5f7"/><stop offset="0.8195" stop-color="#00edc2"/><stop offset="0.8254" stop-color="#49eb0e"/><stop offset="0.8314" stop-color="#25ec17"/><stop offset="0.8551" stop-color="#08f33d"/><stop offset="0.9976" stop-color="#00f546"/></linearGradient>
<linearGradient id="g175" gradientUnits="userSpaceOnUse" x1="537.2" y1="0" x2="705.6" y2="0"><stop offset="0.0000" stop-color="#00f546"/><stop offset="0.1306" stop-color="#04f441"/><stop offset="0.1544" stop-color="#15f02c"/><stop offset="0.1663" stop-color="#37eb12"/><stop offset="0.1722" stop-color="#00edc0"/><stop offset="0.2019" stop-color="#00e6f4"/><stop offset="0.3385" stop-color="#00e4fe"/><stop offset="0.3979" stop-color="#0077ff"/><stop offset="0.4751" stop-color="#0067fd"/><stop offset="0.4869" stop-color="#005afb"/><stop offset="0.4929" stop-color="#002cea"/><stop offset="0.5048" stop-color="#002cea"/><stop offset="0.5107" stop-color="#0057fa"/><stop offset="0.5285" stop-color="#0069fd"/><stop offset="0.5998" stop-color="#0075ff"/><stop offset="0.6591" stop-color="#00e3ff"/><stop offset="0.7957" stop-color="#00e6f2"/><stop offset="0.8254" stop-color="#00edc0"/><stop offset="0.8314" stop-color="#2feb13"/><stop offset="0.8432" stop-color="#14f02e"/><stop offset="0.8670" stop-color="#04f441"/><stop offset="0.9976" stop-color="#00f546"/></linearGradient>
<linearGradient id="g176" gradientUnits="userSpaceOnUse" x1="537.2" y1="0" x2="705.6" y2="0"><stop offset="0.0000" stop-color="#00f546"/><stop offset="0.1366" stop-color="#07f33d"/><stop offset="0.1603" stop-color="#25ec18"/><stop offset="0.1663" stop-color="#47eb0f"/><stop offset="0.1722" stop-color="#00edc2"/><stop offset="0.2019" stop-color="#00e5f7"/><stop offset="0.3385" stop-color="#00e4ff"/><stop offset="0.3979" stop-color="#0076ff"/><stop offset="0.4751" stop-color="#0067fd"/><stop offset="0.4869" stop-color="#005afb"/><stop offset="0.4929" stop-color="#002cea"/><stop offset="0.5048" stop-color="#002cea"/><stop offset="0.5107" stop-color="#0057fa"/><stop offset="0.5285" stop-color="#0069fd"/><stop offset="0.5998" stop-color="#0074fe"/><stop offset="0.6651" stop-color="#00e4fc"/><stop offset="0.7957" stop-color="#00e5f5"/><stop offset="0.8254" stop-color="#00edc1"/><stop offset="0.8314" stop-color="#3eeb10"/><stop offset="0.8432" stop-color="#17ef2a"/><stop offset="0.8670" stop-color="#05f440"/><stop offset="0.9976" stop-color="#00f546"/></linearGradient>
<linearGradient id="g177" gradientUnits="userSpaceOnUse" x1="537.2" y1="0" x2="705.6" y2="0"><stop offset="0.0000" stop-color="#00f546"/><stop offset="0.1247" stop-color="#04f441"/><stop offset="0.1485" stop-color="#13f02e"/><stop offset="0.1603" stop-color="#2deb13"/><stop offset="0.1663" stop-color="#00edc0"/><stop offset="0.1960" stop-color="#00e6f2"/><stop offset="0.3385" stop-color="#00e3ff"/><stop offset="0.3979" stop-color="#0075ff"/><stop offset="0.4751" stop-color="#0067fd"/><stop offset="0.4869" stop-color="#005afb"/><stop offset="0.4929" stop-color="#002cea"/><stop offset="0.5048" stop-color="#002cea"/><stop offset="0.5107" stop-color="#0057fa"/><stop offset="0.5285" stop-color="#0069fd"/><stop offset="0.5998" stop-color="#0073fe"/><stop offset="0.6651" stop-color="#00e4fd"/><stop offset="0.7957" stop-color="#00e5f8"/><stop offset="0.8314" stop-color="#00edbf"/><stop offset="0.8373" stop-color="#27eb15"/><stop offset="0.8492" stop-color="#12f130"/><stop offset="0.8729" stop-color="#04f442"/><stop offset="0.9976" stop-color="#00f546"/></linearGradient>
<linearGradient id="g178" gradientUnits="userSpaceOnUse" x1="537.2" y1="0" x2="705.6" y2="0"><stop offset="0.0000" stop-color="#00f546"/><stop offset="0.1306" stop-color="#07f33e"/><stop offset="0.1485" stop-color="#16ef2a"/><stop offset="0.1603" stop-color="#3ceb11"/><stop offset="0.1663" stop-color="#00edc1"/><stop offset="0.1960" stop-color="#00e5f5"/><stop offset="0.3325" stop-color="#00e4fd"/><stop offset="0.3979" stop-color="#0074fe"/><stop offset="0.4751" stop-color="#0067fd"/><stop offset="0.4869" stop-color="#005afb"/><stop offset="0.4929" stop-color="#002cea"/><stop offset="0.5048" stop-color="#002cea"/><stop offset="0.5107" stop-color="#0057fa"/><stop offset="0.5285" stop-color="#0069fd"/><stop offset="0.6057" stop-color="#0079ff"/><stop offset="0.6651" stop-color="#00e4fe"/><stop offset="0.8017" stop-color="#00e6f3"/><stop offset="0.8314" stop-color="#00edc0"/><stop offset="0.8373" stop-color="#34eb12"/><stop offset="0.8492" stop-color="#15f02c"/><stop offset="0.8729" stop-color="#04f441"/><stop offset="0.9976" stop-color="#00f546"/></linearGradient>
<linearGradient id="g179" gradientUnits="userSpaceOnUse" x1="537.2" y1="0" x2="705.6" y2="0"><stop offset="0.0000" stop-color="#00f546"/><stop offset="0.1188" stop-color="#03f442"/><stop offset="0.1544" stop-color="#27eb16"/><stop offset="0.1603" stop-color="#00edbf"/><stop offset="0.1960" stop-color="#00e5f8"/><stop offset="0.3325" stop-color="#00e4fd"/><stop offset="0.3979" stop-color="#0074fe"/><stop offset="0.4751" stop-color="#0067fd"/><stop offset="0.4869" stop-color="#005afb"/><stop offset="0.4929" stop-color="#002cea"/><stop offset="0.5048" stop-color="#002cea"/><stop offset="0.5107" stop-color="#0057fa"/><stop offset="0.5285" stop-color="#0069fd"/><stop offset="0.6057" stop-color="#0078ff"/><stop offset="0.6651" stop-color="#00e4ff"/><stop offset="0.8017" stop-color="#00e5f6"/><stop offset="0.8314" stop-color="#00edc1"/><stop offset="0.8373" stop-color="#44eb0f"/><stop offset="0.8432" stop-color="#24ec19"/><stop offset="0.8670" stop-color="#07f33d"/><stop offset="0.9976" stop-color="#00f546"/></linearGradient>
<linearGradient id="g180" gradientUnits="userSpaceOnUse" x1="537.2" y1="0" x2="705.6" y2="0"><stop offset="0.0000" stop-color="#00f546"/><stop offset="0.1188" stop-color="#04f441"/><stop offset="0.1425" stop-color="#14f02d"/><stop offset="0.1544" stop-color="#32eb12"/><stop offset="0.1603" stop-color="#00edc0"/><stop offset="0.1900" stop-color="#00e6f3"/><stop offset="0.3325" stop-color="#00e4fe"/><stop offset="0.3979" stop-color="#0073fe"/><stop offset="0.4751" stop-color="#0067fd"/><stop offset="0.4869" stop-color="#005afb"/><stop offset="0.4929" stop-color="#002cea"/><stop offset="0.5048" stop-color="#002cea"/><stop offset="0.5107" stop-color="#0057fa"/><stop offset="0.5285" stop-color="#0069fd"/><stop offset="0.6057" stop-color="#0077ff"/><stop offset="0.6651" stop-color="#00e3ff"/><stop offset="0.8076" stop-color="#00e6f1"/><stop offset="0.8373" stop-color="#00edbf"/><stop offset="0.8432" stop-color="#2beb14"/><stop offset="0.8610" stop-color="#0cf236"/><stop offset="0.8789" stop-color="#04f441"/><stop offset="0.9976" stop-color="#00f546"/></linearGradient>
<linearGradient id="g181" gradientUnits="userSpaceOnUse" x1="537.2" y1="0" x2="705.6" y2="0"><stop offset="0.0000" stop-color="#00f546"/><stop offset="0.1247" stop-color="#07f33d"/><stop offset="0.1485" stop-color="#23ec1a"/><stop offset="0.1544" stop-color="#41eb10"/><stop offset="0.1603" stop-color="#00edc1"/><stop offset="0.1960" stop-color="#00e5fb"/><stop offset="0.3325" stop-color="#00e4ff"/><stop offset="0.3979" stop-color="#0072fe"/><stop offset="0.4751" stop-color="#0067fd"/><stop offset="0.4869" stop-color="#005afb"/><stop offset="0.4929" stop-color="#002cea"/><stop offset="0.5048" stop-color="#002cea"/><stop offset="0.5107" stop-color="#0057fa"/><stop offset="0.5285" stop-color="#0069fd"/><stop offset="0.6057" stop-color="#0076ff"/><stop offset="0.6710" stop-color="#00e4fd"/><stop offset="0.8076" stop-color="#00e6f4"/><stop offset="0.8373" stop-color="#00edc0"/><stop offset="0.8432" stop-color="#39eb11"/><stop offset="0.8551" stop-color="#16f02b"/><stop offset="0.8729" stop-color="#07f33e"/><stop offset="0.9976" stop-color="#00f546"/></linearGradient>
<linearGradient id="g182" gradientUnits="userSpaceOnUse" x1="537.2" y1="0" x2="705.6" y2="0"><stop offset="0.0000" stop-color="#00f546"/><stop offset="0.1128" stop-color="#04f441"/><stop offset="0.1485" stop-color="#2beb13"/><stop offset="0.1544" stop-color="#00edbf"/><stop offset="0.1960" stop-color="#00e5fb"/><stop offset="0.3325" stop-color="#00e3ff"/><stop offset="0.3919" stop-color="#0077ff"/><stop offset="0.4751" stop-color="#0067fd"/><stop offset="0.4869" stop-color="#005afb"/><stop offset="0.4929" stop-color="#002cea"/><stop offset="0.5048" stop-color="#002cea"/><stop offset="0.5107" stop-color="#0057fa"/><stop offset="0.5285" stop-color="#0069fd"/><stop offset="0.6057" stop-color="#0075ff"/><stop offset="0.6710" stop-color="#00e4fe"/><stop offset="0.8076" stop-color="#00e5f8"/><stop offset="0.8432" stop-color="#00edbf"/><stop offset="0.8492" stop-color="#26eb16"/><stop offset="0.8848" stop-color="#03f442"/><stop offset="0.9976" stop-color="#00f546"/></linearGradient>
<linearGradient id="g183" gradientUnits="userSpaceOnUse" x1="537.2" y1="0" x2="705.6" y2="0"><stop offset="0.0000" stop-color="#00f546"/><stop offset="0.1188" stop-color="#07f33d"/><stop offset="0.1366" stop-color="#17ef2a"/><stop offset="0.1485" stop-color="#3eeb10"/><stop offset="0.1544" stop-color="#00edc1"/><stop offset="0.1900" stop-color="#00e5fa"/><stop offset="0.3325" stop-color="#00e1ff"/><stop offset="0.3919" stop-color="#0076ff"/><stop offset="0.4751" stop-color="#0067fd"/><stop offset="0.4869" stop-color="#005afb"/><stop offset="0.4929" stop-color="#002cea"/><stop offset="0.5048" stop-color="#002cea"/><stop offset="0.5107" stop-color="#0057fa"/><stop offset="0.5285" stop-color="#0069fd"/><stop offset="0.6057" stop-color="#0074fe"/><stop offset="0.6710" stop-color="#00e4fe"/><stop offset="0.8076" stop-color="#00e5fa"/><stop offset="0.8432" stop-color="#00edc0"/><stop offset="0.8492" stop-color="#36eb12"/><stop offset="0.8610" stop-color="#15f02c"/><stop offset="0.8789" stop-color="#06f33e"/><stop offset="0.9976" stop-color="#00f546"/></linearGradient>
<linearGradient id="g184" gradientUnits="userSpaceOnUse" x1="537.2" y1="0" x2="705.6" y2="0"><stop offset="0.0000" stop-color="#00f546"/><stop offset="0.1069" stop-color="#04f441"/><stop offset="0.1306" stop-color="#12f02f"/><stop offset="0.1425" stop-color="#2aeb14"/><stop offset="0.1485" stop-color="#00edbf"/><stop offset="0.1900" stop-color="#00e5fb"/><stop offset="0.3266" stop-color="#00e4fe"/><stop offset="0.3919" stop-color="#0075ff"/><stop offset="0.4751" stop-color="#0067fd"/><stop offset="0.4869" stop-color="#005afb"/><stop offset="0.4929" stop-color="#002cea"/><stop offset="0.5048" stop-color="#002cea"/><stop offset="0.5107" stop-color="#0057fa"/><stop offset="0.5285" stop-color="#0069fd"/><stop offset="0.6057" stop-color="#0073fe"/><stop offset="0.6710" stop-color="#00e4ff"/><stop offset="0.8076" stop-color="#00e5fb"/><stop offset="0.8432" stop-color="#00edc2"/><stop offset="0.8492" stop-color="#4aeb0e"/><stop offset="0.8551" stop-color="#26ec17"/><stop offset="0.8789" stop-color="#08f33d"/><stop offset="0.9976" stop-color="#00f546"/></linearGradient>
<linearGradient id="g185" gradientUnits="userSpaceOnUse" x1="537.2" y1="0" x2="705.6" y2="0"><stop offset="0.0000" stop-color="#00f546"/><stop offset="0.1128" stop-color="#07f33e"/><stop offset="0.1306" stop-color="#16ef2a"/><stop offset="0.1425" stop-color="#3beb11"/><stop offset="0.1485" stop-color="#00edc1"/><stop offset="0.1841" stop-color="#00e5fa"/><stop offset="0.3266" stop-color="#00e4ff"/><stop offset="0.3919" stop-color="#0075ff"/><stop offset="0.4751" stop-color="#0067fd"/><stop offset="0.4869" stop-color="#005afb"/><stop offset="0.4929" stop-color="#002cea"/><stop offset="0.5048" stop-color="#002cea"/><stop offset="0.5107" stop-color="#0057fa"/><stop offset="0.5285" stop-color="#0069fd"/><stop offset="0.6116" stop-color="#0079ff"/><stop offset="0.6710" stop-color="#00e2ff"/><stop offset="0.8135" stop-color="#00e5fa"/><stop offset="0.8492" stop-color="#00edc0"/><stop offset="0.8551" stop-color="#34eb12"/><stop offset="0.8670" stop-color="#14f02c"/><stop offset="0.8848" stop-color="#06f33e"/><stop offset="0.9976" stop-color="#00f546"/></linearGradient>
<linearGradient id="g186" gradientUnits="userSpaceOnUse" x1="537.2" y1="0" x2="705.6" y2="0"><stop offset="0.0000" stop-color="#00f546"/><stop offset="0.1010" stop-color="#04f441"/><stop offset="0.1247" stop-color="#12f130"/><stop offset="0.1366" stop-color="#28eb14"/><stop offset="0.1425" stop-color="#00edbf"/><stop offset="0.1841" stop-color="#00e5fb"/><stop offset="0.3266" stop-color="#00e3ff"/><stop offset="0.3919" stop-color="#0074fe"/><stop offset="0.4691" stop-color="#006bfd"/><stop offset="0.4869" stop-color="#005afb"/><stop offset="0.4929" stop-color="#002cea"/><stop offset="0.5048" stop-color="#002cea"/><stop offset="0.5107" stop-color="#0057fa"/><stop offset="0.5285" stop-color="#0069fd"/><stop offset="0.6116" stop-color="#0078ff"/><stop offset="0.6710" stop-color="#00e1ff"/><stop offset="0.8135" stop-color="#00e5fb"/><stop offset="0.8492" stop-color="#00edc2"/><stop offset="0.8551" stop-color="#47eb0f"/><stop offset="0.8610" stop-color="#25ec18"/><stop offset="0.8848" stop-color="#07f33d"/><stop offset="0.9976" stop-color="#00f546"/></linearGradient>
<linearGradient id="g187" gradientUnits="userSpaceOnUse" x1="537.2" y1="0" x2="705.6" y2="0"><stop offset="0.0000" stop-color="#00f546"/><stop offset="0.1069" stop-color="#07f33e"/><stop offset="0.1247" stop-color="#16f02b"/><stop offset="0.1366" stop-color="#39eb11"/><stop offset="0.1425" stop-color="#00edc0"/><stop offset="0.1781" stop-color="#00e5fa"/><stop offset="0.3266" stop-color="#00e2ff"/><stop offset="0.3919" stop-color="#0073fe"/><stop offset="0.4691" stop-color="#006bfd"/><stop offset="0.4869" stop-color="#005afb"/><stop offset="0.4929" stop-color="#002cea"/><stop offset="0.5048" stop-color="#002cea"/><stop offset="0.5107" stop-color="#0057fa"/><stop offset="0.5285" stop-color="#0069fd"/><stop offset="0.6116" stop-color="#0077ff"/><stop offset="0.6770" stop-color="#00e4fe"/><stop offset="0.8195" stop-color="#00e5f9"/><stop offset="0.8551" stop-color="#00edc0"/><stop offset="0.8610" stop-color="#32eb12"/><stop offset="0.8729" stop-color="#14f02d"/><stop offset="0.8967" stop-color="#04f441"/><stop offset="0.9976" stop-color="#00f546"/></linearGradient>
<linearGradient id="g188" gradientUnits="userSpaceOnUse" x1="537.2" y1="0" x2="705.6" y2="0"><stop offset="0.0000" stop-color="#00f546"/><stop offset="0.1010" stop-color="#05f43f"/><stop offset="0.1306" stop-color="#27eb15"/><stop offset="0.1366" stop-color="#00edbf"/><stop offset="0.1781" stop-color="#00e5fb"/><stop offset="0.3207" stop-color="#00e4fd"/><stop offset="0.3919" stop-color="#0072fe"/><stop offset="0.4691" stop-color="#006bfd"/><stop offset="0.4869" stop-color="#005afb"/><stop offset="0.4929" stop-color="#002cea"/><stop offset="0.5048" stop-color="#002cea"/><stop offset="0.5107" stop-color="#0057fa"/><stop offset="0.5285" stop-color="#0069fd"/><stop offset="0.6116" stop-color="#0076ff"/><stop offset="0.6770" stop-color="#00e4ff"/><stop offset="0.8195" stop-color="#00e5fb"/><stop offset="0.8551" stop-color="#00edc2"/><stop offset="0.8610" stop-color="#45eb0f"/><stop offset="0.8670" stop-color="#24ec19"/><stop offset="0.8907" stop-color="#07f33d"/><stop offset="0.9976" stop-color="#00f546"/></linearGradient>
<linearGradient id="g189" gradientUnits="userSpaceOnUse" x1="537.2" y1="0" x2="705.6" y2="0"><stop offset="0.0000" stop-color="#00f546"/><stop offset="0.1010" stop-color="#06f33e"/><stop offset="0.1188" stop-color="#15f02b"/><stop offset="0.1306" stop-color="#37eb11"/><stop offset="0.1366" stop-color="#00edc0"/><stop offset="0.1663" stop-color="#00e6f4"/><stop offset="0.3266" stop-color="#00dfff"/><stop offset="0.3919" stop-color="#0072fe"/><stop offset="0.4632" stop-color="#006dfd"/><stop offset="0.4988" stop-color="#0050f9"/><stop offset="0.5344" stop-color="#006cfd"/><stop offset="0.6116" stop-color="#0075ff"/><stop offset="0.6770" stop-color="#00e3ff"/><stop offset="0.8254" stop-color="#00e5f9"/><stop offset="0.8610" stop-color="#00edc0"/><stop offset="0.8670" stop-color="#30eb13"/><stop offset="0.8789" stop-color="#14f02d"/><stop offset="0.9026" stop-color="#04f441"/><stop offset="0.9976" stop-color="#00f546"/></linearGradient>
<linearGradient id="g190" gradientUnits="userSpaceOnUse" x1="537.2" y1="0" x2="705.6" y2="0"><stop offset="0.0000" stop-color="#00f546"/><stop offset="0.0950" stop-color="#05f440"/><stop offset="0.1247" stop-color="#26eb16"/><stop offset="0.1306" stop-color="#00edbf"/><stop offset="0.1663" stop-color="#00e5f7"/><stop offset="0.3266" stop-color="#00deff"/><stop offset="0.3919" stop-color="#0071fe"/><stop offset="0.4632" stop-color="#006dfd"/><stop offset="0.4988" stop-color="#0050f9"/><stop offset="0.5344" stop-color="#006cfd"/><stop offset="0.6116" stop-color="#0074fe"/><stop offset="0.6770" stop-color="#00e2ff"/><stop offset="0.8254" stop-color="#00e5fb"/><stop offset="0.8610" stop-color="#00edc1"/><stop offset="0.8670" stop-color="#43eb10"/><stop offset="0.8729" stop-color="#23ec1a"/><stop offset="0.8967" stop-color="#07f33d"/><stop offset="0.9976" stop-color="#00f546"/></linearGradient>
<linearGradient id="g191" gradientUnits="userSpaceOnUse" x1="537.2" y1="0" x2="705.6" y2="0"><stop offset="0.0000" stop-color="#00f546"/><stop offset="0.0950" stop-color="#06f33e"/><stop offset="0.1128" stop-color="#14f02d"/><stop offset="0.1247" stop-color="#32eb12"/><stop offset="0.1306" stop-color="#00edc0"/><stop offset="0.1603" stop-color="#00e6f3"/><stop offset="0.3207" stop-color="#00e3ff"/><stop offset="0.3919" stop-color="#0071fe"/><stop offset="0.4632" stop-color="#006dfd"/><stop offset="0.4988" stop-color="#0050f9"/><stop offset="0.5344" stop-color="#006cfd"/><stop offset="0.6116" stop-color="#0073fe"/><stop offset="0.6829" stop-color="#00e4fd"/><stop offset="0.8254" stop-color="#00e5fb"/><stop offset="0.8670" stop-color="#00edbf"/><stop offset="0.8729" stop-color="#2beb14"/><stop offset="0.9026" stop-color="#06f43f"/><stop offset="0.9976" stop-color="#00f546"/></linearGradient>
<linearGradient id="g192" gradientUnits="userSpaceOnUse" x1="537.2" y1="0" x2="705.6" y2="0"><stop offset="0.0000" stop-color="#00f546"/><stop offset="0.0950" stop-color="#07f33d"/><stop offset="0.1188" stop-color="#23ec1a"/><stop offset="0.1247" stop-color="#42eb10"/><stop offset="0.1306" stop-color="#00edc1"/><stop offset="0.1603" stop-color="#00e5f6"/><stop offset="0.3207" stop-color="#00e2ff"/><stop offset="0.3860" stop-color="#0075ff"/><stop offset="0.4632" stop-color="#006dfd"/><stop offset="0.4988" stop-color="#0050f9"/><stop offset="0.5344" stop-color="#006cfd"/><stop offset="0.6116" stop-color="#0073fe"/><stop offset="0.6829" stop-color="#00e4fe"/><stop offset="0.8314" stop-color="#00e5fa"/><stop offset="0.8670" stop-color="#00edc0"/><stop offset="0.8729" stop-color="#39eb11"/><stop offset="0.8848" stop-color="#16f02b"/><stop offset="0.9026" stop-color="#07f33e"/><stop offset="0.9976" stop-color="#00f546"/></linearGradient>
<linearGradient id="g193" gradientUnits="userSpaceOnUse" x1="537.2" y1="0" x2="705.6" y2="0"><stop offset="0.0000" stop-color="#00f546"/><stop offset="0.0891" stop-color="#06f43f"/><stop offset="0.1188" stop-color="#2aeb14"/><stop offset="0.1247" stop-color="#00edbf"/><stop offset="0.1603" stop-color="#00e5f8"/><stop offset="0.3207" stop-color="#00e0ff"/><stop offset="0.3919" stop-color="#0070fe"/><stop offset="0.5998" stop-color="#006efe"/><stop offset="0.6235" stop-color="#007fff"/><stop offset="0.6829" stop-color="#00e4ff"/><stop offset="0.8314" stop-color="#00e5fb"/><stop offset="0.8670" stop-color="#00edc2"/><stop offset="0.8729" stop-color="#4aeb0e"/><stop offset="0.8789" stop-color="#26ec17"/><stop offset="0.9026" stop-color="#08f33c"/><stop offset="0.9976" stop-color="#00f546"/></linearGradient>
<linearGradient id="g194" gradientUnits="userSpaceOnUse" x1="537.2" y1="0" x2="705.6" y2="0"><stop offset="0.0000" stop-color="#00f546"/><stop offset="0.0891" stop-color="#06f33e"/><stop offset="0.1069" stop-color="#15f02b"/><stop offset="0.1188" stop-color="#38eb11"/><stop offset="0.1247" stop-color="#00edc0"/><stop offset="0.1544" stop-color="#00e6f4"/><stop offset="0.3207" stop-color="#00dfff"/><stop offset="0.3919" stop-color="#006ffe"/><stop offset="0.5998" stop-color="#006efe"/><stop offset="0.6235" stop-color="#007eff"/><stop offset="0.6829" stop-color="#00e3ff"/><stop offset="0.8373" stop-color="#00e5f9"/><stop offset="0.8729" stop-color="#00edc0"/><stop offset="0.8789" stop-color="#30eb13"/><stop offset="0.9086" stop-color="#06f43f"/><stop offset="0.9976" stop-color="#00f546"/></linearGradient>
<linearGradient id="g195" gradientUnits="userSpaceOnUse" x1="537.2" y1="0" x2="705.6" y2="0"><stop offset="0.0000" stop-color="#00f546"/><stop offset="0.0891" stop-color="#08f33d"/><stop offset="0.1128" stop-color="#25ec17"/><stop offset="0.1188" stop-color="#49eb0f"/><stop offset="0.1247" stop-color="#00edc2"/><stop offset="0.1544" stop-color="#00e5f7"/><stop offset="0.3147" stop-color="#00e4ff"/><stop offset="0.3919" stop-color="#006ffe"/><stop offset="0.5998" stop-color="#006efe"/><stop offset="0.6235" stop-color="#007dff"/><stop offset="0.6829" stop-color="#00e2ff"/><stop offset="0.8373" stop-color="#00e5fb"/><stop offset="0.8729" stop-color="#00edc1"/><stop offset="0.8789" stop-color="#40eb10"/><stop offset="0.8848" stop-color="#22ec1b"/><stop offset="0.9086" stop-color="#07f33d"/><stop offset="0.9976" stop-color="#00f546"/></linearGradient>
<linearGradient id="g196" gradientUnits="userSpaceOnUse" x1="537.2" y1="0" x2="705.6" y2="0"><stop offset="0.0000" stop-color="#00f546"/><stop offset="0.0831" stop-color="#06f43f"/><stop offset="0.1128" stop-color="#30eb13"/><stop offset="0.1188" stop-color="#00edc0"/><stop offset="0.1544" stop-color="#00e5f9"/><stop offset="0.3147" stop-color="#00e3ff"/><stop offset="0.3919" stop-color="#006ffe"/><stop offset="0.5998" stop-color="#006efe"/><stop offset="0.6235" stop-color="#007cff"/><stop offset="0.6888" stop-color="#00e4fe"/><stop offset="0.8373" stop-color="#00e5fb"/><stop offset="0.8789" stop-color="#00edbf"/><stop offset="0.8848" stop-color="#28eb14"/><stop offset="0.9145" stop-color="#05f43f"/><stop offset="0.9976" stop-color="#00f546"/></linearGradient>
<linearGradient id="g197" gradientUnits="userSpaceOnUse" x1="537.2" y1="0" x2="705.6" y2="0"><stop offset="0.0000" stop-color="#00f546"/><stop offset="0.0831" stop-color="#07f33e"/><stop offset="0.1010" stop-color="#16ef2a"/><stop offset="0.1128" stop-color="#3ceb11"/><stop offset="0.1188" stop-color="#00edc1"/><stop offset="0.1485" stop-color="#00e5f5"/><stop offset="0.3147" stop-color="#00e1ff"/><stop offset="0.3919" stop-color="#006efe"/><stop offset="0.6057" stop-color="#006efe"/><stop offset="0.6295" stop-color="#0083ff"/><stop offset="0.6888" stop-color="#00e4ff"/><stop offset="0.8432" stop-color="#00e5fa"/><stop offset="0.8789" stop-color="#00edc0"/><stop offset="0.8848" stop-color="#34eb12"/><stop offset="0.8967" stop-color="#15f02c"/><stop offset="0.9145" stop-color="#06f33e"/><stop offset="0.9976" stop-color="#00f546"/></linearGradient>
<linearGradient id="g198" gradientUnits="userSpaceOnUse" x1="537.2" y1="0" x2="705.6" y2="0"><stop offset="0.0000" stop-color="#00f546"/><stop offset="0.0891" stop-color="#0bf238"/><stop offset="0.1069" stop-color="#26ec17"/><stop offset="0.1128" stop-color="#4aeb0e"/><stop offset="0.1188" stop-color="#00edc2"/><stop offset="0.1485" stop-color="#00e5f7"/><stop offset="0.3147" stop-color="#00e0ff"/><stop offset="0.3682" stop-color="#0085ff"/><stop offset="0.3919" stop-color="#006efe"/><stop offset="0.6057" stop-color="#006efe"/><stop offset="0.6295" stop-color="#0081ff"/><stop offset="0.6888" stop-color="#00e3ff"/><stop offset="0.8432" stop-color="#00e5fb"/><stop offset="0.8789" stop-color="#00edc1"/><stop offset="0.8848" stop-color="#41eb10"/><stop offset="0.8907" stop-color="#23ec1a"/><stop offset="0.9145" stop-color="#07f33d"/><stop offset="0.9976" stop-color="#00f546"/></linearGradient>
<linearGradient id="g199" gradientUnits="userSpaceOnUse" x1="537.2" y1="0" x2="705.6" y2="0"><stop offset="0.0000" stop-color="#00f546"/><stop offset="0.0772" stop-color="#06f43f"/><stop offset="0.1069" stop-color="#2eeb13"/><stop offset="0.1128" stop-color="#00edc0"/><stop offset="0.1485" stop-color="#00e5f9"/><stop offset="0.3147" stop-color="#00dfff"/><stop offset="0.3860" stop-color="#0070fe"/><stop offset="0.6057" stop-color="#006efe"/><stop offset="0.6295" stop-color="#0080ff"/><stop offset="0.6888" stop-color="#00e2ff"/><stop offset="0.8432" stop-color="#00e5fb"/><stop offset="0.8848" stop-color="#00edbf"/><stop offset="0.8907" stop-color="#28eb15"/><stop offset="0.9204" stop-color="#05f43f"/><stop offset="0.9976" stop-color="#00f546"/></linearGradient>
<linearGradient id="g200" gradientUnits="userSpaceOnUse" x1="537.2" y1="0" x2="705.6" y2="0"><stop offset="0.0000" stop-color="#00f546"/><stop offset="0.0772" stop-color="#07f33e"/><stop offset="0.0950" stop-color="#16f02b"/><stop offset="0.1069" stop-color="#3aeb11"/><stop offset="0.1128" stop-color="#00edc0"/><stop offset="0.1425" stop-color="#00e5f4"/><stop offset="0.3088" stop-color="#00e3ff"/><stop offset="0.3860" stop-color="#0070fe"/><stop offset="0.6057" stop-color="#006ffe"/><stop offset="0.6295" stop-color="#007fff"/><stop offset="0.6948" stop-color="#00e4fd"/><stop offset="0.8492" stop-color="#00e5f9"/><stop offset="0.8848" stop-color="#00edc0"/><stop offset="0.8907" stop-color="#32eb12"/><stop offset="0.9026" stop-color="#14f02d"/><stop offset="0.9204" stop-color="#06f33e"/><stop offset="0.9976" stop-color="#00f546"/></linearGradient>
<linearGradient id="g201" gradientUnits="userSpaceOnUse" x1="537.2" y1="0" x2="705.6" y2="0"><stop offset="0.0000" stop-color="#00f546"/><stop offset="0.0831" stop-color="#0bf238"/><stop offset="0.1010" stop-color="#25ec18"/><stop offset="0.1069" stop-color="#48eb0f"/><stop offset="0.1128" stop-color="#00edc2"/><stop offset="0.1425" stop-color="#00e5f7"/><stop offset="0.3088" stop-color="#00e2ff"/><stop offset="0.3860" stop-color="#0070fe"/><stop offset="0.6057" stop-color="#006ffe"/><stop offset="0.6295" stop-color="#007eff"/><stop offset="0.6948" stop-color="#00e4fe"/><stop offset="0.8492" stop-color="#00e5fa"/><stop offset="0.8848" stop-color="#00edc1"/><stop offset="0.8907" stop-color="#3feb10"/><stop offset="0.8967" stop-color="#22ec1b"/><stop offset="0.9145" stop-color="#0af239"/><stop offset="0.9976" stop-color="#00f546"/></linearGradient>
<linearGradient id="g202" gradientUnits="userSpaceOnUse" x1="537.2" y1="0" x2="705.6" y2="0"><stop offset="0.0000" stop-color="#00f546"/><stop offset="0.0713" stop-color="#06f33e"/><stop offset="0.0891" stop-color="#14f02d"/><stop offset="0.1010" stop-color="#33eb12"/><stop offset="0.1069" stop-color="#00edc0"/><stop offset="0.1366" stop-color="#00e6f3"/><stop offset="0.3088" stop-color="#00e1ff"/><stop offset="0.3860" stop-color="#0071fe"/><stop offset="0.6057" stop-color="#0070fe"/><stop offset="0.6295" stop-color="#007eff"/><stop offset="0.6948" stop-color="#00e4ff"/><stop offset="0.8492" stop-color="#00e5fb"/><stop offset="0.8907" stop-color="#00edbf"/><stop offset="0.8967" stop-color="#2ceb13"/><stop offset="0.9264" stop-color="#06f43f"/><stop offset="0.9976" stop-color="#00f546"/></linearGradient>
<linearGradient id="g203" gradientUnits="userSpaceOnUse" x1="537.2" y1="0" x2="705.6" y2="0"><stop offset="0.0000" stop-color="#00f546"/><stop offset="0.0653" stop-color="#05f43f"/><stop offset="0.0950" stop-color="#27eb16"/><stop offset="0.1010" stop-color="#00edbf"/><stop offset="0.1366" stop-color="#00e5f8"/><stop offset="0.3088" stop-color="#00e0ff"/><stop offset="0.3860" stop-color="#0071fe"/><stop offset="0.6057" stop-color="#0070fe"/><stop offset="0.6295" stop-color="#007dff"/><stop offset="0.6948" stop-color="#00e3ff"/><stop offset="0.8551" stop-color="#00e5fb"/><stop offset="0.8907" stop-color="#00edc1"/><stop offset="0.8967" stop-color="#43eb0f"/><stop offset="0.9026" stop-color="#24ec1a"/><stop offset="0.9204" stop-color="#0bf239"/><stop offset="0.9976" stop-color="#00f546"/></linearGradient>
<linearGradient id="g204" gradientUnits="userSpaceOnUse" x1="537.2" y1="0" x2="705.6" y2="0"><stop offset="0.0000" stop-color="#00f546"/><stop offset="0.0713" stop-color="#0af33a"/><stop offset="0.0891" stop-color="#20ed1e"/><stop offset="0.0950" stop-color="#38eb11"/><stop offset="0.1010" stop-color="#00edc0"/><stop offset="0.1306" stop-color="#00e6f4"/><stop offset="0.3088" stop-color="#00dfff"/><stop offset="0.3860" stop-color="#0072fe"/><stop offset="0.6057" stop-color="#0071fe"/><stop offset="0.6354" stop-color="#0085ff"/><stop offset="0.6948" stop-color="#00e2ff"/><stop offset="0.8610" stop-color="#00e5f9"/><stop offset="0.8967" stop-color="#00edc0"/><stop offset="0.9026" stop-color="#30eb13"/><stop offset="0.9323" stop-color="#06f43f"/><stop offset="0.9976" stop-color="#00f546"/></linearGradient>
<linearGradient id="g205" gradientUnits="userSpaceOnUse" x1="537.2" y1="0" x2="705.6" y2="0"><stop offset="0.0000" stop-color="#00f546"/><stop offset="0.0713" stop-color="#0bf238"/><stop offset="0.0891" stop-color="#25ec17"/><stop offset="0.0950" stop-color="#49eb0f"/><stop offset="0.1010" stop-color="#00edc2"/><stop offset="0.1306" stop-color="#00e5f7"/><stop offset="0.3029" stop-color="#00e3ff"/><stop offset="0.3860" stop-color="#0072fe"/><stop offset="0.6057" stop-color="#0072fe"/><stop offset="0.6295" stop-color="#007dff"/><stop offset="0.7007" stop-color="#00e4fd"/><stop offset="0.8610" stop-color="#00e5fa"/><stop offset="0.8967" stop-color="#00edc1"/><stop offset="0.9026" stop-color="#40eb10"/><stop offset="0.9086" stop-color="#22ec1b"/><stop offset="0.9264" stop-color="#0af239"/><stop offset="0.9976" stop-color="#00f546"/></linearGradient>
<linearGradient id="g206" gradientUnits="userSpaceOnUse" x1="537.2" y1="0" x2="705.6" y2="0"><stop offset="0.0000" stop-color="#00f546"/><stop offset="0.0594" stop-color="#06f43f"/><stop offset="0.0891" stop-color="#30eb13"/><stop offset="0.0950" stop-color="#00edc0"/><stop offset="0.1306" stop-color="#00e5f9"/><stop offset="0.3029" stop-color="#00e2ff"/><stop offset="0.3800" stop-color="#0076ff"/><stop offset="0.6116" stop-color="#0073fe"/><stop offset="0.6354" stop-color="#0084ff"/><stop offset="0.7007" stop-color="#00e4fe"/><stop offset="0.8610" stop-color="#00e5fb"/><stop offset="0.9026" stop-color="#00edbf"/><stop offset="0.9086" stop-color="#29eb14"/><stop offset="0.9382" stop-color="#05f43f"/><stop offset="0.9976" stop-color="#00f546"/></linearGradient>
<linearGradient id="g207" gradientUnits="userSpaceOnUse" x1="537.2" y1="0" x2="705.6" y2="0"><stop offset="0.0000" stop-color="#00f546"/><stop offset="0.0653" stop-color="#0af239"/><stop offset="0.0831" stop-color="#22ec1b"/><stop offset="0.0891" stop-color="#3feb10"/><stop offset="0.0950" stop-color="#00edc1"/><stop offset="0.1247" stop-color="#00e5f6"/><stop offset="0.3029" stop-color="#00e1ff"/><stop offset="0.3800" stop-color="#0076ff"/><stop offset="0.6116" stop-color="#0074fe"/><stop offset="0.6354" stop-color="#0084ff"/><stop offset="0.7007" stop-color="#00e4ff"/><stop offset="0.8670" stop-color="#00e5fa"/><stop offset="0.9026" stop-color="#00edc0"/><stop offset="0.9086" stop-color="#37eb11"/><stop offset="0.9145" stop-color="#20ed1e"/><stop offset="0.9323" stop-color="#0af33a"/><stop offset="0.9976" stop-color="#00f546"/></linearGradient>
<linearGradient id="g208" gradientUnits="userSpaceOnUse" x1="537.2" y1="0" x2="705.6" y2="0"><stop offset="0.0000" stop-color="#00f546"/><stop offset="0.0594" stop-color="#08f33c"/><stop offset="0.0831" stop-color="#29eb14"/><stop offset="0.0891" stop-color="#00edbf"/><stop offset="0.1247" stop-color="#00e5f8"/><stop offset="0.3029" stop-color="#00e0ff"/><stop offset="0.3800" stop-color="#0077ff"/><stop offset="0.6116" stop-color="#0076ff"/><stop offset="0.6354" stop-color="#0084ff"/><stop offset="0.7007" stop-color="#00e3ff"/><stop offset="0.8670" stop-color="#00e5fb"/><stop offset="0.9026" stop-color="#00edc2"/><stop offset="0.9086" stop-color="#49eb0f"/><stop offset="0.9145" stop-color="#25ec17"/><stop offset="0.9323" stop-color="#0bf238"/><stop offset="0.9976" stop-color="#00f546"/></linearGradient>
<linearGradient id="g209" gradientUnits="userSpaceOnUse" x1="537.2" y1="0" x2="705.6" y2="0"><stop offset="0.0000" stop-color="#00f546"/><stop offset="0.0594" stop-color="#0af33a"/><stop offset="0.0772" stop-color="#20ed1e"/><stop offset="0.0831" stop-color="#38eb11"/><stop offset="0.0891" stop-color="#00edc0"/><stop offset="0.1188" stop-color="#00e6f4"/><stop offset="0.2969" stop-color="#00e4ff"/><stop offset="0.3800" stop-color="#0078ff"/><stop offset="0.6116" stop-color="#0077ff"/><stop offset="0.6354" stop-color="#0084ff"/><stop offset="0.7067" stop-color="#00e4fd"/><stop offset="0.8729" stop-color="#00e5f9"/><stop offset="0.9086" stop-color="#00edc0"/><stop offset="0.9145" stop-color="#30eb13"/><stop offset="0.9382" stop-color="#09f33b"/><stop offset="0.9976" stop-color="#00f546"/></linearGradient>
<linearGradient id="g210" gradientUnits="userSpaceOnUse" x1="537.2" y1="0" x2="705.6" y2="0"><stop offset="0.0000" stop-color="#00f546"/><stop offset="0.0594" stop-color="#0bf238"/><stop offset="0.0772" stop-color="#26ec17"/><stop offset="0.0831" stop-color="#4aeb0e"/><stop offset="0.0891" stop-color="#00edc2"/><stop offset="0.1188" stop-color="#00e5f7"/><stop offset="0.2969" stop-color="#00e2ff"/><stop offset="0.3800" stop-color="#0079ff"/><stop offset="0.6116" stop-color="#0078ff"/><stop offset="0.6354" stop-color="#0084ff"/><stop offset="0.7067" stop-color="#00e4fe"/><stop offset="0.8729" stop-color="#00e5fb"/><stop offset="0.9086" stop-color="#00edc1"/><stop offset="0.9145" stop-color="#41eb10"/><stop offset="0.9204" stop-color="#23ec1b"/><stop offset="0.9382" stop-color="#0af239"/><stop offset="0.9976" stop-color="#00f546"/></linearGradient>
<linearGradient id="g211" gradientUnits="userSpaceOnUse" x1="537.2" y1="0" x2="705.6" y2="0"><stop offset="0.0000" stop-color="#00f546"/><stop offset="0.0534" stop-color="#09f33b"/><stop offset="0.0772" stop-color="#31eb13"/><stop offset="0.0831" stop-color="#00edc0"/><stop offset="0.1188" stop-color="#00e5f9"/><stop offset="0.2969" stop-color="#00e1ff"/><stop offset="0.3800" stop-color="#007aff"/><stop offset="0.6116" stop-color="#007aff"/><stop offset="0.6413" stop-color="#008bff"/><stop offset="0.7067" stop-color="#00e4ff"/><stop offset="0.8729" stop-color="#00e5fb"/><stop offset="0.9145" stop-color="#00edbf"/><stop offset="0.9204" stop-color="#2aeb14"/><stop offset="0.9442" stop-color="#08f33c"/><stop offset="0.9976" stop-color="#00f546"/></linearGradient>
<linearGradient id="g212" gradientUnits="userSpaceOnUse" x1="537.2" y1="0" x2="705.6" y2="0"><stop offset="0.0000" stop-color="#00f546"/><stop offset="0.0534" stop-color="#0af33a"/><stop offset="0.0713" stop-color="#20ed1e"/><stop offset="0.0772" stop-color="#38eb11"/><stop offset="0.0831" stop-color="#00edc0"/><stop offset="0.1188" stop-color="#00e5fa"/><stop offset="0.2969" stop-color="#00e0ff"/><stop offset="0.3800" stop-color="#007bff"/><stop offset="0.6116" stop-color="#007bff"/><stop offset="0.6413" stop-color="#008bff"/><stop offset="0.7067" stop-color="#00e3ff"/><stop offset="0.8789" stop-color="#00e5f9"/><stop offset="0.9145" stop-color="#00edc0"/><stop offset="0.9204" stop-color="#30eb13"/><stop offset="0.9442" stop-color="#09f33b"/><stop offset="0.9976" stop-color="#00f546"/></linearGradient>
<linearGradient id="g213" gradientUnits="userSpaceOnUse" x1="537.2" y1="0" x2="705.6" y2="0"><stop offset="0.0000" stop-color="#02f443"/><stop offset="0.0594" stop-color="#1eed20"/><stop offset="0.0653" stop-color="#2aeb14"/><stop offset="0.0772" stop-color="#77eb07"/><stop offset="0.0831" stop-color="#00edc1"/><stop offset="0.1128" stop-color="#00e5f5"/><stop offset="0.2910" stop-color="#00e3ff"/><stop offset="0.3800" stop-color="#007dff"/><stop offset="0.6116" stop-color="#007cff"/><stop offset="0.6413" stop-color="#008bff"/><stop offset="0.7126" stop-color="#00e4fe"/><stop offset="0.8789" stop-color="#00e5fa"/><stop offset="0.9145" stop-color="#00edc0"/><stop offset="0.9204" stop-color="#6deb09"/><stop offset="0.9323" stop-color="#26eb16"/><stop offset="0.9382" stop-color="#1cee23"/><stop offset="0.9976" stop-color="#02f443"/></linearGradient>
<linearGradient id="g214" gradientUnits="userSpaceOnUse" x1="537.2" y1="0" x2="705.6" y2="0"><stop offset="0.0000" stop-color="#02f443"/><stop offset="0.0356" stop-color="#0af239"/><stop offset="0.0594" stop-color="#20ed1f"/><stop offset="0.0653" stop-color="#2eeb13"/><stop offset="0.0772" stop-color="#80eb05"/><stop offset="0.0831" stop-color="#00edc2"/><stop offset="0.1128" stop-color="#00e5f7"/><stop offset="0.2910" stop-color="#00e2ff"/><stop offset="0.3741" stop-color="#0080ff"/><stop offset="0.6176" stop-color="#007eff"/><stop offset="0.6413" stop-color="#008bff"/><stop offset="0.7126" stop-color="#00e4ff"/><stop offset="0.8789" stop-color="#00e5fa"/><stop offset="0.9145" stop-color="#00edc1"/><stop offset="0.9204" stop-color="#75eb07"/><stop offset="0.9323" stop-color="#29eb14"/><stop offset="0.9382" stop-color="#1eee21"/><stop offset="0.9976" stop-color="#02f443"/></linearGradient>
<linearGradient id="g215" gradientUnits="userSpaceOnUse" x1="537.2" y1="0" x2="705.6" y2="0"><stop offset="0.0000" stop-color="#02f443"/><stop offset="0.0534" stop-color="#18ef27"/><stop offset="0.0653" stop-color="#33eb12"/><stop offset="0.0713" stop-color="#56eb0c"/><stop offset="0.0772" stop-color="#00edbf"/><stop offset="0.1128" stop-color="#00e5f8"/><stop offset="0.2910" stop-color="#00e1ff"/><stop offset="0.3741" stop-color="#0081ff"/><stop offset="0.6176" stop-color="#007fff"/><stop offset="0.6473" stop-color="#0092ff"/><stop offset="0.7126" stop-color="#00e3ff"/><stop offset="0.8789" stop-color="#00e5fb"/><stop offset="0.9145" stop-color="#00edc1"/><stop offset="0.9204" stop-color="#7deb06"/><stop offset="0.9323" stop-color="#2deb13"/><stop offset="0.9382" stop-color="#1fed1f"/><stop offset="0.9976" stop-color="#02f443"/></linearGradient>
<linearGradient id="g216" gradientUnits="userSpaceOnUse" x1="537.2" y1="0" x2="705.6" y2="0"><stop offset="0.0000" stop-color="#03f443"/><stop offset="0.0534" stop-color="#1aef26"/><stop offset="0.0653" stop-color="#37eb11"/><stop offset="0.0713" stop-color="#5deb0b"/><stop offset="0.0772" stop-color="#00edbf"/><stop offset="0.1128" stop-color="#00e5f8"/><stop offset="0.2850" stop-color="#00e4ff"/><stop offset="0.3741" stop-color="#0082ff"/><stop offset="0.6176" stop-color="#0081ff"/><stop offset="0.6473" stop-color="#0092ff"/><stop offset="0.7126" stop-color="#00e2ff"/><stop offset="0.8789" stop-color="#00e5fb"/><stop offset="0.9145" stop-color="#00edc2"/><stop offset="0.9204" stop-color="#86eb04"/><stop offset="0.9323" stop-color="#31eb12"/><stop offset="0.9382" stop-color="#21ed1d"/><stop offset="0.9620" stop-color="#0af239"/><stop offset="0.9976" stop-color="#02f443"/></linearGradient>
<linearGradient id="g217" gradientUnits="userSpaceOnUse" x1="537.2" y1="0" x2="705.6" y2="0"><stop offset="0.0000" stop-color="#03f443"/><stop offset="0.0534" stop-color="#1bee24"/><stop offset="0.0653" stop-color="#3deb11"/><stop offset="0.0713" stop-color="#64eb0a"/><stop offset="0.0772" stop-color="#00edc0"/><stop offset="0.1128" stop-color="#00e5f9"/><stop offset="0.2850" stop-color="#00e3ff"/><stop offset="0.3741" stop-color="#0083ff"/><stop offset="0.6176" stop-color="#0082ff"/><stop offset="0.6473" stop-color="#0092ff"/><stop offset="0.7185" stop-color="#00e4fe"/><stop offset="0.8789" stop-color="#00e5fb"/><stop offset="0.9204" stop-color="#00edbf"/><stop offset="0.9264" stop-color="#5beb0b"/><stop offset="0.9323" stop-color="#36eb12"/><stop offset="0.9442" stop-color="#19ef26"/><stop offset="0.9976" stop-color="#03f443"/></linearGradient>
<linearGradient id="g218" gradientUnits="userSpaceOnUse" x1="537.2" y1="0" x2="705.6" y2="0"><stop offset="0.0000" stop-color="#03f443"/><stop offset="0.0534" stop-color="#1cee23"/><stop offset="0.0594" stop-color="#26eb16"/><stop offset="0.0713" stop-color="#6ceb09"/><stop offset="0.0772" stop-color="#00edc0"/><stop offset="0.1128" stop-color="#00e5fa"/><stop offset="0.2850" stop-color="#00e2ff"/><stop offset="0.3741" stop-color="#0085ff"/><stop offset="0.6176" stop-color="#0084ff"/><stop offset="0.6473" stop-color="#0093ff"/><stop offset="0.7185" stop-color="#00e4ff"/><stop offset="0.8789" stop-color="#00e5fb"/><stop offset="0.9204" stop-color="#00edc0"/><stop offset="0.9264" stop-color="#62eb0a"/><stop offset="0.9323" stop-color="#3beb11"/><stop offset="0.9442" stop-color="#1bee25"/><stop offset="0.9976" stop-color="#03f443"/></linearGradient>
<linearGradient id="g219" gradientUnits="userSpaceOnUse" x1="537.2" y1="0" x2="705.6" y2="0"><stop offset="0.0000" stop-color="#03f442"/><stop offset="0.0534" stop-color="#1eee21"/><stop offset="0.0594" stop-color="#28eb14"/><stop offset="0.0713" stop-color="#74eb07"/><stop offset="0.0772" stop-color="#00edc1"/><stop offset="0.1069" stop-color="#00e5f5"/><stop offset="0.2850" stop-color="#00e1ff"/><stop offset="0.3741" stop-color="#0086ff"/><stop offset="0.6176" stop-color="#0085ff"/><stop offset="0.6473" stop-color="#0093ff"/><stop offset="0.7185" stop-color="#00e3ff"/><stop offset="0.8848" stop-color="#00e5fa"/><stop offset="0.9204" stop-color="#00edc0"/><stop offset="0.9264" stop-color="#6aeb09"/><stop offset="0.9382" stop-color="#26ec17"/><stop offset="0.9442" stop-color="#1cee23"/><stop offset="0.9976" stop-color="#03f443"/></linearGradient>
<linearGradient id="g220" gradientUnits="userSpaceOnUse" x1="537.2" y1="0" x2="705.6" y2="0"><stop offset="0.0000" stop-color="#03f442"/><stop offset="0.0534" stop-color="#1fed1f"/><stop offset="0.0594" stop-color="#2deb13"/><stop offset="0.0713" stop-color="#7deb06"/><stop offset="0.0772" stop-color="#00edc1"/><stop offset="0.1069" stop-color="#00e5f6"/><stop offset="0.2791" stop-color="#00e4ff"/><stop offset="0.3741" stop-color="#0087ff"/><stop offset="0.6176" stop-color="#0087ff"/><stop offset="0.6473" stop-color="#0093ff"/><stop offset="0.7185" stop-color="#00e2ff"/><stop offset="0.8848" stop-color="#00e5fa"/><stop offset="0.9204" stop-color="#00edc1"/><stop offset="0.9264" stop-color="#72eb08"/><stop offset="0.9382" stop-color="#28eb14"/><stop offset="0.9442" stop-color="#1dee22"/><stop offset="0.9976" stop-color="#03f443"/></linearGradient>
<linearGradient id="g221" gradientUnits="userSpaceOnUse" x1="537.2" y1="0" x2="705.6" y2="0"><stop offset="0.0000" stop-color="#03f442"/><stop offset="0.0534" stop-color="#21ed1d"/><stop offset="0.0594" stop-color="#31eb12"/><stop offset="0.0713" stop-color="#86eb04"/><stop offset="0.0772" stop-color="#00edc2"/><stop offset="0.1069" stop-color="#00e5f7"/><stop offset="0.2791" stop-color="#00e3ff"/><stop offset="0.3741" stop-color="#0088ff"/><stop offset="0.6176" stop-color="#0088ff"/><stop offset="0.6473" stop-color="#0094ff"/><stop offset="0.7245" stop-color="#00e4fe"/><stop offset="0.8848" stop-color="#00e5fb"/><stop offset="0.9204" stop-color="#00edc1"/><stop offset="0.9264" stop-color="#7aeb06"/><stop offset="0.9382" stop-color="#2beb13"/><stop offset="0.9442" stop-color="#1fed20"/><stop offset="0.9976" stop-color="#03f442"/></linearGradient>
<linearGradient id="g222" gradientUnits="userSpaceOnUse" x1="537.2" y1="0" x2="705.6" y2="0"><stop offset="0.0000" stop-color="#03f442"/><stop offset="0.0475" stop-color="#19ef26"/><stop offset="0.0594" stop-color="#36eb12"/><stop offset="0.0653" stop-color="#5beb0c"/><stop offset="0.0713" stop-color="#00edbf"/><stop offset="0.1069" stop-color="#00e5f8"/><stop offset="0.2791" stop-color="#00e2ff"/><stop offset="0.3682" stop-color="#008bff"/><stop offset="0.6235" stop-color="#0089ff"/><stop offset="0.7245" stop-color="#00e4ff"/><stop offset="0.8848" stop-color="#00e5fb"/><stop offset="0.9204" stop-color="#00edc2"/><stop offset="0.9264" stop-color="#83eb05"/><stop offset="0.9382" stop-color="#30eb13"/><stop offset="0.9442" stop-color="#20ed1e"/><stop offset="0.9976" stop-color="#03f442"/></linearGradient>
<linearGradient id="g223" gradientUnits="userSpaceOnUse" x1="537.2" y1="0" x2="705.6" y2="0"><stop offset="0.0000" stop-color="#03f442"/><stop offset="0.0475" stop-color="#1aee25"/><stop offset="0.0594" stop-color="#39eb11"/><stop offset="0.0653" stop-color="#5feb0b"/><stop offset="0.0713" stop-color="#00edbf"/><stop offset="0.1069" stop-color="#00e5f9"/><stop offset="0.2791" stop-color="#00e1ff"/><stop offset="0.3682" stop-color="#008cff"/><stop offset="0.6235" stop-color="#008aff"/><stop offset="0.7245" stop-color="#00e3ff"/><stop offset="0.8848" stop-color="#00e5fb"/><stop offset="0.9264" stop-color="#00edbf"/><stop offset="0.9323" stop-color="#57eb0c"/><stop offset="0.9382" stop-color="#33eb12"/><stop offset="0.9501" stop-color="#19ef27"/><stop offset="0.9976" stop-color="#03f442"/></linearGradient>
<linearGradient id="g224" gradientUnits="userSpaceOnUse" x1="537.2" y1="0" x2="705.6" y2="0"><stop offset="0.0000" stop-color="#03f442"/><stop offset="0.0475" stop-color="#1aee25"/><stop offset="0.0594" stop-color="#3beb11"/><stop offset="0.0653" stop-color="#61eb0a"/><stop offset="0.0713" stop-color="#00edc0"/><stop offset="0.1069" stop-color="#00e5f9"/><stop offset="0.2732" stop-color="#00e3ff"/><stop offset="0.3682" stop-color="#008dff"/><stop offset="0.6235" stop-color="#008bff"/><stop offset="0.7304" stop-color="#00e4fe"/><stop offset="0.8848" stop-color="#00e5fb"/><stop offset="0.9264" stop-color="#00edbf"/><stop offset="0.9323" stop-color="#59eb0c"/><stop offset="0.9382" stop-color="#34eb12"/><stop offset="0.9501" stop-color="#19ef27"/><stop offset="0.9976" stop-color="#03f442"/></linearGradient>
<linearGradient id="g225" gradientUnits="userSpaceOnUse" x1="537.2" y1="0" x2="705.6" y2="0"><stop offset="0.0000" stop-color="#03f442"/><stop offset="0.0475" stop-color="#1bee25"/><stop offset="0.0594" stop-color="#3ceb11"/><stop offset="0.0653" stop-color="#64eb0a"/><stop offset="0.0713" stop-color="#00edc0"/><stop offset="0.1069" stop-color="#00e5f9"/><stop offset="0.2732" stop-color="#00e2ff"/><stop offset="0.3682" stop-color="#008dff"/><stop offset="0.6235" stop-color="#008cff"/><stop offset="0.7304" stop-color="#00e4ff"/><stop offset="0.8848" stop-color="#00e5fb"/><stop offset="0.9264" stop-color="#00edbf"/><stop offset="0.9323" stop-color="#5beb0c"/><stop offset="0.9382" stop-color="#36eb12"/><stop offset="0.9501" stop-color="#19ef26"/><stop offset="0.9976" stop-color="#03f442"/></linearGradient>
<linearGradient id="g226" gradientUnits="userSpaceOnUse" x1="537.2" y1="0" x2="705.6" y2="0"><stop offset="0.0000" stop-color="#03f442"/><stop offset="0.0475" stop-color="#1bee24"/><stop offset="0.0594" stop-color="#3eeb10"/><stop offset="0.0653" stop-color="#66eb0a"/><stop offset="0.0713" stop-color="#00edc0"/><stop offset="0.1069" stop-color="#00e5f9"/><stop offset="0.2732" stop-color="#00e2ff"/><stop offset="0.3682" stop-color="#008eff"/><stop offset="0.6235" stop-color="#008dff"/><stop offset="0.7304" stop-color="#00e4ff"/><stop offset="0.8848" stop-color="#00e5fb"/><stop offset="0.9264" stop-color="#00edbf"/><stop offset="0.9323" stop-color="#5deb0b"/><stop offset="0.9382" stop-color="#37eb11"/><stop offset="0.9501" stop-color="#1aef26"/><stop offset="0.9976" stop-color="#03f442"/></linearGradient>
<linearGradient id="g227" gradientUnits="userSpaceOnUse" x1="537.2" y1="0" x2="705.6" y2="0"><stop offset="0.0000" stop-color="#03f442"/><stop offset="0.0475" stop-color="#1cee24"/><stop offset="0.0534" stop-color="#25ec17"/><stop offset="0.0653" stop-color="#68eb09"/><stop offset="0.0713" stop-color="#00edc0"/><stop offset="0.1069" stop-color="#00e5fa"/><stop offset="0.2732" stop-color="#00e1ff"/><stop offset="0.3682" stop-color="#008fff"/><stop offset="0.6235" stop-color="#008eff"/><stop offset="0.6532" stop-color="#009aff"/><stop offset="0.7304" stop-color="#00e3ff"/><stop offset="0.8848" stop-color="#00e5fb"/><stop offset="0.9264" stop-color="#00edbf"/><stop offset="0.9323" stop-color="#5feb0b"/><stop offset="0.9382" stop-color="#39eb11"/><stop offset="0.9501" stop-color="#1aef26"/><stop offset="0.9976" stop-color="#03f442"/></linearGradient>
<linearGradient id="g228" gradientUnits="userSpaceOnUse" x1="537.2" y1="0" x2="705.6" y2="0"><stop offset="0.0000" stop-color="#03f442"/><stop offset="0.0475" stop-color="#1cee23"/><stop offset="0.0534" stop-color="#26ec17"/><stop offset="0.0653" stop-color="#6aeb09"/><stop offset="0.0713" stop-color="#00edc0"/><stop offset="0.1069" stop-color="#00e5fa"/><stop offset="0.2672" stop-color="#00e3ff"/><stop offset="0.3682" stop-color="#008fff"/><stop offset="0.6235" stop-color="#008fff"/><stop offset="0.7363" stop-color="#00e4fe"/><stop offset="0.8848" stop-color="#00e5fb"/><stop offset="0.9264" stop-color="#00edbf"/><stop offset="0.9323" stop-color="#61eb0b"/><stop offset="0.9382" stop-color="#3aeb11"/><stop offset="0.9501" stop-color="#1aee25"/><stop offset="0.9976" stop-color="#03f442"/></linearGradient>
<linearGradient id="g229" gradientUnits="userSpaceOnUse" x1="537.2" y1="0" x2="705.6" y2="0"><stop offset="0.0000" stop-color="#03f442"/><stop offset="0.0475" stop-color="#1cee23"/><stop offset="0.0534" stop-color="#26eb16"/><stop offset="0.0653" stop-color="#6deb09"/><stop offset="0.0713" stop-color="#00edc0"/><stop offset="0.1069" stop-color="#00e5fa"/><stop offset="0.2672" stop-color="#00e2ff"/><stop offset="0.3682" stop-color="#0090ff"/><stop offset="0.6235" stop-color="#0090ff"/><stop offset="0.6591" stop-color="#009eff"/><stop offset="0.7363" stop-color="#00e4ff"/><stop offset="0.8848" stop-color="#00e5fb"/><stop offset="0.9264" stop-color="#00edc0"/><stop offset="0.9323" stop-color="#63eb0a"/><stop offset="0.9382" stop-color="#3ceb11"/><stop offset="0.9501" stop-color="#1bee25"/><stop offset="0.9976" stop-color="#03f442"/></linearGradient>
<linearGradient id="g230" gradientUnits="userSpaceOnUse" x1="537.2" y1="0" x2="705.6" y2="0"><stop offset="0.0000" stop-color="#03f442"/><stop offset="0.0475" stop-color="#1dee22"/><stop offset="0.0534" stop-color="#27eb15"/><stop offset="0.0653" stop-color="#6feb08"/><stop offset="0.0713" stop-color="#00edc0"/><stop offset="0.1069" stop-color="#00e5fa"/><stop offset="0.2672" stop-color="#00e1ff"/><stop offset="0.3622" stop-color="#0092ff"/><stop offset="0.6235" stop-color="#0090ff"/><stop offset="0.6591" stop-color="#009dff"/><stop offset="0.7363" stop-color="#00e3ff"/><stop offset="0.8907" stop-color="#00e5f9"/><stop offset="0.9264" stop-color="#00edc0"/><stop offset="0.9323" stop-color="#65eb0a"/><stop offset="0.9382" stop-color="#3deb10"/><stop offset="0.9501" stop-color="#1bee24"/><stop offset="0.9976" stop-color="#03f442"/></linearGradient>
<linearGradient id="g231" gradientUnits="userSpaceOnUse" x1="537.2" y1="0" x2="705.6" y2="0"><stop offset="0.0000" stop-color="#04f442"/><stop offset="0.0475" stop-color="#1dee22"/><stop offset="0.0534" stop-color="#28eb15"/><stop offset="0.0653" stop-color="#71eb08"/><stop offset="0.0713" stop-color="#00edc0"/><stop offset="0.1010" stop-color="#00e5f5"/><stop offset="0.2613" stop-color="#00e4ff"/><stop offset="0.3622" stop-color="#0092ff"/><stop offset="0.6235" stop-color="#0090ff"/><stop offset="0.6591" stop-color="#009dff"/><stop offset="0.7363" stop-color="#00e2ff"/><stop offset="0.8907" stop-color="#00e5fa"/><stop offset="0.9264" stop-color="#00edc0"/><stop offset="0.9323" stop-color="#67eb09"/><stop offset="0.9442" stop-color="#25ec18"/><stop offset="0.9501" stop-color="#1bee24"/><stop offset="0.9976" stop-color="#03f442"/></linearGradient>
<linearGradient id="g232" gradientUnits="userSpaceOnUse" x1="537.2" y1="0" x2="705.6" y2="0"><stop offset="0.0000" stop-color="#04f442"/><stop offset="0.0475" stop-color="#1eee21"/><stop offset="0.0534" stop-color="#28eb14"/><stop offset="0.0653" stop-color="#74eb07"/><stop offset="0.0713" stop-color="#00edc1"/><stop offset="0.1010" stop-color="#00e5f5"/><stop offset="0.2613" stop-color="#00e3ff"/><stop offset="0.3622" stop-color="#0092ff"/><stop offset="0.6295" stop-color="#0091ff"/><stop offset="0.7423" stop-color="#00e4fe"/><stop offset="0.8907" stop-color="#00e5fa"/><stop offset="0.9264" stop-color="#00edc0"/><stop offset="0.9323" stop-color="#6aeb09"/><stop offset="0.9442" stop-color="#26ec17"/><stop offset="0.9501" stop-color="#1cee23"/><stop offset="0.9976" stop-color="#03f442"/></linearGradient>
<linearGradient id="g233" gradientUnits="userSpaceOnUse" x1="537.2" y1="0" x2="705.6" y2="0"><stop offset="0.0000" stop-color="#04f442"/><stop offset="0.0475" stop-color="#1eee21"/><stop offset="0.0534" stop-color="#29eb14"/><stop offset="0.0653" stop-color="#76eb07"/><stop offset="0.0713" stop-color="#00edc1"/><stop offset="0.1010" stop-color="#00e5f5"/><stop offset="0.2613" stop-color="#00e2ff"/><stop offset="0.3622" stop-color="#0091ff"/><stop offset="0.6295" stop-color="#0091ff"/><stop offset="0.7423" stop-color="#00e4ff"/><stop offset="0.8907" stop-color="#00e5fa"/><stop offset="0.9264" stop-color="#00edc0"/><stop offset="0.9323" stop-color="#6ceb09"/><stop offset="0.9442" stop-color="#26eb16"/><stop offset="0.9501" stop-color="#1cee23"/><stop offset="0.9976" stop-color="#03f442"/></linearGradient>
<linearGradient id="g234" gradientUnits="userSpaceOnUse" x1="537.2" y1="0" x2="705.6" y2="0"><stop offset="0.0000" stop-color="#04f441"/><stop offset="0.0475" stop-color="#1eed20"/><stop offset="0.0534" stop-color="#2beb14"/><stop offset="0.0653" stop-color="#79eb07"/><stop offset="0.0713" stop-color="#00edc1"/><stop offset="0.1010" stop-color="#00e5f6"/><stop offset="0.2613" stop-color="#00e1ff"/><stop offset="0.3622" stop-color="#0091ff"/><stop offset="0.6295" stop-color="#0091ff"/><stop offset="0.7423" stop-color="#00e3ff"/><stop offset="0.8907" stop-color="#00e5fa"/><stop offset="0.9264" stop-color="#00edc0"/><stop offset="0.9323" stop-color="#6eeb08"/><stop offset="0.9442" stop-color="#27eb16"/><stop offset="0.9501" stop-color="#1dee22"/><stop offset="0.9976" stop-color="#03f442"/></linearGradient>
<linearGradient id="g235" gradientUnits="userSpaceOnUse" x1="537.2" y1="0" x2="705.6" y2="0"><stop offset="0.0000" stop-color="#04f441"/><stop offset="0.0475" stop-color="#1fed20"/><stop offset="0.0534" stop-color="#2ceb13"/><stop offset="0.0653" stop-color="#7beb06"/><stop offset="0.0713" stop-color="#00edc1"/><stop offset="0.1010" stop-color="#00e5f6"/><stop offset="0.2553" stop-color="#00e3ff"/><stop offset="0.3622" stop-color="#0091ff"/><stop offset="0.6295" stop-color="#0091ff"/><stop offset="0.7482" stop-color="#00e4fe"/><stop offset="0.8907" stop-color="#00e5fa"/><stop offset="0.9264" stop-color="#00edc0"/><stop offset="0.9323" stop-color="#71eb08"/><stop offset="0.9442" stop-color="#27eb15"/><stop offset="0.9501" stop-color="#1dee22"/><stop offset="0.9976" stop-color="#04f442"/></linearGradient>
<linearGradient id="g236" gradientUnits="userSpaceOnUse" x1="537.2" y1="0" x2="705.6" y2="0"><stop offset="0.0000" stop-color="#04f441"/><stop offset="0.0475" stop-color="#1fed1f"/><stop offset="0.0534" stop-color="#2deb13"/><stop offset="0.0653" stop-color="#7eeb06"/><stop offset="0.0713" stop-color="#00edc2"/><stop offset="0.1010" stop-color="#00e5f6"/><stop offset="0.2553" stop-color="#00e2ff"/><stop offset="0.3622" stop-color="#0091ff"/><stop offset="0.6295" stop-color="#0091ff"/><stop offset="0.7482" stop-color="#00e4ff"/><stop offset="0.8907" stop-color="#00e5fa"/><stop offset="0.9264" stop-color="#00edc1"/><stop offset="0.9323" stop-color="#73eb07"/><stop offset="0.9442" stop-color="#28eb14"/><stop offset="0.9501" stop-color="#1dee21"/><stop offset="0.9976" stop-color="#04f442"/></linearGradient>
<linearGradient id="g237" gradientUnits="userSpaceOnUse" x1="537.2" y1="0" x2="705.6" y2="0"><stop offset="0.0000" stop-color="#04f441"/><stop offset="0.0475" stop-color="#20ed1e"/><stop offset="0.0534" stop-color="#2feb13"/><stop offset="0.0653" stop-color="#81eb05"/><stop offset="0.0713" stop-color="#00edc2"/><stop offset="0.1010" stop-color="#00e5f7"/><stop offset="0.2553" stop-color="#00e2ff"/><stop offset="0.3622" stop-color="#0091ff"/><stop offset="0.6295" stop-color="#0091ff"/><stop offset="0.6651" stop-color="#009dff"/><stop offset="0.7482" stop-color="#00e3ff"/><stop offset="0.8907" stop-color="#00e5fa"/><stop offset="0.9264" stop-color="#00edc1"/><stop offset="0.9323" stop-color="#76eb07"/><stop offset="0.9442" stop-color="#29eb14"/><stop offset="0.9501" stop-color="#1eee21"/><stop offset="0.9976" stop-color="#04f442"/></linearGradient>
<linearGradient id="g238" gradientUnits="userSpaceOnUse" x1="537.2" y1="0" x2="705.6" y2="0"><stop offset="0.0000" stop-color="#04f441"/><stop offset="0.0475" stop-color="#20ed1f"/><stop offset="0.0534" stop-color="#2eeb13"/><stop offset="0.0653" stop-color="#80eb05"/><stop offset="0.0713" stop-color="#00edc2"/><stop offset="0.1010" stop-color="#00e5f7"/><stop offset="0.2494" stop-color="#00e4ff"/><stop offset="0.3563" stop-color="#0092ff"/><stop offset="0.6295" stop-color="#0091ff"/><stop offset="0.6651" stop-color="#009dff"/><stop offset="0.7482" stop-color="#00e3ff"/><stop offset="0.8907" stop-color="#00e5fa"/><stop offset="0.9264" stop-color="#00edc1"/><stop offset="0.9323" stop-color="#75eb07"/><stop offset="0.9442" stop-color="#29eb14"/><stop offset="0.9501" stop-color="#1eee21"/><stop offset="0.9976" stop-color="#04f442"/></linearGradient>
<linearGradient id="g239" gradientUnits="userSpaceOnUse" x1="537.2" y1="0" x2="705.6" y2="0"><stop offset="0.0000" stop-color="#04f441"/><stop offset="0.0475" stop-color="#1fed1f"/><stop offset="0.0534" stop-color="#2ceb13"/><stop offset="0.0653" stop-color="#7ceb06"/><stop offset="0.0713" stop-color="#00edc1"/><stop offset="0.1010" stop-color="#00e5f6"/><stop offset="0.2494" stop-color="#00e3ff"/><stop offset="0.3563" stop-color="#0092ff"/><stop offset="0.6295" stop-color="#0091ff"/><stop offset="0.6651" stop-color="#009cff"/><stop offset="0.7542" stop-color="#00e4fe"/><stop offset="0.8907" stop-color="#00e5fa"/><stop offset="0.9264" stop-color="#00edc0"/><stop offset="0.9323" stop-color="#72eb08"/><stop offset="0.9442" stop-color="#28eb15"/><stop offset="0.9501" stop-color="#1dee22"/><stop offset="0.9976" stop-color="#04f442"/></linearGradient>
<linearGradient id="g240" gradientUnits="userSpaceOnUse" x1="537.2" y1="0" x2="705.6" y2="0"><stop offset="0.0000" stop-color="#04f441"/><stop offset="0.0475" stop-color="#1eed20"/><stop offset="0.0534" stop-color="#2aeb14"/><stop offset="0.0653" stop-color="#78eb07"/><stop offset="0.0713" stop-color="#00edc1"/><stop offset="0.1010" stop-color="#00e5f6"/><stop offset="0.2494" stop-color="#00e2ff"/><stop offset="0.3563" stop-color="#0092ff"/><stop offset="0.6354" stop-color="#0091ff"/><stop offset="0.7542" stop-color="#00e4ff"/><stop offset="0.8907" stop-color="#00e5fa"/><stop offset="0.9264" stop-color="#00edc0"/><stop offset="0.9323" stop-color="#6eeb08"/><stop offset="0.9442" stop-color="#27eb16"/><stop offset="0.9501" stop-color="#1dee22"/><stop offset="0.9976" stop-color="#03f442"/></linearGradient>
<linearGradient id="g241" gradientUnits="userSpaceOnUse" x1="537.2" y1="0" x2="705.6" y2="0"><stop offset="0.0000" stop-color="#04f442"/><stop offset="0.0475" stop-color="#1eee21"/><stop offset="0.0534" stop-color="#29eb14"/><stop offset="0.0653" stop-color="#75eb07"/><stop offset="0.0713" stop-color="#00edc1"/><stop offset="0.1010" stop-color="#00e5f5"/><stop offset="0.2494" stop-color="#00e1ff"/><stop offset="0.3563" stop-color="#0091ff"/><stop offset="0.6354" stop-color="#0091ff"/><stop offset="0.7542" stop-color="#00e3ff"/><stop offset="0.8907" stop-color="#00e5fa"/><stop offset="0.9264" stop-color="#00edc0"/><stop offset="0.9323" stop-color="#6beb09"/><stop offset="0.9442" stop-color="#26ec17"/><stop offset="0.9501" stop-color="#1cee23"/><stop offset="0.9976" stop-color="#03f442"/></linearGradient>
<linearGradient id="g242" gradientUnits="userSpaceOnUse" x1="537.2" y1="0" x2="705.6" y2="0"><stop offset="0.0000" stop-color="#04f442"/><stop offset="0.0475" stop-color="#1dee22"/><stop offset="0.0534" stop-color="#27eb15"/><stop offset="0.0653" stop-color="#71eb08"/><stop offset="0.0713" stop-color="#00edc0"/><stop offset="0.1010" stop-color="#00e5f4"/><stop offset="0.2435" stop-color="#00e3ff"/><stop offset="0.3563" stop-color="#0091ff"/><stop offset="0.6354" stop-color="#0091ff"/><stop offset="0.7542" stop-color="#00e2ff"/><stop offset="0.8907" stop-color="#00e5f9"/><stop offset="0.9264" stop-color="#00edc0"/><stop offset="0.9323" stop-color="#67eb09"/><stop offset="0.9442" stop-color="#25ec18"/><stop offset="0.9501" stop-color="#1bee24"/><stop offset="0.9976" stop-color="#03f442"/></linearGradient>
<linearGradient id="g243" gradientUnits="userSpaceOnUse" x1="537.2" y1="0" x2="705.6" y2="0"><stop offset="0.0000" stop-color="#03f442"/><stop offset="0.0475" stop-color="#1cee22"/><stop offset="0.0534" stop-color="#27eb16"/><stop offset="0.0653" stop-color="#6eeb08"/><stop offset="0.0713" stop-color="#00edc0"/><stop offset="0.1010" stop-color="#00e6f4"/><stop offset="0.2435" stop-color="#00e3ff"/><stop offset="0.3563" stop-color="#0091ff"/><stop offset="0.6354" stop-color="#0091ff"/><stop offset="0.7601" stop-color="#00e4ff"/><stop offset="0.8848" stop-color="#00e5fb"/><stop offset="0.9264" stop-color="#00edc0"/><stop offset="0.9323" stop-color="#64eb0a"/><stop offset="0.9382" stop-color="#3ceb11"/><stop offset="0.9501" stop-color="#1bee24"/><stop offset="0.9976" stop-color="#03f442"/></linearGradient>
<linearGradient id="g244" gradientUnits="userSpaceOnUse" x1="537.2" y1="0" x2="705.6" y2="0"><stop offset="0.0000" stop-color="#03f442"/><stop offset="0.0475" stop-color="#1cee23"/><stop offset="0.0534" stop-color="#26ec17"/><stop offset="0.0653" stop-color="#6aeb09"/><stop offset="0.0713" stop-color="#00edc0"/><stop offset="0.1010" stop-color="#00e6f3"/><stop offset="0.2435" stop-color="#00e2ff"/><stop offset="0.3563" stop-color="#0091ff"/><stop offset="0.6354" stop-color="#0091ff"/><stop offset="0.7601" stop-color="#00e3ff"/><stop offset="0.8848" stop-color="#00e5fb"/><stop offset="0.9264" stop-color="#00edbf"/><stop offset="0.9323" stop-color="#61eb0b"/><stop offset="0.9382" stop-color="#3aeb11"/><stop offset="0.9501" stop-color="#1aee25"/><stop offset="0.9976" stop-color="#03f442"/></linearGradient>
<linearGradient id="g245" gradientUnits="userSpaceOnUse" x1="537.2" y1="0" x2="705.6" y2="0"><stop offset="0.0000" stop-color="#03f442"/><stop offset="0.0475" stop-color="#1bee24"/><stop offset="0.0534" stop-color="#25ec18"/><stop offset="0.0653" stop-color="#67eb0a"/><stop offset="0.0713" stop-color="#00edc0"/><stop offset="0.1010" stop-color="#00e6f3"/><stop offset="0.2375" stop-color="#00e4ff"/><stop offset="0.3504" stop-color="#0092ff"/><stop offset="0.6354" stop-color="#0091ff"/><stop offset="0.7601" stop-color="#00e3ff"/><stop offset="0.8848" stop-color="#00e5fb"/><stop offset="0.9264" stop-color="#00edbf"/><stop offset="0.9323" stop-color="#5eeb0b"/><stop offset="0.9382" stop-color="#38eb11"/><stop offset="0.9501" stop-color="#1aef26"/><stop offset="0.9976" stop-color="#03f442"/></linearGradient>
<linearGradient id="g246" gradientUnits="userSpaceOnUse" x1="537.2" y1="0" x2="705.6" y2="0"><stop offset="0.0000" stop-color="#03f442"/><stop offset="0.0475" stop-color="#1bee25"/><stop offset="0.0594" stop-color="#3ceb11"/><stop offset="0.0653" stop-color="#64eb0a"/><stop offset="0.0713" stop-color="#00edc0"/><stop offset="0.1010" stop-color="#00e6f2"/><stop offset="0.2375" stop-color="#00e3ff"/><stop offset="0.3504" stop-color="#0092ff"/><stop offset="0.6354" stop-color="#0091ff"/><stop offset="0.7660" stop-color="#00e4fe"/><stop offset="0.8848" stop-color="#00e5fb"/><stop offset="0.9264" stop-color="#00edbf"/><stop offset="0.9323" stop-color="#5beb0c"/><stop offset="0.9382" stop-color="#36eb12"/><stop offset="0.9501" stop-color="#19ef26"/><stop offset="0.9976" stop-color="#03f442"/></linearGradient>
<linearGradient id="g247" gradientUnits="userSpaceOnUse" x1="537.2" y1="0" x2="705.6" y2="0"><stop offset="0.0000" stop-color="#03f442"/><stop offset="0.0475" stop-color="#1aee25"/><stop offset="0.0594" stop-color="#3aeb11"/><stop offset="0.0653" stop-color="#61eb0b"/><stop offset="0.0713" stop-color="#00edbf"/><stop offset="0.1010" stop-color="#00e6f1"/><stop offset="0.2375" stop-color="#00e2ff"/><stop offset="0.3504" stop-color="#0092ff"/><stop offset="0.6354" stop-color="#0091ff"/><stop offset="0.6710" stop-color="#009bff"/><stop offset="0.7660" stop-color="#00e4ff"/><stop offset="0.8848" stop-color="#00e5fb"/><stop offset="0.9264" stop-color="#00edbf"/><stop offset="0.9323" stop-color="#58eb0c"/><stop offset="0.9382" stop-color="#34eb12"/><stop offset="0.9501" stop-color="#19ef27"/><stop offset="0.9976" stop-color="#03f442"/></linearGradient>
<linearGradient id="g248" gradientUnits="userSpaceOnUse" x1="537.2" y1="0" x2="705.6" y2="0"><stop offset="0.0000" stop-color="#03f442"/><stop offset="0.0475" stop-color="#1aef26"/><stop offset="0.0594" stop-color="#38eb11"/><stop offset="0.0653" stop-color="#5deb0b"/><stop offset="0.0713" stop-color="#00edbf"/><stop offset="0.1010" stop-color="#00e6f1"/><stop offset="0.2375" stop-color="#00e1ff"/><stop offset="0.3504" stop-color="#0092ff"/><stop offset="0.6413" stop-color="#0091ff"/><stop offset="0.7660" stop-color="#00e3ff"/><stop offset="0.8848" stop-color="#00e5fb"/><stop offset="0.9204" stop-color="#00edc2"/><stop offset="0.9264" stop-color="#87eb04"/><stop offset="0.9382" stop-color="#32eb12"/><stop offset="0.9442" stop-color="#21ed1d"/><stop offset="0.9976" stop-color="#03f442"/></linearGradient>
<linearGradient id="g249" gradientUnits="userSpaceOnUse" x1="537.2" y1="0" x2="705.6" y2="0"><stop offset="0.0000" stop-color="#03f442"/><stop offset="0.0475" stop-color="#19ef27"/><stop offset="0.0594" stop-color="#36eb12"/><stop offset="0.0653" stop-color="#5aeb0c"/><stop offset="0.0713" stop-color="#00edbf"/><stop offset="0.1010" stop-color="#00e6f0"/><stop offset="0.2316" stop-color="#00e3ff"/><stop offset="0.3504" stop-color="#0091ff"/><stop offset="0.6413" stop-color="#0091ff"/><stop offset="0.7660" stop-color="#00e2ff"/><stop offset="0.8848" stop-color="#00e5fb"/><stop offset="0.9204" stop-color="#00edc2"/><stop offset="0.9264" stop-color="#83eb05"/><stop offset="0.9382" stop-color="#30eb13"/><stop offset="0.9442" stop-color="#20ed1e"/><stop offset="0.9976" stop-color="#03f442"/></linearGradient>
<linearGradient id="g250" gradientUnits="userSpaceOnUse" x1="537.2" y1="0" x2="705.6" y2="0"><stop offset="0.0000" stop-color="#03f442"/><stop offset="0.0475" stop-color="#19ef27"/><stop offset="0.0594" stop-color="#33eb12"/><stop offset="0.0653" stop-color="#57eb0c"/><stop offset="0.0713" stop-color="#00edbf"/><stop offset="0.1010" stop-color="#00e6ef"/><stop offset="0.2316" stop-color="#00e3ff"/><stop offset="0.3504" stop-color="#0091ff"/><stop offset="0.6413" stop-color="#0091ff"/><stop offset="0.7720" stop-color="#00e4ff"/><stop offset="0.8848" stop-color="#00e5fb"/><stop offset="0.9204" stop-color="#00edc2"/><stop offset="0.9264" stop-color="#7feb06"/><stop offset="0.9382" stop-color="#2eeb13"/><stop offset="0.9442" stop-color="#1fed1f"/><stop offset="0.9976" stop-color="#03f442"/></linearGradient>
<linearGradient id="g251" gradientUnits="userSpaceOnUse" x1="537.2" y1="0" x2="705.6" y2="0"><stop offset="0.0000" stop-color="#03f442"/><stop offset="0.0534" stop-color="#21ed1d"/><stop offset="0.0594" stop-color="#31eb12"/><stop offset="0.0713" stop-color="#87eb04"/><stop offset="0.0772" stop-color="#00edc2"/><stop offset="0.1010" stop-color="#00e6ef"/><stop offset="0.2316" stop-color="#00e2ff"/><stop offset="0.3504" stop-color="#0091ff"/><stop offset="0.6413" stop-color="#0091ff"/><stop offset="0.7720" stop-color="#00e3ff"/><stop offset="0.8848" stop-color="#00e5fb"/><stop offset="0.9204" stop-color="#00edc1"/><stop offset="0.9264" stop-color="#7beb06"/><stop offset="0.9382" stop-color="#2ceb13"/><stop offset="0.9442" stop-color="#1fed20"/><stop offset="0.9976" stop-color="#03f442"/></linearGradient>
<linearGradient id="g252" gradientUnits="userSpaceOnUse" x1="537.2" y1="0" x2="705.6" y2="0"><stop offset="0.0000" stop-color="#03f442"/><stop offset="0.0534" stop-color="#20ed1e"/><stop offset="0.0594" stop-color="#30eb13"/><stop offset="0.0713" stop-color="#83eb05"/><stop offset="0.0772" stop-color="#00edc2"/><stop offset="0.1010" stop-color="#00e6ee"/><stop offset="0.2257" stop-color="#00e4ff"/><stop offset="0.3504" stop-color="#0091ff"/><stop offset="0.6413" stop-color="#0091ff"/><stop offset="0.7720" stop-color="#00e3ff"/><stop offset="0.8848" stop-color="#00e5fa"/><stop offset="0.9204" stop-color="#00edc1"/><stop offset="0.9264" stop-color="#78eb07"/><stop offset="0.9382" stop-color="#2aeb14"/><stop offset="0.9442" stop-color="#1eed20"/><stop offset="0.9976" stop-color="#03f442"/></linearGradient>
<clipPath id="clipb"><rect x="537.2" y="51.6" width="168.4" height="167.6"/></clipPath>
<linearGradient id="gbox" x1="0" y1="0" x2="0" y2="1"><stop offset="0" stop-color="#d2d2d2"/><stop offset="1" stop-color="#c6c6c6"/></linearGradient>
<linearGradient id="cba" x1="0" y1="1" x2="0" y2="0"><stop offset="0" stop-color="#000008"/><stop offset="0.05" stop-color="#000040"/><stop offset="0.1" stop-color="#0020c0"/><stop offset="0.16" stop-color="#0060ff"/><stop offset="0.26" stop-color="#00e0f0"/><stop offset="0.38" stop-color="#00e070"/><stop offset="0.5" stop-color="#10e000"/><stop offset="0.64" stop-color="#b0ea00"/><stop offset="0.72" stop-color="#f0f000"/><stop offset="0.84" stop-color="#ff9a00"/><stop offset="1" stop-color="#e82020"/></linearGradient>
<linearGradient id="gtri" x1="0" y1="0" x2="0" y2="1"><stop offset="0" stop-color="#e9e9e9"/><stop offset="1" stop-color="#bdbdbd"/></linearGradient>
<linearGradient id="cbb" x1="0" y1="1" x2="0" y2="0"><stop offset="0" stop-color="#0000b0"/><stop offset="0.1" stop-color="#0040ff"/><stop offset="0.25" stop-color="#00d8ff"/><stop offset="0.38" stop-color="#00e890"/><stop offset="0.5" stop-color="#10e010"/><stop offset="0.64" stop-color="#a8ea00"/><stop offset="0.74" stop-color="#f4f000"/><stop offset="0.87" stop-color="#ff9000"/><stop offset="1" stop-color="#e82020"/></linearGradient>
<clipPath id="clipc"><rect x="63" y="314" width="587" height="244.6"/></clipPath>
</defs>
<rect x="74.0" y="51.00" width="170.20" height="1.05" fill="url(#g1)"/>
<rect x="74.0" y="52.00" width="170.20" height="1.05" fill="url(#g2)"/>
<rect x="74.0" y="53.00" width="170.20" height="1.05" fill="url(#g3)"/>
<rect x="74.0" y="54.00" width="170.20" height="1.05" fill="url(#g4)"/>
<rect x="74.0" y="55.00" width="170.20" height="1.05" fill="url(#g5)"/>
<rect x="74.0" y="56.00" width="170.20" height="1.05" fill="url(#g6)"/>
<rect x="74.0" y="57.00" width="170.20" height="1.05" fill="url(#g7)"/>
<rect x="74.0" y="58.00" width="170.20" height="1.05" fill="url(#g8)"/>
<rect x="74.0" y="59.00" width="170.20" height="1.05" fill="url(#g9)"/>
<rect x="74.0" y="60.00" width="170.20" height="1.05" fill="url(#g10)"/>
<rect x="74.0" y="61.00" width="170.20" height="1.05" fill="url(#g11)"/>
<rect x="74.0" y="62.00" width="170.20" height="1.05" fill="url(#g12)"/>
<rect x="74.0" y="63.00" width="170.20" height="1.05" fill="url(#g13)"/>
<rect x="74.0" y="64.00" width="170.20" height="1.05" fill="url(#g14)"/>
<rect x="74.0" y="65.00" width="170.20" height="1.05" fill="url(#g15)"/>
<rect x="74.0" y="66.00" width="170.20" height="1.05" fill="url(#g16)"/>
<rect x="74.0" y="67.00" width="170.20" height="1.05" fill="url(#g17)"/>
<rect x="74.0" y="68.00" width="170.20" height="1.05" fill="url(#g18)"/>
<rect x="74.0" y="69.00" width="170.20" height="1.05" fill="url(#g19)"/>
<rect x="74.0" y="70.00" width="170.20" height="1.05" fill="url(#g20)"/>
<rect x="74.0" y="71.00" width="170.20" height="1.05" fill="url(#g21)"/>
<rect x="74.0" y="72.00" width="170.20" height="1.05" fill="url(#g22)"/>
<rect x="74.0" y="73.00" width="170.20" height="1.05" fill="url(#g23)"/>
<rect x="74.0" y="74.00" width="170.20" height="1.05" fill="url(#g24)"/>
<rect x="74.0" y="75.00" width="170.20" height="1.05" fill="url(#g25)"/>
<rect x="74.0" y="76.00" width="170.20" height="1.05" fill="url(#g26)"/>
<rect x="74.0" y="77.00" width="170.20" height="1.05" fill="url(#g27)"/>
<rect x="74.0" y="78.00" width="170.20" height="1.05" fill="url(#g28)"/>
<rect x="74.0" y="79.00" width="170.20" height="1.05" fill="url(#g29)"/>
<rect x="74.0" y="80.00" width="170.20" height="1.05" fill="url(#g30)"/>
<rect x="74.0" y="81.00" width="170.20" height="1.05" fill="url(#g31)"/>
<rect x="74.0" y="82.00" width="170.20" height="1.05" fill="url(#g32)"/>
<rect x="74.0" y="83.00" width="170.20" height="1.05" fill="url(#g33)"/>
<rect x="74.0" y="84.00" width="170.20" height="1.05" fill="url(#g34)"/>
<rect x="74.0" y="85.00" width="170.20" height="1.05" fill="url(#g35)"/>
<rect x="74.0" y="86.00" width="170.20" height="1.05" fill="url(#g36)"/>
<rect x="74.0" y="87.00" width="170.20" height="1.05" fill="url(#g37)"/>
<rect x="74.0" y="88.00" width="170.20" height="1.05" fill="url(#g38)"/>
<rect x="74.0" y="89.00" width="170.20" height="1.05" fill="url(#g39)"/>
<rect x="74.0" y="90.00" width="170.20" height="1.05" fill="url(#g40)"/>
<rect x="74.0" y="91.00" width="170.20" height="1.05" fill="url(#g41)"/>
<rect x="74.0" y="92.00" width="170.20" height="1.05" fill="url(#g42)"/>
<rect x="74.0" y="93.00" width="170.20" height="1.05" fill="url(#g43)"/>
<rect x="74.0" y="94.00" width="170.20" height="1.05" fill="url(#g44)"/>
<rect x="74.0" y="95.00" width="170.20" height="1.05" fill="url(#g45)"/>
<rect x="74.0" y="96.00" width="170.20" height="1.05" fill="url(#g46)"/>
<rect x="74.0" y="97.00" width="170.20" height="1.05" fill="url(#g47)"/>
<rect x="74.0" y="98.00" width="170.20" height="1.05" fill="url(#g48)"/>
<rect x="74.0" y="99.00" width="170.20" height="1.05" fill="url(#g49)"/>
<rect x="74.0" y="100.00" width="170.20" height="1.05" fill="url(#g50)"/>
<rect x="74.0" y="101.00" width="170.20" height="1.05" fill="url(#g51)"/>
<rect x="74.0" y="102.00" width="170.20" height="1.05" fill="url(#g52)"/>
<rect x="74.0" y="103.00" width="170.20" height="1.05" fill="url(#g53)"/>
<rect x="74.0" y="104.00" width="170.20" height="1.05" fill="url(#g54)"/>
<rect x="74.0" y="105.00" width="170.20" height="1.05" fill="url(#g55)"/>
<rect x="74.0" y="106.00" width="170.20" height="1.05" fill="url(#g56)"/>
<rect x="74.0" y="107.00" width="170.20" height="1.05" fill="url(#g57)"/>
<rect x="74.0" y="108.00" width="170.20" height="1.05" fill="url(#g58)"/>
<rect x="74.0" y="109.00" width="170.20" height="1.05" fill="url(#g59)"/>
<rect x="74.0" y="110.00" width="170.20" height="1.05" fill="url(#g60)"/>
<rect x="74.0" y="111.00" width="170.20" height="1.05" fill="url(#g61)"/>
<rect x="74.0" y="112.00" width="170.20" height="1.05" fill="url(#g62)"/>
<rect x="74.0" y="113.00" width="170.20" height="1.05" fill="url(#g63)"/>
<rect x="74.0" y="114.00" width="170.20" height="1.05" fill="url(#g64)"/>
<rect x="74.0" y="115.00" width="170.20" height="1.05" fill="url(#g65)"/>
<rect x="74.0" y="116.00" width="170.20" height="1.05" fill="url(#g66)"/>
<rect x="74.0" y="117.00" width="170.20" height="1.05" fill="url(#g67)"/>
<rect x="74.0" y="118.00" width="170.20" height="1.05" fill="url(#g68)"/>
<rect x="74.0" y="119.00" width="170.20" height="1.05" fill="url(#g69)"/>
<rect x="74.0" y="120.00" width="170.20" height="1.05" fill="url(#g70)"/>
<rect x="74.0" y="121.00" width="170.20" height="1.05" fill="url(#g71)"/>
<rect x="74.0" y="122.00" width="170.20" height="1.05" fill="url(#g72)"/>
<rect x="74.0" y="123.00" width="170.20" height="1.05" fill="url(#g73)"/>
<rect x="74.0" y="124.00" width="170.20" height="1.05" fill="url(#g74)"/>
<rect x="74.0" y="125.00" width="170.20" height="1.05" fill="url(#g75)"/>
<rect x="74.0" y="126.00" width="170.20" height="1.05" fill="url(#g76)"/>
<rect x="74.0" y="127.00" width="170.20" height="1.05" fill="url(#g77)"/>
<rect x="74.0" y="128.00" width="170.20" height="1.05" fill="url(#g78)"/>
<rect x="74.0" y="129.00" width="170.20" height="1.05" fill="url(#g79)"/>
<rect x="74.0" y="130.00" width="170.20" height="1.05" fill="url(#g80)"/>
<rect x="74.0" y="131.00" width="170.20" height="1.05" fill="url(#g81)"/>
<rect x="74.0" y="132.00" width="170.20" height="1.05" fill="url(#g82)"/>
<rect x="74.0" y="133.00" width="170.20" height="1.05" fill="url(#g83)"/>
<rect x="74.0" y="134.00" width="170.20" height="1.05" fill="url(#g84)"/>
<rect x="74.0" y="135.00" width="170.20" height="1.05" fill="url(#g85)"/>
<rect x="74.0" y="136.00" width="170.20" height="1.05" fill="url(#g86)"/>
<rect x="74.0" y="137.00" width="170.20" height="1.05" fill="url(#g87)"/>
<rect x="74.0" y="138.00" width="170.20" height="1.05" fill="url(#g88)"/>
<rect x="74.0" y="139.00" width="170.20" height="1.05" fill="url(#g89)"/>
<rect x="74.0" y="140.00" width="170.20" height="1.05" fill="url(#g90)"/>
<rect x="74.0" y="141.00" width="170.20" height="1.05" fill="url(#g91)"/>
<rect x="74.0" y="142.00" width="170.20" height="1.05" fill="url(#g92)"/>
<rect x="74.0" y="143.00" width="170.20" height="1.05" fill="url(#g93)"/>
<rect x="74.0" y="144.00" width="170.20" height="1.05" fill="url(#g94)"/>
<rect x="74.0" y="145.00" width="170.20" height="1.05" fill="url(#g95)"/>
<rect x="74.0" y="146.00" width="170.20" height="1.05" fill="url(#g96)"/>
<rect x="74.0" y="147.00" width="170.20" height="1.05" fill="url(#g97)"/>
<rect x="74.0" y="148.00" width="170.20" height="1.05" fill="url(#g98)"/>
<rect x="74.0" y="149.00" width="170.20" height="1.05" fill="url(#g99)"/>
<rect x="74.0" y="150.00" width="170.20" height="1.05" fill="url(#g100)"/>
<rect x="74.0" y="151.00" width="170.20" height="1.05" fill="url(#g101)"/>
<rect x="74.0" y="152.00" width="170.20" height="1.05" fill="url(#g102)"/>
<rect x="74.0" y="153.00" width="170.20" height="1.05" fill="url(#g103)"/>
<rect x="74.0" y="154.00" width="170.20" height="1.05" fill="url(#g104)"/>
<rect x="74.0" y="155.00" width="170.20" height="1.05" fill="url(#g105)"/>
<rect x="74.0" y="156.00" width="170.20" height="1.05" fill="url(#g106)"/>
<rect x="74.0" y="157.00" width="170.20" height="1.05" fill="url(#g107)"/>
<rect x="74.0" y="158.00" width="170.20" height="1.05" fill="url(#g108)"/>
<rect x="74.0" y="159.00" width="170.20" height="1.05" fill="url(#g109)"/>
<rect x="74.0" y="160.00" width="170.20" height="1.05" fill="url(#g110)"/>
<rect x="74.0" y="161.00" width="170.20" height="1.05" fill="url(#g111)"/>
<rect x="74.0" y="162.00" width="170.20" height="1.05" fill="url(#g112)"/>
<rect x="74.0" y="163.00" width="170.20" height="1.05" fill="url(#g113)"/>
<rect x="74.0" y="164.00" width="170.20" height="1.05" fill="url(#g114)"/>
<rect x="74.0" y="165.00" width="170.20" height="1.05" fill="url(#g115)"/>
<rect x="74.0" y="166.00" width="170.20" height="1.05" fill="url(#g116)"/>
<rect x="74.0" y="167.00" width="170.20" height="1.05" fill="url(#g117)"/>
<rect x="74.0" y="168.00" width="170.20" height="1.05" fill="url(#g118)"/>
<rect x="74.0" y="169.00" width="170.20" height="1.05" fill="url(#g119)"/>
<rect x="74.0" y="170.00" width="170.20" height="1.05" fill="url(#g120)"/>
<rect x="74.0" y="171.00" width="170.20" height="1.05" fill="url(#g121)"/>
<rect x="74.0" y="172.00" width="170.20" height="1.05" fill="url(#g122)"/>
<rect x="74.0" y="173.00" width="170.20" height="1.05" fill="url(#g123)"/>
<rect x="74.0" y="174.00" width="170.20" height="1.05" fill="url(#g124)"/>
<rect x="74.0" y="175.00" width="170.20" height="1.05" fill="url(#g125)"/>
<rect x="74.0" y="176.00" width="170.20" height="1.05" fill="url(#g126)"/>
<rect x="74.0" y="177.00" width="170.20" height="1.05" fill="url(#g127)"/>
<rect x="74.0" y="178.00" width="170.20" height="1.05" fill="url(#g128)"/>
<rect x="74.0" y="179.00" width="170.20" height="1.05" fill="url(#g129)"/>
<rect x="74.0" y="180.00" width="170.20" height="1.05" fill="url(#g130)"/>
<rect x="74.0" y="181.00" width="170.20" height="1.05" fill="url(#g131)"/>
<rect x="74.0" y="182.00" width="170.20" height="1.05" fill="url(#g132)"/>
<rect x="74.0" y="183.00" width="170.20" height="1.05" fill="url(#g133)"/>
<rect x="74.0" y="184.00" width="170.20" height="1.05" fill="url(#g134)"/>
<rect x="74.0" y="185.00" width="170.20" height="1.05" fill="url(#g135)"/>
<rect x="74.0" y="186.00" width="170.20" height="1.05" fill="url(#g136)"/>
<rect x="74.0" y="187.00" width="170.20" height="1.05" fill="url(#g137)"/>
<rect x="74.0" y="188.00" width="170.20" height="1.05" fill="url(#g138)"/>
<rect x="74.0" y="189.00" width="170.20" height="1.05" fill="url(#g139)"/>
<rect x="74.0" y="190.00" width="170.20" height="1.05" fill="url(#g140)"/>
<rect x="74.0" y="191.00" width="170.20" height="1.05" fill="url(#g141)"/>
<rect x="74.0" y="192.00" width="170.20" height="1.05" fill="url(#g142)"/>
<rect x="74.0" y="193.00" width="170.20" height="1.05" fill="url(#g143)"/>
<rect x="74.0" y="194.00" width="170.20" height="1.05" fill="url(#g144)"/>
<rect x="74.0" y="195.00" width="170.20" height="1.05" fill="url(#g145)"/>
<rect x="74.0" y="196.00" width="170.20" height="1.05" fill="url(#g146)"/>
<rect x="74.0" y="197.00" width="170.20" height="1.05" fill="url(#g147)"/>
<rect x="74.0" y="198.00" width="170.20" height="1.05" fill="url(#g148)"/>
<rect x="74.0" y="199.00" width="170.20" height="1.05" fill="url(#g149)"/>
<rect x="74.0" y="200.00" width="170.20" height="1.05" fill="url(#g150)"/>
<rect x="74.0" y="201.00" width="170.20" height="1.05" fill="url(#g151)"/>
<rect x="74.0" y="202.00" width="170.20" height="1.05" fill="url(#g152)"/>
<rect x="74.0" y="203.00" width="170.20" height="1.05" fill="url(#g153)"/>
<rect x="74.0" y="204.00" width="170.20" height="1.05" fill="url(#g154)"/>
<rect x="74.0" y="205.00" width="170.20" height="1.05" fill="url(#g155)"/>
<rect x="74.0" y="206.00" width="170.20" height="1.05" fill="url(#g156)"/>
<rect x="74.0" y="207.00" width="170.20" height="1.05" fill="url(#g157)"/>
<rect x="74.0" y="208.00" width="170.20" height="1.05" fill="url(#g158)"/>
<rect x="74.0" y="209.00" width="170.20" height="1.05" fill="url(#g159)"/>
<rect x="74.0" y="210.00" width="170.20" height="1.05" fill="url(#g160)"/>
<rect x="74.0" y="211.00" width="170.20" height="1.05" fill="url(#g161)"/>
<rect x="74.0" y="212.00" width="170.20" height="1.05" fill="url(#g162)"/>
<rect x="74.0" y="213.00" width="170.20" height="1.05" fill="url(#g163)"/>
<rect x="74.0" y="214.00" width="170.20" height="1.05" fill="url(#g164)"/>
<rect x="74.0" y="215.00" width="170.20" height="1.05" fill="url(#g165)"/>
<rect x="74.0" y="216.00" width="170.20" height="1.05" fill="url(#g166)"/>
<rect x="74.0" y="217.00" width="170.20" height="1.05" fill="url(#g167)"/>
<rect x="74.0" y="218.00" width="170.20" height="1.05" fill="url(#g168)"/>
<rect x="346.2" y="53.3" width="104.6" height="167.4" fill="#000"/>
<path d="M425,56.5 L450.8,56.5 L450.8,220.7 L434,220.7 L426,215 L419.8,210 L419.8,181 L426,177 L432,170.5 L437,166 L441.5,160 L444.5,153 L444,144 L440,136 L434,130 L426.5,130 L421,127.5 L414.3,127 L418,121 L444,118.3 L442.7,112.5 L438,104 L434,98 L428,92 L419.5,87 L419.5,61 L425,56.5 Z" fill="url(#ing)"/>
<path d="M387.1,69.4 L396,66.5 L405.8,63.6 L411,61.5 L419,60.3 L419.5,87.5 L410,81 L399.4,75.5 L396.8,75.2 Z" fill="#1a7cff"/>
<path d="M384,194.6 L398,188.5 L404,186.5 L412,183.5 L419.8,181 L419.8,210 L410,205 L398,200 Z" fill="#1a7cff"/>
<polyline points="419.5,87.0 428.0,92.0 434.0,98.0 438.0,104.0 442.7,112.5 444.0,118.3" fill="none" stroke="#20c8ff" stroke-width="1.0" stroke-linejoin="round" stroke-linecap="round"/>
<polyline points="426.5,130.0 434.0,130.0 440.0,136.0 444.0,144.0 444.5,153.0 441.5,160.0 437.0,166.0 432.0,170.5 426.0,177.0 419.8,181.0" fill="none" stroke="#20c8ff" stroke-width="1.0" stroke-linejoin="round" stroke-linecap="round"/>
<polyline points="419.8,210.0 426.0,215.0 434.0,220.7" fill="none" stroke="#20c8ff" stroke-width="1.0" stroke-linejoin="round" stroke-linecap="round"/>
<polyline points="419.5,61.0 419.5,87.0" fill="none" stroke="#40e0ff" stroke-width="0.8" stroke-linejoin="round" stroke-linecap="round"/>
<polyline points="419.8,181.0 419.8,210.0" fill="none" stroke="#40e0ff" stroke-width="0.8" stroke-linejoin="round" stroke-linecap="round"/>
<rect x="405" y="55" width="20" height="1.6" fill="#000"/><rect x="400" y="57.5" width="22" height="1.0" fill="#000"/><rect x="408" y="59" width="14" height="0.8" fill="#0a2a60"/>
<rect x="346.2" y="53.3" width="104.6" height="167.4" fill="none" stroke="#111" stroke-width="1.2"/>
<line x1="447.0" y1="95.2" x2="450.8" y2="95.2" stroke="#111" stroke-width="1.1"/>
<line x1="447.0" y1="137.0" x2="450.8" y2="137.0" stroke="#111" stroke-width="1.1"/>
<line x1="447.0" y1="178.8" x2="450.8" y2="178.8" stroke="#111" stroke-width="1.1"/>
<rect x="537.2" y="51.60" width="168.40" height="3.40" fill="url(#g169)"/>
<rect x="537.2" y="54.00" width="168.40" height="3.00" fill="url(#g170)"/>
<rect x="537.2" y="56.00" width="168.40" height="3.00" fill="url(#g171)"/>
<rect x="537.2" y="58.00" width="168.40" height="3.00" fill="url(#g172)"/>
<rect x="537.2" y="60.00" width="168.40" height="3.00" fill="url(#g173)"/>
<rect x="537.2" y="62.00" width="168.40" height="3.00" fill="url(#g174)"/>
<rect x="537.2" y="64.00" width="168.40" height="3.00" fill="url(#g175)"/>
<rect x="537.2" y="66.00" width="168.40" height="3.00" fill="url(#g176)"/>
<rect x="537.2" y="68.00" width="168.40" height="3.00" fill="url(#g177)"/>
<rect x="537.2" y="70.00" width="168.40" height="3.00" fill="url(#g178)"/>
<rect x="537.2" y="72.00" width="168.40" height="3.00" fill="url(#g179)"/>
<rect x="537.2" y="74.00" width="168.40" height="3.00" fill="url(#g180)"/>
<rect x="537.2" y="76.00" width="168.40" height="3.00" fill="url(#g181)"/>
<rect x="537.2" y="78.00" width="168.40" height="3.00" fill="url(#g182)"/>
<rect x="537.2" y="80.00" width="168.40" height="3.00" fill="url(#g183)"/>
<rect x="537.2" y="82.00" width="168.40" height="3.00" fill="url(#g184)"/>
<rect x="537.2" y="84.00" width="168.40" height="3.00" fill="url(#g185)"/>
<rect x="537.2" y="86.00" width="168.40" height="3.00" fill="url(#g186)"/>
<rect x="537.2" y="88.00" width="168.40" height="3.00" fill="url(#g187)"/>
<rect x="537.2" y="90.00" width="168.40" height="3.00" fill="url(#g188)"/>
<rect x="537.2" y="92.00" width="168.40" height="3.00" fill="url(#g189)"/>
<rect x="537.2" y="94.00" width="168.40" height="3.00" fill="url(#g190)"/>
<rect x="537.2" y="96.00" width="168.40" height="3.00" fill="url(#g191)"/>
<rect x="537.2" y="98.00" width="168.40" height="3.00" fill="url(#g192)"/>
<rect x="537.2" y="100.00" width="168.40" height="3.00" fill="url(#g193)"/>
<rect x="537.2" y="102.00" width="168.40" height="3.00" fill="url(#g194)"/>
<rect x="537.2" y="104.00" width="168.40" height="3.00" fill="url(#g195)"/>
<rect x="537.2" y="106.00" width="168.40" height="3.00" fill="url(#g196)"/>
<rect x="537.2" y="108.00" width="168.40" height="3.00" fill="url(#g197)"/>
<rect x="537.2" y="110.00" width="168.40" height="3.00" fill="url(#g198)"/>
<rect x="537.2" y="112.00" width="168.40" height="3.00" fill="url(#g199)"/>
<rect x="537.2" y="114.00" width="168.40" height="3.00" fill="url(#g200)"/>
<rect x="537.2" y="116.00" width="168.40" height="3.00" fill="url(#g201)"/>
<rect x="537.2" y="118.00" width="168.40" height="3.00" fill="url(#g202)"/>
<rect x="537.2" y="120.00" width="168.40" height="3.00" fill="url(#g203)"/>
<rect x="537.2" y="122.00" width="168.40" height="3.00" fill="url(#g204)"/>
<rect x="537.2" y="124.00" width="168.40" height="3.00" fill="url(#g205)"/>
<rect x="537.2" y="126.00" width="168.40" height="3.00" fill="url(#g206)"/>
<rect x="537.2" y="128.00" width="168.40" height="3.00" fill="url(#g207)"/>
<rect x="537.2" y="130.00" width="168.40" height="3.00" fill="url(#g208)"/>
<rect x="537.2" y="132.00" width="168.40" height="3.00" fill="url(#g209)"/>
<rect x="537.2" y="134.00" width="168.40" height="3.00" fill="url(#g210)"/>
<rect x="537.2" y="136.00" width="168.40" height="3.00" fill="url(#g211)"/>
<rect x="537.2" y="138.00" width="168.40" height="3.00" fill="url(#g212)"/>
<rect x="537.2" y="140.00" width="168.40" height="3.00" fill="url(#g213)"/>
<rect x="537.2" y="142.00" width="168.40" height="3.00" fill="url(#g214)"/>
<rect x="537.2" y="144.00" width="168.40" height="3.00" fill="url(#g215)"/>
<rect x="537.2" y="146.00" width="168.40" height="3.00" fill="url(#g216)"/>
<rect x="537.2" y="148.00" width="168.40" height="3.00" fill="url(#g217)"/>
<rect x="537.2" y="150.00" width="168.40" height="3.00" fill="url(#g218)"/>
<rect x="537.2" y="152.00" width="168.40" height="3.00" fill="url(#g219)"/>
<rect x="537.2" y="154.00" width="168.40" height="3.00" fill="url(#g220)"/>
<rect x="537.2" y="156.00" width="168.40" height="3.00" fill="url(#g221)"/>
<rect x="537.2" y="158.00" width="168.40" height="3.00" fill="url(#g222)"/>
<rect x="537.2" y="160.00" width="168.40" height="3.00" fill="url(#g223)"/>
<rect x="537.2" y="162.00" width="168.40" height="3.00" fill="url(#g224)"/>
<rect x="537.2" y="164.00" width="168.40" height="3.00" fill="url(#g225)"/>
<rect x="537.2" y="166.00" width="168.40" height="3.00" fill="url(#g226)"/>
<rect x="537.2" y="168.00" width="168.40" height="3.00" fill="url(#g227)"/>
<rect x="537.2" y="170.00" width="168.40" height="3.00" fill="url(#g228)"/>
<rect x="537.2" y="172.00" width="168.40" height="3.00" fill="url(#g229)"/>
<rect x="537.2" y="174.00" width="168.40" height="3.00" fill="url(#g230)"/>
<rect x="537.2" y="176.00" width="168.40" height="3.00" fill="url(#g231)"/>
<rect x="537.2" y="178.00" width="168.40" height="3.00" fill="url(#g232)"/>
<rect x="537.2" y="180.00" width="168.40" height="3.00" fill="url(#g233)"/>
<rect x="537.2" y="182.00" width="168.40" height="3.00" fill="url(#g234)"/>
<rect x="537.2" y="184.00" width="168.40" height="3.00" fill="url(#g235)"/>
<rect x="537.2" y="186.00" width="168.40" height="3.00" fill="url(#g236)"/>
<rect x="537.2" y="188.00" width="168.40" height="3.00" fill="url(#g237)"/>
<rect x="537.2" y="190.00" width="168.40" height="3.00" fill="url(#g238)"/>
<rect x="537.2" y="192.00" width="168.40" height="3.00" fill="url(#g239)"/>
<rect x="537.2" y="194.00" width="168.40" height="3.00" fill="url(#g240)"/>
<rect x="537.2" y="196.00" width="168.40" height="3.00" fill="url(#g241)"/>
<rect x="537.2" y="198.00" width="168.40" height="3.00" fill="url(#g242)"/>
<rect x="537.2" y="200.00" width="168.40" height="3.00" fill="url(#g243)"/>
<rect x="537.2" y="202.00" width="168.40" height="3.00" fill="url(#g244)"/>
<rect x="537.2" y="204.00" width="168.40" height="3.00" fill="url(#g245)"/>
<rect x="537.2" y="206.00" width="168.40" height="3.00" fill="url(#g246)"/>
<rect x="537.2" y="208.00" width="168.40" height="3.00" fill="url(#g247)"/>
<rect x="537.2" y="210.00" width="168.40" height="3.00" fill="url(#g248)"/>
<rect x="537.2" y="212.00" width="168.40" height="3.00" fill="url(#g249)"/>
<rect x="537.2" y="214.00" width="168.40" height="3.00" fill="url(#g250)"/>
<rect x="537.2" y="216.00" width="168.40" height="3.00" fill="url(#g251)"/>
<rect x="537.2" y="218.00" width="168.40" height="1.20" fill="url(#g252)"/>
<g clip-path="url(#clipb)">
<polyline points="556.0,119.0 553.0,124.5 546.0,135.0 538.6,146.2 535.0,151.0" fill="none" stroke="#b8f000" stroke-width="5" stroke-linejoin="round" stroke-linecap="round" stroke-opacity="0.5"/>
<polyline points="556.0,119.0 553.0,124.5 546.0,135.0 538.6,146.2 535.0,151.0" fill="none" stroke="#f4f000" stroke-width="2.0" stroke-linejoin="round" stroke-linecap="round"/>
<polyline points="688.0,120.0 691.0,125.0 698.0,132.5 705.0,140.0 708.0,143.0" fill="none" stroke="#b8f000" stroke-width="5" stroke-linejoin="round" stroke-linecap="round" stroke-opacity="0.5"/>
<polyline points="688.0,120.0 691.0,125.0 698.0,132.5 705.0,140.0 708.0,143.0" fill="none" stroke="#f4f000" stroke-width="2.0" stroke-linejoin="round" stroke-linecap="round"/>
<polyline points="568.2,51.6 567.6,54.6 567.1,57.6 566.5,60.6 565.9,63.6 565.4,66.6 564.8,69.6 564.3,72.6 563.7,75.6 563.1,78.6 562.4,81.6 561.7,84.6 561.0,87.6 560.2,90.6 559.5,93.6 558.9,96.6 558.3,99.6 557.7,102.6 557.1,105.6 556.6,108.6 556.1,111.6 555.7,114.6 555.2,117.6 554.3,120.6 553.5,123.6 553.0,126.6 552.4,129.6 551.7,132.6 551.1,135.6 550.7,138.6 550.5,141.6 550.2,144.6 550.0,147.6 549.7,150.6 549.5,153.6 549.3,156.6 549.0,159.6 548.9,162.6 548.9,165.6 548.8,168.6 548.7,171.6 548.7,174.6 548.6,177.6 548.5,180.6 548.4,183.6 548.4,186.6 548.3,189.6 548.4,192.6 548.5,195.6 548.6,198.6 548.7,201.6 548.8,204.6 548.9,207.6 549.0,210.6 549.1,213.6 549.2,216.6 549.3,219.6 549.3,219.2" fill="none" stroke="#c8f070" stroke-width="4.2" stroke-linejoin="round" stroke-linecap="round" stroke-opacity="0.55"/>
<polyline points="568.2,51.6 567.6,54.6 567.1,57.6 566.5,60.6 565.9,63.6 565.4,66.6 564.8,69.6 564.3,72.6 563.7,75.6 563.1,78.6 562.4,81.6 561.7,84.6 561.0,87.6 560.2,90.6 559.5,93.6 558.9,96.6 558.3,99.6 557.7,102.6 557.1,105.6 556.6,108.6 556.1,111.6 555.7,114.6 555.2,117.6 554.3,120.6 553.5,123.6 553.0,126.6 552.4,129.6 551.7,132.6 551.1,135.6 550.7,138.6 550.5,141.6 550.2,144.6 550.0,147.6 549.7,150.6 549.5,153.6 549.3,156.6 549.0,159.6 548.9,162.6 548.9,165.6 548.8,168.6 548.7,171.6 548.7,174.6 548.6,177.6 548.5,180.6 548.4,183.6 548.4,186.6 548.3,189.6 548.4,192.6 548.5,195.6 548.6,198.6 548.7,201.6 548.8,204.6 548.9,207.6 549.0,210.6 549.1,213.6 549.2,216.6 549.3,219.6 549.3,219.2" fill="none" stroke="#fffff0" stroke-width="1.7" stroke-linejoin="round" stroke-linecap="round"/>
<polyline points="674.0,51.6 674.6,54.6 675.1,57.6 675.7,60.6 676.3,63.6 676.8,66.6 677.4,69.6 677.9,72.6 678.5,75.6 679.1,78.6 679.8,81.6 680.5,84.6 681.2,87.6 682.0,90.6 682.7,93.6 683.3,96.6 683.9,99.6 684.5,102.6 685.1,105.6 685.6,108.6 686.1,111.6 686.5,114.6 687.0,117.6 687.9,120.6 688.7,123.6 689.2,126.6 689.8,129.6 690.5,132.6 691.1,135.6 691.5,138.6 691.7,141.6 692.0,144.6 692.2,147.6 692.5,150.6 692.7,153.6 692.9,156.6 693.2,159.6 693.3,162.6 693.3,165.6 693.4,168.6 693.5,171.6 693.5,174.6 693.6,177.6 693.7,180.6 693.8,183.6 693.8,186.6 693.9,189.6 693.8,192.6 693.7,195.6 693.6,198.6 693.5,201.6 693.4,204.6 693.3,207.6 693.2,210.6 693.1,213.6 693.0,216.6 692.9,219.6 692.9,219.2" fill="none" stroke="#c8f070" stroke-width="4.2" stroke-linejoin="round" stroke-linecap="round" stroke-opacity="0.55"/>
<polyline points="674.0,51.6 674.6,54.6 675.1,57.6 675.7,60.6 676.3,63.6 676.8,66.6 677.4,69.6 677.9,72.6 678.5,75.6 679.1,78.6 679.8,81.6 680.5,84.6 681.2,87.6 682.0,90.6 682.7,93.6 683.3,96.6 683.9,99.6 684.5,102.6 685.1,105.6 685.6,108.6 686.1,111.6 686.5,114.6 687.0,117.6 687.9,120.6 688.7,123.6 689.2,126.6 689.8,129.6 690.5,132.6 691.1,135.6 691.5,138.6 691.7,141.6 692.0,144.6 692.2,147.6 692.5,150.6 692.7,153.6 692.9,156.6 693.2,159.6 693.3,162.6 693.3,165.6 693.4,168.6 693.5,171.6 693.5,174.6 693.6,177.6 693.7,180.6 693.8,183.6 693.8,186.6 693.9,189.6 693.8,192.6 693.7,195.6 693.6,198.6 693.5,201.6 693.4,204.6 693.3,207.6 693.2,210.6 693.1,213.6 693.0,216.6 692.9,219.6 692.9,219.2" fill="none" stroke="#fffff0" stroke-width="1.7" stroke-linejoin="round" stroke-linecap="round"/>
<polyline points="554.7,115.0 552.9,122.0 551.6,129.0" fill="none" stroke="#ff5a00" stroke-width="1.8" stroke-linejoin="round" stroke-linecap="round" stroke-opacity="0.75"/>
<polyline points="688.0,118.0 689.6,123.5 690.4,128.0" fill="none" stroke="#ff5a00" stroke-width="1.8" stroke-linejoin="round" stroke-linecap="round" stroke-opacity="0.75"/>
<polyline points="548.0,196.0 548.2,202.0" fill="none" stroke="#ff6000" stroke-width="1.4" stroke-linejoin="round" stroke-linecap="round" stroke-opacity="0.8"/>
<polygon points="621.4,92.0 621.0,94.5 620.6,97.0 620.2,99.5 619.9,102.0 619.6,104.5 619.3,107.0 619.0,109.5 618.7,112.0 618.3,114.5 617.9,117.0 617.5,119.5 617.1,122.0 616.7,124.5 616.3,127.0 615.9,129.5 615.5,132.0 615.1,134.5 614.8,137.0 614.4,139.5 614.1,142.0 613.7,144.5 613.4,147.0 613.0,149.5 612.7,152.0 612.3,154.5 611.8,157.0 611.3,159.5 610.8,162.0 610.3,164.5 609.8,167.0 609.3,169.5 608.9,172.0 608.4,174.5 607.9,177.0 607.5,179.5 607.1,182.0 606.7,184.5 606.3,187.0 605.9,189.5 605.4,192.0 605.2,194.5 604.9,197.0 604.6,199.5 604.3,202.0 604.1,204.5 603.9,207.0 603.8,209.5 603.6,212.0 603.5,214.5 603.3,217.0 603.2,219.5 603.2,221.2 643.3,221.2 643.3,219.5 643.3,217.0 643.3,214.5 643.3,212.0 643.3,209.5 643.3,207.0 643.1,204.5 642.5,202.0 641.9,199.5 641.3,197.0 640.6,194.5 640.0,192.0 639.2,189.5 638.4,187.0 637.7,184.5 636.9,182.0 636.1,179.5 635.3,177.0 634.6,174.5 634.1,172.0 633.6,169.5 633.1,167.0 632.6,164.5 632.1,162.0 631.5,159.5 631.0,157.0 630.5,154.5 630.1,152.0 629.7,149.5 629.4,147.0 629.0,144.5 628.6,142.0 628.2,139.5 627.9,137.0 627.5,134.5 627.1,132.0 626.7,129.5 626.4,127.0 626.0,124.5 625.6,122.0 625.2,119.5 624.9,117.0 624.5,114.5 624.1,112.0 623.7,109.5 623.4,107.0 623.0,104.5 622.6,102.0 622.3,99.5 622.0,97.0 621.7,94.5 621.4,92.0" fill="none" stroke="#0060ff" stroke-width="7" stroke-opacity="0.45" stroke-linejoin="round"/>
<polygon points="621.4,92.0 621.0,94.5 620.6,97.0 620.2,99.5 619.9,102.0 619.6,104.5 619.3,107.0 619.0,109.5 618.7,112.0 618.3,114.5 617.9,117.0 617.5,119.5 617.1,122.0 616.7,124.5 616.3,127.0 615.9,129.5 615.5,132.0 615.1,134.5 614.8,137.0 614.4,139.5 614.1,142.0 613.7,144.5 613.4,147.0 613.0,149.5 612.7,152.0 612.3,154.5 611.8,157.0 611.3,159.5 610.8,162.0 610.3,164.5 609.8,167.0 609.3,169.5 608.9,172.0 608.4,174.5 607.9,177.0 607.5,179.5 607.1,182.0 606.7,184.5 606.3,187.0 605.9,189.5 605.4,192.0 605.2,194.5 604.9,197.0 604.6,199.5 604.3,202.0 604.1,204.5 603.9,207.0 603.8,209.5 603.6,212.0 603.5,214.5 603.3,217.0 603.2,219.5 603.2,221.2 643.3,221.2 643.3,219.5 643.3,217.0 643.3,214.5 643.3,212.0 643.3,209.5 643.3,207.0 643.1,204.5 642.5,202.0 641.9,199.5 641.3,197.0 640.6,194.5 640.0,192.0 639.2,189.5 638.4,187.0 637.7,184.5 636.9,182.0 636.1,179.5 635.3,177.0 634.6,174.5 634.1,172.0 633.6,169.5 633.1,167.0 632.6,164.5 632.1,162.0 631.5,159.5 631.0,157.0 630.5,154.5 630.1,152.0 629.7,149.5 629.4,147.0 629.0,144.5 628.6,142.0 628.2,139.5 627.9,137.0 627.5,134.5 627.1,132.0 626.7,129.5 626.4,127.0 626.0,124.5 625.6,122.0 625.2,119.5 624.9,117.0 624.5,114.5 624.1,112.0 623.7,109.5 623.4,107.0 623.0,104.5 622.6,102.0 622.3,99.5 622.0,97.0 621.7,94.5 621.4,92.0" fill="#000" stroke="#50d8ff" stroke-width="1.4" stroke-linejoin="round"/>
</g>
<rect x="537.2" y="51.6" width="168.4" height="167.6" fill="none" stroke="#111" stroke-width="1.3"/>
<rect x="74" y="16.2" width="109" height="33.8" fill="url(#gbox)" stroke="#b4b4b4" stroke-width="0.8"/>
<text x="126.9" y="40.2" font-size="19.5" text-anchor="middle" textLength="81.4" lengthAdjust="spacingAndGlyphs">Sample A</text>
<rect x="537" y="16.3" width="108.79999999999995" height="34.7" fill="url(#gbox)" stroke="#b4b4b4" stroke-width="0.8"/>
<text x="588.6" y="41.4" font-size="19.5" text-anchor="middle" textLength="81.7" lengthAdjust="spacingAndGlyphs">Sample B</text>
<rect x="62.3" y="315.2" width="108.3" height="33.30000000000001" fill="url(#gbox)" stroke="#b4b4b4" stroke-width="0.8"/>
<text x="113.5" y="340.0" font-size="19.5" text-anchor="middle" textLength="81.2" lengthAdjust="spacingAndGlyphs">Sample B</text>
<text x="2.5" y="22.2" font-size="26" font-weight="bold" fill="#000">a</text>
<text x="468.5" y="23.2" font-size="25" font-weight="bold" fill="#000">b</text>
<text x="2.5" y="320.2" font-size="26" font-weight="bold" fill="#000">c</text>
<rect x="74.0" y="50.7" width="170.2" height="168.8" fill="none" stroke="#111" stroke-width="1.3"/>
<line x1="70.0" y1="219.5" x2="74.0" y2="219.5" stroke="#111" stroke-width="1.2"/>
<line x1="70.0" y1="198.4" x2="74.0" y2="198.4" stroke="#111" stroke-width="1.2"/>
<line x1="70.0" y1="177.3" x2="74.0" y2="177.3" stroke="#111" stroke-width="1.2"/>
<line x1="70.0" y1="156.2" x2="74.0" y2="156.2" stroke="#111" stroke-width="1.2"/>
<line x1="70.0" y1="135.1" x2="74.0" y2="135.1" stroke="#111" stroke-width="1.2"/>
<line x1="70.0" y1="114.0" x2="74.0" y2="114.0" stroke="#111" stroke-width="1.2"/>
<line x1="70.0" y1="92.9" x2="74.0" y2="92.9" stroke="#111" stroke-width="1.2"/>
<line x1="70.0" y1="71.8" x2="74.0" y2="71.8" stroke="#111" stroke-width="1.2"/>
<line x1="70.0" y1="50.7" x2="74.0" y2="50.7" stroke="#111" stroke-width="1.2"/>
<line x1="74.3" y1="219.5" x2="74.3" y2="223.5" stroke="#111" stroke-width="1.2"/>
<line x1="108.4" y1="219.5" x2="108.4" y2="223.5" stroke="#111" stroke-width="1.2"/>
<line x1="142.5" y1="219.5" x2="142.5" y2="223.5" stroke="#111" stroke-width="1.2"/>
<line x1="176.6" y1="219.5" x2="176.6" y2="223.5" stroke="#111" stroke-width="1.2"/>
<line x1="210.7" y1="219.5" x2="210.7" y2="223.5" stroke="#111" stroke-width="1.2"/>
<line x1="244.8" y1="219.5" x2="244.8" y2="223.5" stroke="#111" stroke-width="1.2"/>
<text x="59.8" y="119.7" font-size="16.8" text-anchor="end" textLength="25.6" lengthAdjust="spacingAndGlyphs">0.1</text>
<text x="59.8" y="226.2" font-size="16.8" text-anchor="end" textLength="25.6" lengthAdjust="spacingAndGlyphs">0.0</text>
<text x="74.3" y="246.8" font-size="16.8" text-anchor="middle" textLength="24.6" lengthAdjust="spacingAndGlyphs">0.0</text>
<text x="141.9" y="246.8" font-size="16.8" text-anchor="middle" textLength="24.6" lengthAdjust="spacingAndGlyphs">0.1</text>
<text x="210.4" y="246.8" font-size="16.8" text-anchor="middle" textLength="24.6" lengthAdjust="spacingAndGlyphs">0.2</text>
<text x="14.8" y="160.3" font-size="18.4" text-anchor="middle" transform="rotate(-90 14.8 160.3)"><tspan font-style="italic">B</tspan> (T)</text>
<text x="159.6" y="273.3" font-size="19" text-anchor="middle"><tspan font-style="italic">I</tspan> (μA)</text>
<rect x="249" y="86.7" width="13.7" height="69.5" fill="url(#cba)"/>
<text x="267.8" y="96.9" font-size="16.8" textLength="27.8" lengthAdjust="spacingAndGlyphs">300</text>
<text x="267.5" y="164.1" font-size="16.8" textLength="7.6" lengthAdjust="spacingAndGlyphs">0</text>
<text x="247.6" y="68.6" font-size="16"><tspan font-style="italic">R</tspan></text>
<text x="259.2" y="60.3" font-size="11.2">A</text>
<text x="259.2" y="72.3" font-size="11.2" textLength="20.4" lengthAdjust="spacingAndGlyphs">8–9</text>
<text x="285.2" y="68.4" font-size="16.4" textLength="23.8" lengthAdjust="spacingAndGlyphs">(Ω)</text>
<polygon points="244.5,216.5 345.5,55.5 345.5,219.8 244.5,219.8" fill="url(#gtri)"/>
<line x1="341.2" y1="53.3" x2="346.2" y2="53.3" stroke="#111" stroke-width="1.2"/>
<line x1="341.2" y1="95.1" x2="346.2" y2="95.1" stroke="#111" stroke-width="1.2"/>
<line x1="341.2" y1="137.0" x2="346.2" y2="137.0" stroke="#111" stroke-width="1.2"/>
<line x1="341.2" y1="178.8" x2="346.2" y2="178.8" stroke="#111" stroke-width="1.2"/>
<line x1="341.2" y1="220.7" x2="346.2" y2="220.7" stroke="#111" stroke-width="1.2"/>
<line x1="363.7" y1="220.7" x2="363.7" y2="224.7" stroke="#111" stroke-width="1.2"/>
<line x1="386.0" y1="220.7" x2="386.0" y2="224.7" stroke="#111" stroke-width="1.2"/>
<line x1="407.3" y1="220.7" x2="407.3" y2="224.7" stroke="#111" stroke-width="1.2"/>
<line x1="428.6" y1="220.7" x2="428.6" y2="224.7" stroke="#111" stroke-width="1.2"/>
<line x1="450.8" y1="220.7" x2="450.8" y2="224.7" stroke="#111" stroke-width="1.2"/>
<text x="337.2" y="59.7" font-size="16.8" text-anchor="end" textLength="25.5" lengthAdjust="spacingAndGlyphs">1.0</text>
<text x="337.2" y="143.3" font-size="16.8" text-anchor="end" textLength="25.5" lengthAdjust="spacingAndGlyphs">0.5</text>
<text x="337.2" y="226.7" font-size="16.8" text-anchor="end" textLength="25.5" lengthAdjust="spacingAndGlyphs">0.0</text>
<text x="384.6" y="246.5" font-size="16.8" text-anchor="middle" textLength="24.0" lengthAdjust="spacingAndGlyphs">0.1</text>
<text x="428.6" y="246.5" font-size="16.8" text-anchor="middle" textLength="24.9" lengthAdjust="spacingAndGlyphs">0.2</text>
<text x="302.2" y="138.6" font-size="19" text-anchor="middle" transform="rotate(-90 302.2 138.6)"><tspan font-style="italic">B</tspan> (mT)</text>
<text x="398.8" y="273.7" font-size="19" text-anchor="middle"><tspan font-style="italic">I</tspan> (μA)</text>
<line x1="537.2" y1="219.2" x2="541.2" y2="219.2" stroke="#111" stroke-width="1.2"/>
<line x1="537.2" y1="191.3" x2="541.2" y2="191.3" stroke="#111" stroke-width="1.2"/>
<line x1="537.2" y1="163.3" x2="541.2" y2="163.3" stroke="#111" stroke-width="1.2"/>
<line x1="537.2" y1="135.4" x2="541.2" y2="135.4" stroke="#111" stroke-width="1.2"/>
<line x1="537.2" y1="107.5" x2="541.2" y2="107.5" stroke="#111" stroke-width="1.2"/>
<line x1="537.2" y1="79.5" x2="541.2" y2="79.5" stroke="#111" stroke-width="1.2"/>
<line x1="537.2" y1="51.6" x2="541.2" y2="51.6" stroke="#111" stroke-width="1.2"/>
<line x1="537.2" y1="219.2" x2="537.2" y2="215.2" stroke="#111" stroke-width="1.2"/>
<line x1="558.2" y1="219.2" x2="558.2" y2="215.2" stroke="#111" stroke-width="1.2"/>
<line x1="579.3" y1="219.2" x2="579.3" y2="215.2" stroke="#111" stroke-width="1.2"/>
<line x1="600.4" y1="219.2" x2="600.4" y2="215.2" stroke="#111" stroke-width="1.2"/>
<line x1="621.4" y1="219.2" x2="621.4" y2="215.2" stroke="#111" stroke-width="1.2"/>
<line x1="642.5" y1="219.2" x2="642.5" y2="215.2" stroke="#111" stroke-width="1.2"/>
<line x1="663.5" y1="219.2" x2="663.5" y2="215.2" stroke="#111" stroke-width="1.2"/>
<line x1="684.5" y1="219.2" x2="684.5" y2="215.2" stroke="#111" stroke-width="1.2"/>
<line x1="705.6" y1="219.2" x2="705.6" y2="215.2" stroke="#111" stroke-width="1.2"/>
<text x="529.0" y="225.2" font-size="16.8" text-anchor="end" textLength="25.4" lengthAdjust="spacingAndGlyphs">0.0</text>
<text x="529.0" y="169.1" font-size="16.8" text-anchor="end" textLength="25.4" lengthAdjust="spacingAndGlyphs">0.1</text>
<text x="529.0" y="113.3" font-size="16.8" text-anchor="end" textLength="25.4" lengthAdjust="spacingAndGlyphs">0.2</text>
<text x="529.0" y="57.3" font-size="16.8" text-anchor="end" textLength="25.4" lengthAdjust="spacingAndGlyphs">0.3</text>
<text x="537.0" y="239.9" font-size="16.8" text-anchor="middle" textLength="36.4" lengthAdjust="spacingAndGlyphs">−0.8</text>
<text x="579.4" y="239.9" font-size="16.8" text-anchor="middle" textLength="36.7" lengthAdjust="spacingAndGlyphs">−0.4</text>
<text x="620.0" y="239.9" font-size="16.8" text-anchor="middle" textLength="25.3" lengthAdjust="spacingAndGlyphs">0.0</text>
<text x="663.5" y="239.9" font-size="16.8" text-anchor="middle" textLength="25.7" lengthAdjust="spacingAndGlyphs">0.4</text>
<text x="705.6" y="239.9" font-size="16.8" text-anchor="middle" textLength="25.0" lengthAdjust="spacingAndGlyphs">0.8</text>
<text x="484.6" y="136.3" font-size="18.4" text-anchor="middle" transform="rotate(-90 484.6 136.3)"><tspan font-style="italic">B</tspan> (T)</text>
<text x="621" y="271.7" font-size="18.6" text-anchor="middle"><tspan font-style="italic">I</tspan> (μA)</text>
<rect x="711" y="85.9" width="13.8" height="65" fill="url(#cbb)"/>
<text x="732.6" y="95.4" font-size="16.8" textLength="23.0" lengthAdjust="spacingAndGlyphs">1.6</text>
<text x="732.6" y="160.5" font-size="16.8" textLength="23.0" lengthAdjust="spacingAndGlyphs">0.0</text>
<text x="717.8" y="68.4" font-size="16"><tspan font-style="italic">R</tspan></text>
<text x="729.6" y="73.4" font-size="11.2" textLength="20" lengthAdjust="spacingAndGlyphs">3–4</text>
<text x="753.5" y="68.4" font-size="16.4" textLength="32.5" lengthAdjust="spacingAndGlyphs">(kΩ)</text>
<rect x="62.9" y="314.0" width="587.2" height="244.5" fill="none" stroke="#111" stroke-width="1.4"/>
<line x1="63.0" y1="558.5" x2="63.0" y2="554.5" stroke="#111" stroke-width="1.2"/>
<line x1="99.7" y1="558.5" x2="99.7" y2="554.5" stroke="#111" stroke-width="1.2"/>
<line x1="136.4" y1="558.5" x2="136.4" y2="554.5" stroke="#111" stroke-width="1.2"/>
<line x1="173.1" y1="558.5" x2="173.1" y2="554.5" stroke="#111" stroke-width="1.2"/>
<line x1="209.8" y1="558.5" x2="209.8" y2="554.5" stroke="#111" stroke-width="1.2"/>
<line x1="246.5" y1="558.5" x2="246.5" y2="554.5" stroke="#111" stroke-width="1.2"/>
<line x1="283.2" y1="558.5" x2="283.2" y2="554.5" stroke="#111" stroke-width="1.2"/>
<line x1="319.9" y1="558.5" x2="319.9" y2="554.5" stroke="#111" stroke-width="1.2"/>
<line x1="356.6" y1="558.5" x2="356.6" y2="554.5" stroke="#111" stroke-width="1.2"/>
<line x1="393.3" y1="558.5" x2="393.3" y2="554.5" stroke="#111" stroke-width="1.2"/>
<line x1="430.0" y1="558.5" x2="430.0" y2="554.5" stroke="#111" stroke-width="1.2"/>
<line x1="466.7" y1="558.5" x2="466.7" y2="554.5" stroke="#111" stroke-width="1.2"/>
<line x1="503.4" y1="558.5" x2="503.4" y2="554.5" stroke="#111" stroke-width="1.2"/>
<line x1="540.1" y1="558.5" x2="540.1" y2="554.5" stroke="#111" stroke-width="1.2"/>
<line x1="576.8" y1="558.5" x2="576.8" y2="554.5" stroke="#111" stroke-width="1.2"/>
<line x1="613.5" y1="558.5" x2="613.5" y2="554.5" stroke="#111" stroke-width="1.2"/>
<line x1="650.2" y1="558.5" x2="650.2" y2="554.5" stroke="#111" stroke-width="1.2"/>
<line x1="62.9" y1="558.5" x2="67.4" y2="558.5" stroke="#111" stroke-width="1.2"/>
<line x1="62.9" y1="509.4" x2="67.4" y2="509.4" stroke="#111" stroke-width="1.2"/>
<line x1="62.9" y1="460.2" x2="67.4" y2="460.2" stroke="#111" stroke-width="1.2"/>
<line x1="62.9" y1="411.1" x2="67.4" y2="411.1" stroke="#111" stroke-width="1.2"/>
<line x1="62.9" y1="361.9" x2="67.4" y2="361.9" stroke="#111" stroke-width="1.2"/>
<line x1="645.6" y1="558.5" x2="650.1" y2="558.5" stroke="#111" stroke-width="1.2"/>
<line x1="645.6" y1="528.0" x2="650.1" y2="528.0" stroke="#111" stroke-width="1.2"/>
<line x1="645.6" y1="497.6" x2="650.1" y2="497.6" stroke="#111" stroke-width="1.2"/>
<line x1="645.6" y1="467.1" x2="650.1" y2="467.1" stroke="#111" stroke-width="1.2"/>
<line x1="645.6" y1="436.6" x2="650.1" y2="436.6" stroke="#111" stroke-width="1.2"/>
<line x1="645.6" y1="406.1" x2="650.1" y2="406.1" stroke="#111" stroke-width="1.2"/>
<line x1="645.6" y1="375.6" x2="650.1" y2="375.6" stroke="#111" stroke-width="1.2"/>
<line x1="645.6" y1="345.2" x2="650.1" y2="345.2" stroke="#111" stroke-width="1.2"/>
<line x1="645.6" y1="314.7" x2="650.1" y2="314.7" stroke="#111" stroke-width="1.2"/>
<text x="60.6" y="581.2" font-size="16.8" text-anchor="middle" textLength="36.6" lengthAdjust="spacingAndGlyphs">−2.0</text>
<text x="134.0" y="581.2" font-size="16.8" text-anchor="middle" textLength="36.6" lengthAdjust="spacingAndGlyphs">−1.5</text>
<text x="207.4" y="581.2" font-size="16.8" text-anchor="middle" textLength="36.6" lengthAdjust="spacingAndGlyphs">−1.0</text>
<text x="280.8" y="581.2" font-size="16.8" text-anchor="middle" textLength="36.6" lengthAdjust="spacingAndGlyphs">−0.5</text>
<text x="356.6" y="581.2" font-size="16.8" text-anchor="middle" textLength="25.8" lengthAdjust="spacingAndGlyphs">0.0</text>
<text x="430.0" y="581.2" font-size="16.8" text-anchor="middle" textLength="25.8" lengthAdjust="spacingAndGlyphs">0.5</text>
<text x="503.4" y="581.2" font-size="16.8" text-anchor="middle" textLength="25.8" lengthAdjust="spacingAndGlyphs">1.0</text>
<text x="576.8" y="581.2" font-size="16.8" text-anchor="middle" textLength="25.8" lengthAdjust="spacingAndGlyphs">1.5</text>
<text x="650.2" y="581.2" font-size="16.8" text-anchor="middle" textLength="25.8" lengthAdjust="spacingAndGlyphs">2.0</text>
<text x="54.4" y="562.9" font-size="16.8" text-anchor="end" textLength="9.4" lengthAdjust="spacingAndGlyphs">0</text>
<text x="54.4" y="465.9" font-size="16.8" text-anchor="end" textLength="9.4" lengthAdjust="spacingAndGlyphs">1</text>
<text x="54.4" y="367.9" font-size="16.8" text-anchor="end" textLength="9.4" lengthAdjust="spacingAndGlyphs">2</text>
<text x="659.4" y="564.4" font-size="16.8" textLength="25.5" lengthAdjust="spacingAndGlyphs">0.0</text>
<text x="659.4" y="503.4" font-size="16.8" textLength="25.5" lengthAdjust="spacingAndGlyphs">0.5</text>
<text x="659.4" y="442.5" font-size="16.8" textLength="25.5" lengthAdjust="spacingAndGlyphs">1.0</text>
<text x="659.4" y="381.5" font-size="16.8" textLength="25.5" lengthAdjust="spacingAndGlyphs">1.5</text>
<text x="659.4" y="323.1" font-size="16.8" textLength="25.5" lengthAdjust="spacingAndGlyphs">2.0</text>
<text x="25" y="435" font-size="19.4" text-anchor="middle" transform="rotate(-90 25 435)"><tspan font-style="italic">R</tspan><tspan font-size="13" dy="4.5">3-</tspan><tspan font-size="13" font-style="italic">T</tspan><tspan dy="-4.5"> (kΩ)</tspan></text>
<text x="704.6" y="436.6" font-size="19.2" text-anchor="middle" transform="rotate(90 704.6 436.6)"><tspan font-style="italic">R</tspan><tspan font-size="13" dy="4.5">3-</tspan><tspan font-size="13" font-style="italic">T</tspan><tspan dy="-4.5"> (</tspan><tspan font-style="italic">h</tspan>/<tspan font-style="italic">e</tspan><tspan font-size="13" dy="-7.5">2</tspan><tspan dy="7.5">)</tspan></text>
<text x="330.6" y="608.4" font-size="18" font-style="italic" textLength="29.8" lengthAdjust="spacingAndGlyphs">B/B</text>
<text x="360.6" y="614" font-size="12.4" textLength="21" lengthAdjust="spacingAndGlyphs">υ=1</text>
<line x1="356.6" y1="314.0" x2="356.6" y2="558.5" stroke="#111" stroke-width="1.4"/>
<g>
<polygon points="300.0,407.0 372.0,326.0 420.0,340.0 420.0,372.0 386.0,413.0 344.0,424.0" fill="#fff"/>
<rect x="350" y="331" width="14" height="83" fill="#fff"/>
<polyline points="303.0,405.3 374.3,326.5 384.5,330.6" fill="none" stroke="#222" stroke-width="1.1" stroke-linejoin="round" stroke-linecap="round"/>
<polyline points="401.0,340.6 414.2,345.6 411.0,350.5" fill="none" stroke="#222" stroke-width="1.1" stroke-linejoin="round" stroke-linecap="round"/>
<polyline points="303.0,405.3 313.2,409.2" fill="none" stroke="#222" stroke-width="1.1" stroke-linejoin="round" stroke-linecap="round"/>
<polyline points="330.8,413.5 343.3,420.3 355.0,406.9" fill="none" stroke="#222" stroke-width="1.1" stroke-linejoin="round" stroke-linecap="round"/>
<polyline points="341.4,361.4 348.5,364.0" fill="none" stroke="#222" stroke-width="1.1" stroke-linejoin="round" stroke-linecap="round"/>
<polygon points="341.4,389.5 373.3,352.2 418.0,366.2 418.0,372.4 385.0,411.0 341.4,395.2" fill="#00893f"/>
<polygon points="341.4,389.5 373.3,352.2 418.0,366.2 385.0,405.2" fill="#00ae4f"/>
<polygon points="346.4,367.1 362.0,373.4 361.6,375.0 346.0,368.9" fill="#f2c43a"/>
<polygon points="351.0,358.6 366.5,362.8 362.0,373.4 346.4,367.1" fill="#fff200"/>
<polygon points="385.0,360.0 400.5,342.6 417.2,348.8 417.2,352.2 401.6,369.4 385.0,363.2" fill="#3f73b5"/>
<polygon points="385.0,360.0 400.5,342.6 417.2,348.8 401.6,366.2" fill="#6b9fd8"/>
<polygon points="347.2,402.0 362.7,382.7 379.1,389.5 379.1,393.0 364.6,410.2 347.2,405.2" fill="#3f73b5"/>
<polygon points="347.2,402.0 362.7,382.7 379.1,389.5 364.6,406.9" fill="#6b9fd8"/>
<circle cx="392.7" cy="336.6" r="8.6" fill="#fff" stroke="#111" stroke-width="1.3"/>
<text x="392.7" y="341.6" font-size="13.5" text-anchor="middle" fill="#000">V</text>
<circle cx="322" cy="409.9" r="9" fill="#fff" stroke="#111" stroke-width="1.3"/>
<line x1="322.0" y1="415.5" x2="322.0" y2="407.5" stroke="#000" stroke-width="1.8"/>
<polygon points="318.6,408.4 322.0,402.8 325.4,408.4" fill="#000"/>
</g>
<line x1="356.6" y1="414.7" x2="356.6" y2="558.5" stroke="#111" stroke-width="1.4"/>
<line x1="412.0" y1="520.4" x2="451.3" y2="520.4" stroke="#2222cc" stroke-width="1.4"/>
<line x1="412.0" y1="542.1" x2="451.3" y2="542.1" stroke="#dd3333" stroke-width="1.4"/>
<text x="457.8" y="525.8" font-size="16.6" textLength="183.2" lengthAdjust="spacingAndGlyphs">Superconducting contact</text>
<text x="457.8" y="547.2" font-size="16.6" textLength="111.2" lengthAdjust="spacingAndGlyphs">Normal contact</text>
<text x="90.9" y="511.4" font-size="14.8" text-anchor="middle" textLength="20.1" lengthAdjust="spacingAndGlyphs" fill="#d63ee0" stroke="#d63ee0" stroke-width="0.3">4/7</text>
<line x1="100.1" y1="515.2" x2="100.1" y2="540.4" stroke="#d63ee0" stroke-width="1.5"/>
<text x="110.8" y="406.6" font-size="14.8" text-anchor="middle" textLength="21.6" lengthAdjust="spacingAndGlyphs" fill="#d63ee0" stroke="#d63ee0" stroke-width="0.3">3/5</text>
<line x1="111.6" y1="419.5" x2="111.6" y2="445.6" stroke="#d63ee0" stroke-width="1.5"/>
<text x="135.3" y="428.8" font-size="14.8" text-anchor="middle" textLength="21.9" lengthAdjust="spacingAndGlyphs" fill="#d63ee0" stroke="#d63ee0" stroke-width="0.3">2/3</text>
<line x1="136.2" y1="438.8" x2="136.2" y2="464.7" stroke="#d63ee0" stroke-width="1.5"/>
<text x="209.0" y="386.8" font-size="14.8" text-anchor="middle" textLength="6.8" lengthAdjust="spacingAndGlyphs" fill="#d63ee0" stroke="#d63ee0" stroke-width="0.3">1</text>
<line x1="209.7" y1="396.2" x2="209.7" y2="422.4" stroke="#d63ee0" stroke-width="1.5"/>
<text x="284.1" y="417.8" font-size="14.8" text-anchor="middle" textLength="8.1" lengthAdjust="spacingAndGlyphs" fill="#d63ee0" stroke="#d63ee0" stroke-width="0.3">2</text>
<line x1="283.6" y1="425.9" x2="283.6" y2="451.1" stroke="#d63ee0" stroke-width="1.5"/>
<text x="308.4" y="462.4" font-size="14.8" text-anchor="middle" textLength="8.1" lengthAdjust="spacingAndGlyphs" fill="#d63ee0" stroke="#d63ee0" stroke-width="0.3">3</text>
<line x1="307.5" y1="475.2" x2="307.5" y2="501.2" stroke="#d63ee0" stroke-width="1.5"/>
<text x="320.4" y="478.5" font-size="14.8" text-anchor="middle" textLength="8.8" lengthAdjust="spacingAndGlyphs" fill="#d63ee0" stroke="#d63ee0" stroke-width="0.3">4</text>
<line x1="320.2" y1="490.8" x2="320.2" y2="516.0" stroke="#d63ee0" stroke-width="1.5"/>
<text x="429.8" y="437.8" font-size="14.8" text-anchor="middle" textLength="8.6" lengthAdjust="spacingAndGlyphs" fill="#d63ee0" stroke="#d63ee0" stroke-width="0.3">2</text>
<line x1="429.9" y1="444.6" x2="429.9" y2="495.9" stroke="#d63ee0" stroke-width="1.5"/>
<line x1="426.4" y1="444.6" x2="433.4" y2="444.6" stroke="#d63ee0" stroke-width="1.3"/>
<text x="503.4" y="402.0" font-size="14.8" text-anchor="middle" textLength="6.9" lengthAdjust="spacingAndGlyphs" fill="#d63ee0" stroke="#d63ee0" stroke-width="0.3">1</text>
<line x1="503.7" y1="413.3" x2="503.7" y2="464.5" stroke="#d63ee0" stroke-width="1.5"/>
<line x1="500.2" y1="413.3" x2="507.2" y2="413.3" stroke="#d63ee0" stroke-width="1.3"/>
<line x1="500.2" y1="464.5" x2="507.2" y2="464.5" stroke="#d63ee0" stroke-width="1.3"/>
<text x="576.0" y="370.0" font-size="14.8" text-anchor="middle" textLength="21.7" lengthAdjust="spacingAndGlyphs" fill="#d63ee0" stroke="#d63ee0" stroke-width="0.3">2/3</text>
<line x1="576.9" y1="376.1" x2="576.9" y2="426.5" stroke="#d63ee0" stroke-width="1.5"/>
<text x="600.5" y="351.2" font-size="14.8" text-anchor="middle" textLength="22.2" lengthAdjust="spacingAndGlyphs" fill="#d63ee0" stroke="#d63ee0" stroke-width="0.3">3/5</text>
<line x1="601.3" y1="363.9" x2="601.3" y2="414.9" stroke="#d63ee0" stroke-width="1.5"/>
<line x1="597.8" y1="363.9" x2="604.8" y2="363.9" stroke="#d63ee0" stroke-width="1.3"/>
<text x="615.8" y="334.1" font-size="14.8" text-anchor="middle" textLength="21.6" lengthAdjust="spacingAndGlyphs" fill="#d63ee0" stroke="#d63ee0" stroke-width="0.3">4/7</text>
<line x1="614.7" y1="348.9" x2="614.7" y2="400.3" stroke="#d63ee0" stroke-width="1.5"/>
<path clip-path="url(#clipc)" d="M63.2,543.9 C63.7,544.0 65.2,544.7 66.0,544.6 C66.8,544.5 67.3,543.3 68.0,543.3 C68.7,543.3 69.3,544.6 70.0,544.8 C70.7,544.9 71.4,544.2 72.0,544.2 C72.6,544.2 73.1,544.8 73.8,544.7 C74.5,544.6 75.3,543.4 76.0,543.4 C76.7,543.4 77.0,544.5 78.0,544.8 C79.0,545.1 80.7,544.9 82.0,545.0 C83.3,545.1 84.7,545.3 86.0,545.5 C87.3,545.7 88.6,545.8 89.8,546.1 C91.0,546.4 91.7,546.9 93.0,547.5 C94.3,548.1 96.4,549.0 97.8,549.6 C99.2,550.2 100.1,552.0 101.3,551.2 C102.5,550.4 103.9,545.6 104.7,545.0 C105.5,544.4 105.7,546.2 106.3,547.5 C106.9,548.8 107.2,551.7 108.2,553.0 C109.2,554.3 110.9,554.9 112.0,555.5 C113.1,556.1 114.1,558.5 115.0,556.5 C115.9,554.5 116.3,545.3 117.3,543.8 C118.3,542.3 119.3,545.8 120.8,547.3 C122.3,548.8 124.8,551.4 126.5,553.0 C128.2,554.6 129.7,556.4 131.1,557.2 C132.5,558.0 133.1,558.0 135.0,558.0 C136.9,558.0 140.8,559.9 142.6,557.5 C144.4,555.1 144.9,545.7 146.0,543.8 C147.1,541.9 147.8,545.4 149.4,546.1 C151.1,546.8 153.8,548.0 155.9,548.1 C158.0,548.2 159.5,547.4 161.8,546.5 C164.1,545.6 167.4,544.9 169.7,542.6 C172.0,540.3 173.6,537.3 175.6,532.7 C177.6,528.1 180.2,518.4 181.6,515.0 C183.0,511.6 183.1,512.3 183.9,512.6 C184.7,512.9 185.6,513.2 186.5,516.9 C187.4,520.6 188.4,528.8 189.4,534.7 C190.4,540.6 191.4,548.5 192.4,552.4 C193.4,556.3 191.0,557.3 195.4,558.3 C199.8,559.3 214.1,558.8 219.0,558.3 C223.9,557.8 223.3,556.7 225.0,555.4 C226.7,554.1 227.6,555.9 228.9,550.5 C230.2,545.1 231.5,532.0 232.8,522.8 C234.1,513.6 236.0,502.7 236.8,495.2 C237.7,487.7 237.4,483.5 237.9,477.6 C238.4,471.7 239.1,465.1 239.7,459.7 C240.2,454.3 240.7,448.8 241.2,445.3 C241.7,441.8 242.1,443.6 242.5,438.8 C242.9,434.1 243.2,421.7 243.5,416.8 C243.8,411.9 244.1,410.1 244.4,409.7 C244.7,409.3 245.0,410.2 245.3,414.2 C245.6,418.2 245.7,428.9 246.1,433.6 C246.5,438.4 247.3,442.3 247.9,442.7 C248.5,443.1 249.1,438.6 249.6,436.2 C250.1,433.8 250.5,428.9 250.9,428.5 C251.3,428.1 251.7,429.7 252.2,433.6 C252.7,437.5 253.4,445.6 254.1,451.7 C254.8,457.8 255.3,464.7 256.1,470.0 C256.9,475.3 258.3,478.7 259.0,483.4 C259.7,488.1 260.0,494.5 260.5,498.2 C261.0,501.9 261.4,503.8 262.0,505.7 C262.6,507.6 263.4,509.3 264.2,509.4 C264.9,509.5 265.6,507.4 266.5,506.4 C267.4,505.4 268.7,505.8 269.4,503.4 C270.1,501.0 270.3,496.6 270.9,492.3 C271.5,488.0 272.3,478.6 272.9,477.4 C273.5,476.2 273.8,481.7 274.3,484.9 C274.8,488.1 275.5,495.7 276.1,496.7 C276.7,497.7 277.3,492.4 277.9,490.8 C278.5,489.2 279.1,488.3 279.8,487.1 C280.5,485.9 281.5,485.3 282.1,483.4 C282.7,481.5 283.1,480.1 283.5,475.9 C283.9,471.7 284.1,462.2 284.5,458.0 C284.9,453.8 285.5,452.1 286.0,450.5 C286.5,448.9 287.0,448.7 287.7,448.5 C288.4,448.3 289.3,448.5 290.1,449.5 C290.9,450.5 291.7,451.5 292.4,454.3 C293.1,457.1 293.8,465.5 294.3,466.5 C294.9,467.5 295.2,459.9 295.7,460.5 C296.2,461.1 296.4,466.0 297.1,469.8 C297.8,473.6 299.0,480.1 299.7,483.4 C300.4,486.6 300.6,486.3 301.1,489.3 C301.6,492.3 302.1,499.0 302.6,501.2 C303.1,503.4 303.6,501.0 304.1,502.7 C304.6,504.4 305.0,509.2 305.6,511.6 C306.2,514.0 307.1,516.5 307.8,516.8 C308.6,517.0 309.4,514.7 310.1,513.1 C310.9,511.5 311.6,507.4 312.3,507.1 C313.0,506.9 313.8,509.4 314.5,511.6 C315.2,513.8 315.8,517.8 316.7,520.5 C317.6,523.2 318.8,528.2 319.7,528.0 C320.6,527.8 321.2,521.4 321.9,519.0 C322.6,516.6 323.3,512.5 323.9,513.8 C324.5,515.0 325.2,522.6 325.7,526.5 C326.2,530.4 326.5,535.9 327.1,536.9 C327.7,537.9 328.6,532.8 329.4,532.4 C330.1,532.0 330.9,534.1 331.6,534.6 C332.3,535.1 333.2,533.0 333.8,535.4 C334.4,537.8 334.8,547.0 335.3,548.8 C335.8,550.6 336.4,546.2 337.0,546.0 C337.6,545.8 338.3,546.6 339.0,547.3 C339.7,548.0 340.3,549.6 341.3,550.2 C342.3,550.8 343.8,550.1 345.0,551.0 C346.2,551.9 347.7,554.6 348.7,555.4 C349.7,556.2 350.1,555.6 351.0,556.0 C351.9,556.4 353.1,558.7 353.9,557.7 C354.7,556.7 355.2,549.9 355.6,550.0 C356.1,550.1 356.4,556.9 356.6,558.3" fill="none" stroke="#1f1fcf" stroke-width="1.35" stroke-linejoin="round" stroke-linecap="round"/>
<path clip-path="url(#clipc)" d="M63.5,451.0 C64.5,451.2 66.7,452.3 69.2,452.1 C71.7,451.9 75.8,450.3 78.3,449.8 C80.8,449.3 82.1,449.3 84.0,449.0 C85.9,448.7 88.2,448.0 89.8,448.0 C91.4,448.0 92.3,448.5 93.5,449.0 C94.7,449.5 95.7,450.2 96.7,451.0 C97.7,451.8 98.7,452.6 99.5,453.5 C100.3,454.4 100.6,453.9 101.3,456.7 C102.0,459.5 102.8,464.0 103.6,470.5 C104.4,477.0 105.0,489.4 105.9,495.7 C106.9,502.0 108.2,505.7 109.3,508.3 C110.4,510.9 111.6,511.9 112.8,511.3 C114.0,510.7 115.2,509.4 116.2,504.9 C117.2,500.4 117.8,489.6 118.5,484.2 C119.2,478.8 119.6,471.9 120.1,472.3 C120.6,472.7 121.0,478.0 121.5,486.5 C122.0,495.0 122.6,512.3 123.1,523.2 C123.6,534.1 124.1,546.1 124.6,552.0 C125.0,557.9 121.8,557.2 125.8,558.3 C129.8,559.3 144.2,560.3 148.3,558.3 C152.4,556.3 149.9,556.2 150.6,546.5 C151.3,536.8 151.8,514.4 152.4,500.0 C153.0,485.6 153.3,473.1 153.9,460.0 C154.5,446.9 155.0,430.1 155.8,421.4 C156.6,412.7 157.7,410.6 158.7,407.8 C159.7,405.1 160.6,405.7 161.6,404.9 C162.6,404.1 163.5,404.4 164.5,403.0 C165.5,401.6 166.4,399.6 167.4,396.2 C168.4,392.8 169.4,388.1 170.3,382.6 C171.2,377.1 172.2,367.4 172.9,363.3 C173.6,359.2 173.9,358.3 174.4,358.0 C174.9,357.7 175.6,357.8 176.2,361.3 C176.8,364.8 177.2,369.4 177.7,378.8 C178.2,388.2 178.4,404.0 179.0,417.5 C179.6,431.0 180.2,444.4 181.0,460.0 C181.8,475.6 182.4,496.2 183.5,511.0 C184.6,525.8 186.3,540.6 187.5,548.5 C188.7,556.4 183.3,556.7 190.4,558.3 C197.5,559.9 223.1,560.5 229.9,558.3 C236.8,556.1 230.8,551.6 231.5,545.0 C232.2,538.4 233.0,526.9 233.8,518.9 C234.6,510.9 235.7,500.9 236.3,497.0 C236.9,493.1 237.2,495.2 237.6,495.2 C238.0,495.2 238.4,495.0 238.9,497.0 C239.4,499.0 240.0,501.8 240.5,507.1 C241.0,512.4 241.3,523.6 241.7,528.8 C242.1,533.9 242.3,534.1 242.7,538.0 C243.1,541.9 243.8,549.3 244.3,552.4 C244.8,555.5 245.0,555.6 245.5,556.5 C246.0,557.4 246.5,557.7 247.1,557.7 C247.7,557.7 248.3,557.2 248.8,556.5 C249.3,555.8 249.5,557.2 250.1,553.2 C250.7,549.2 251.6,539.1 252.3,532.4 C253.1,525.7 253.7,517.6 254.6,513.1 C255.5,508.7 256.5,506.6 257.5,505.7 C258.5,504.8 259.5,506.4 260.5,507.9 C261.5,509.4 262.6,510.5 263.5,514.6 C264.4,518.7 264.9,527.5 265.7,532.4 C266.4,537.3 267.2,543.3 268.0,544.3 C268.8,545.3 269.6,543.3 270.2,538.4 C270.8,533.5 271.2,520.8 271.7,514.6 C272.1,508.4 272.5,501.2 272.9,501.2 C273.3,501.2 273.6,507.4 273.9,514.6 C274.2,521.8 274.5,537.0 274.9,544.3 C275.3,551.6 273.6,556.0 276.1,558.3 C278.7,560.6 287.5,562.6 290.2,558.3 C292.9,554.0 291.5,538.7 292.2,532.4 C292.9,526.1 293.6,522.7 294.5,520.5 C295.4,518.3 296.4,519.2 297.4,519.0 C298.4,518.8 299.5,518.0 300.4,519.0 C301.3,520.0 302.0,520.8 302.6,525.0 C303.2,529.2 303.6,538.8 304.1,544.3 C304.6,549.8 304.5,556.0 305.6,558.3 C306.7,560.6 309.6,562.6 310.8,558.3 C312.0,554.0 312.4,539.4 313.0,532.4 C313.6,525.4 313.9,517.0 314.5,516.0 C315.1,515.0 315.9,519.8 316.4,526.5 C316.9,533.2 317.1,550.9 317.5,556.2 C317.9,561.5 318.2,557.9 319.0,558.3 C319.8,558.6 321.6,562.1 322.5,558.3 C323.4,554.5 323.9,535.4 324.5,535.4 C325.1,535.4 325.4,554.5 326.0,558.3 C326.6,562.1 327.4,561.2 328.0,558.3 C328.6,555.3 329.3,540.6 329.8,540.6 C330.3,540.6 330.5,557.5 330.9,558.3 C331.3,559.1 331.7,545.3 332.1,545.3 C332.5,545.3 332.9,557.8 333.3,558.3 C333.7,558.8 334.1,548.3 334.5,548.3 C334.9,548.3 335.3,558.0 335.7,558.3 C336.1,558.6 336.5,550.3 336.9,550.3 C337.3,550.3 337.7,558.1 338.1,558.3 C338.5,558.5 338.9,551.3 339.3,551.3 C339.7,551.3 340.1,558.1 340.5,558.3 C340.9,558.5 341.3,552.3 341.7,552.3 C342.1,552.3 342.5,558.1 342.9,558.3 C343.3,558.5 343.7,553.3 344.1,553.3 C344.5,553.3 344.9,558.2 345.3,558.3 C345.7,558.4 346.1,553.8 346.5,553.8 C346.9,553.8 347.3,558.2 347.7,558.3 C348.1,558.4 348.5,554.3 348.9,554.3 C349.3,554.3 349.7,558.2 350.1,558.3 C350.5,558.4 350.9,554.8 351.3,554.8 C351.7,554.8 352.1,558.2 352.5,558.3 C352.9,558.4 353.3,555.3 353.7,555.3 C354.1,555.3 354.5,558.3 354.9,558.3 C355.3,558.3 355.7,555.3 356.1,555.3 C356.5,555.3 356.9,558.2 357.3,558.3 C357.7,558.4 358.1,555.8 358.5,555.8 C358.9,555.8 360.0,557.9 359.7,558.3 C359.4,558.7 357.1,558.3 356.6,558.3" fill="none" stroke="#e02828" stroke-width="1.35" stroke-linejoin="round" stroke-linecap="round"/>
<path clip-path="url(#clipc)" d="M356.6,558.3 C358.5,556.6 364.1,551.6 368.0,548.3 C371.9,545.0 377.3,540.4 379.7,538.3 C382.1,536.2 381.7,536.5 382.4,535.6 C383.1,534.7 383.1,533.5 383.7,533.0 C384.2,532.5 385.1,532.8 385.7,532.3 C386.2,531.8 386.4,531.6 387.0,530.3 C387.6,529.0 388.3,525.7 389.0,524.4 C389.7,523.1 390.3,522.7 391.0,522.4 C391.7,522.1 392.4,522.9 393.0,522.4 C393.6,521.9 393.8,520.0 394.3,519.1 C394.9,518.2 395.6,518.0 396.3,517.1 C397.0,516.2 397.6,515.0 398.3,513.8 C399.0,512.6 399.6,510.8 400.3,509.8 C401.0,508.8 401.5,508.4 402.3,507.8 C403.1,507.2 404.0,507.1 404.9,506.5 C405.8,505.9 406.6,505.2 407.5,504.5 C408.4,503.8 409.1,503.1 410.2,502.5 C411.3,501.9 412.8,501.5 414.2,501.2 C415.6,500.9 417.4,501.1 418.9,500.8 C420.3,500.5 421.4,499.9 422.9,499.2 C424.4,498.5 426.3,497.2 427.8,496.7 C429.3,496.1 430.5,495.9 431.8,495.9 C433.1,495.9 434.7,497.0 435.8,496.7 C436.9,496.4 437.5,495.8 438.3,494.3 C439.1,492.8 440.0,489.4 440.7,487.9 C441.4,486.4 441.8,485.4 442.3,485.4 C442.8,485.4 443.4,487.3 443.9,487.9 C444.4,488.4 444.7,489.1 445.5,488.7 C446.3,488.3 447.4,486.8 448.8,485.4 C450.2,484.0 452.0,482.2 453.6,480.6 C455.2,479.0 456.9,477.3 458.5,475.7 C460.1,474.1 462.0,472.4 463.3,470.9 C464.6,469.4 465.4,468.3 466.5,466.8 C467.6,465.3 468.9,463.2 469.8,462.0 C470.8,460.8 471.1,460.1 472.2,459.6 C473.3,459.1 474.4,458.8 476.2,458.8 C477.9,458.8 480.3,459.1 482.7,459.6 C485.1,460.1 488.5,461.1 490.8,461.7 C493.1,462.2 494.4,462.6 496.5,462.9 C498.6,463.2 501.3,463.7 503.7,463.7 C506.1,463.7 508.7,463.7 511.0,462.9 C513.3,462.1 515.5,460.5 517.5,458.9 C519.5,457.3 521.5,455.4 523.1,453.2 C524.7,451.0 525.9,448.4 527.2,445.9 C528.6,443.3 530.0,439.9 531.2,437.9 C532.4,435.9 533.3,434.8 534.4,433.8 C535.5,432.9 536.8,432.3 537.7,432.2 C538.7,432.1 539.2,432.7 540.1,433.0 C541.0,433.3 541.9,433.9 543.3,433.8 C544.6,433.7 546.3,432.6 548.2,432.2 C550.1,431.8 552.5,431.9 554.6,431.4 C556.8,430.9 559.6,429.5 561.1,429.0 C562.6,428.5 562.8,429.2 563.9,428.5 C565.0,427.8 566.7,425.7 567.8,424.6 C568.9,423.5 569.7,421.6 570.7,421.7 C571.7,421.8 572.5,424.4 573.6,425.2 C574.7,426.0 575.9,426.6 577.5,426.5 C579.1,426.4 581.4,425.7 583.3,424.6 C585.2,423.5 587.3,421.5 589.1,419.7 C590.9,417.9 592.7,415.5 593.9,413.9 C595.1,412.3 595.7,410.2 596.5,410.0 C597.3,409.8 597.9,412.1 598.8,412.9 C599.7,413.7 600.6,415.0 601.7,414.9 C602.8,414.8 604.3,413.6 605.6,412.0 C606.9,410.4 608.4,407.4 609.5,405.2 C610.6,403.0 611.4,399.6 612.4,398.8 C613.4,398.0 614.3,400.5 615.3,400.3 C616.3,400.1 617.0,398.7 618.2,397.4 C619.4,396.1 621.8,393.4 622.5,392.6" fill="none" stroke="#1f1fcf" stroke-width="1.35" stroke-linejoin="round" stroke-linecap="round"/>
<path clip-path="url(#clipc)" d="M356.6,558.3 C358.5,556.6 364.1,551.6 368.0,548.3 C371.9,545.0 377.3,540.4 379.7,538.3 C382.1,536.2 381.7,536.3 382.4,535.6 C383.1,534.9 382.8,534.7 383.7,534.3 C384.6,533.9 386.7,533.9 387.7,533.0 C388.7,532.1 389.0,529.9 389.7,529.0 C390.4,528.1 390.6,528.0 391.7,527.7 C392.8,527.4 395.2,527.5 396.3,527.0 C397.4,526.5 397.5,525.8 398.3,524.4 C399.1,523.0 400.1,519.5 400.9,518.4 C401.7,517.3 401.6,517.8 402.9,517.7 C404.2,517.6 407.3,518.4 408.9,517.7 C410.4,517.1 411.0,515.3 412.2,513.8 C413.4,512.3 415.1,510.4 416.2,508.5 C417.3,506.6 417.8,504.1 418.9,502.4 C420.0,500.7 421.5,499.3 422.9,498.4 C424.2,497.4 425.5,496.9 427.0,496.7 C428.5,496.5 429.8,497.1 431.8,497.2 C433.8,497.3 437.5,498.2 439.1,497.2 C440.7,496.2 440.8,492.9 441.5,491.1 C442.2,489.3 442.3,487.3 443.1,486.2 C443.9,485.1 445.1,485.3 446.3,484.6 C447.5,483.9 448.6,483.8 450.4,482.2 C452.1,480.6 454.9,477.0 456.8,474.9 C458.7,472.8 460.4,470.7 461.7,469.3 C463.0,467.9 463.8,466.9 464.9,466.5 C466.0,466.1 467.1,467.3 468.2,467.2 C469.3,467.1 470.5,467.0 471.4,466.0 C472.3,465.0 473.0,463.1 473.8,461.2 C474.6,459.3 475.4,457.3 476.2,454.7 C477.0,452.1 477.9,448.5 478.7,445.8 C479.5,443.1 480.2,440.2 481.1,438.6 C482.0,437.1 481.2,436.9 484.3,436.5 C487.4,436.1 492.6,436.4 500.0,436.4 C507.4,436.4 523.5,436.6 528.8,436.4 C534.1,436.2 530.8,436.1 532.0,435.4 C533.2,434.7 534.9,433.7 536.0,432.2 C537.1,430.7 537.5,429.1 538.5,426.5 C539.5,423.9 540.5,419.8 541.7,416.8 C542.9,413.9 544.1,411.2 545.7,408.8 C547.3,406.4 549.6,404.2 551.4,402.3 C553.1,400.4 554.9,398.9 556.2,397.5 C557.6,396.1 558.4,396.1 559.5,394.2 C560.6,392.3 561.6,388.9 562.7,386.2 C563.8,383.5 564.9,379.8 565.9,378.1 C566.9,376.4 564.8,376.5 568.7,376.1 C572.6,375.7 585.2,376.3 589.1,375.5 C593.0,374.7 591.0,373.4 592.0,371.2 C593.0,369.0 593.8,364.8 594.9,362.5 C596.0,360.2 597.3,358.8 598.8,357.7 C600.2,356.6 602.0,356.6 603.6,356.1 C605.2,355.6 607.0,355.5 608.5,354.8 C610.0,354.1 611.1,353.2 612.4,351.9 C613.7,350.6 614.6,348.6 616.2,347.0 C617.8,345.4 620.2,343.7 622.1,342.2 C624.0,340.7 626.6,338.6 627.5,337.9" fill="none" stroke="#e02828" stroke-width="1.35" stroke-linejoin="round" stroke-linecap="round"/>
</svg>
</body></html>
